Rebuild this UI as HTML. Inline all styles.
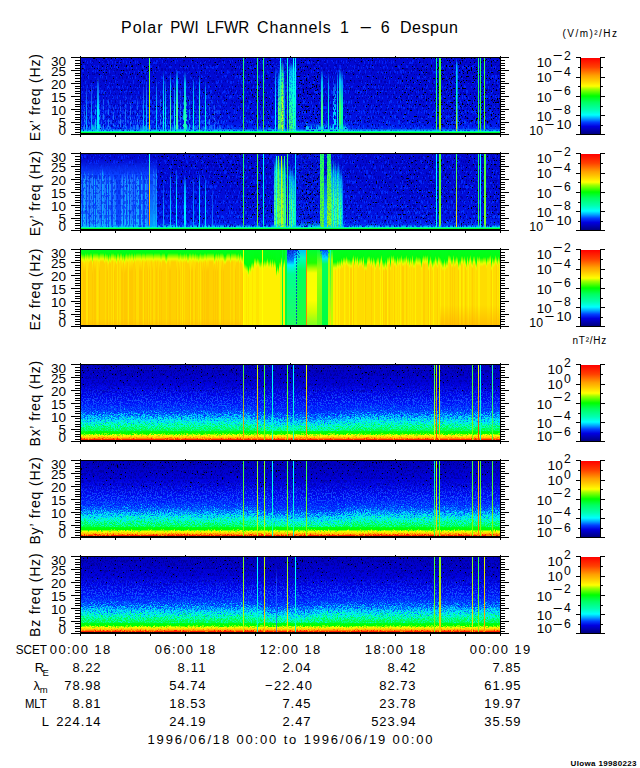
<!DOCTYPE html>
<html><head><meta charset="utf-8"><title>Polar PWI LFWR Channels 1-6 Despun</title>
<style>html,body{margin:0;padding:0;background:#fff;width:640px;height:768px;overflow:hidden}svg{display:block}</style>
</head><body>
<svg width="640" height="768" viewBox="0 0 640 768" font-family="'Liberation Sans', sans-serif" shape-rendering="crispEdges"><defs><clipPath id="clip0"><rect x="81" y="58" width="419" height="75"/></clipPath><filter id="dispA" x="0" y="0" width="1" height="1" color-interpolation-filters="sRGB"><feTurbulence type="fractalNoise" baseFrequency="1.3 0.9" numOctaves="2" seed="51" result="n"/><feColorMatrix in="n" type="matrix" values="1 0 0 0 0  0 0 0 0 0.5  0 0 0 0 0  0 0 0 0 1" result="m"/><feDisplacementMap in="SourceGraphic" in2="m" scale="28" xChannelSelector="G" yChannelSelector="R"/></filter><filter id="dispB" x="0" y="0" width="1" height="1" color-interpolation-filters="sRGB"><feTurbulence type="fractalNoise" baseFrequency="1.3 0.9" numOctaves="2" seed="53" result="n"/><feColorMatrix in="n" type="matrix" values="1 0 0 0 0  0 0 0 0 0.5  0 0 0 0 0  0 0 0 0 1" result="m"/><feDisplacementMap in="SourceGraphic" in2="m" scale="4" xChannelSelector="G" yChannelSelector="R"/></filter><filter id="d1" x="0" y="0" width="1" height="1" color-interpolation-filters="sRGB"><feTurbulence type="fractalNoise" baseFrequency="0.8 0.5" numOctaves="2" seed="11"/><feColorMatrix type="matrix" values="0 0 0 0 0  0 0 0 0 0  0 0 0 0 0  -30 0 0 0 7.200"/></filter><filter id="d3" x="0" y="0" width="1" height="1" color-interpolation-filters="sRGB"><feTurbulence type="fractalNoise" baseFrequency="0.8 0.5" numOctaves="2" seed="11"/><feColorMatrix type="matrix" values="0 0 0 0 0  0 0 0 0 0  0 0 0 0 0  -30 0 0 0 8.250"/></filter><filter id="d6" x="0" y="0" width="1" height="1" color-interpolation-filters="sRGB"><feTurbulence type="fractalNoise" baseFrequency="0.8 0.5" numOctaves="2" seed="11"/><feColorMatrix type="matrix" values="0 0 0 0 0  0 0 0 0 0  0 0 0 0 0  -30 0 0 0 9.300"/></filter><filter id="d10" x="0" y="0" width="1" height="1" color-interpolation-filters="sRGB"><feTurbulence type="fractalNoise" baseFrequency="0.8 0.5" numOctaves="2" seed="11"/><feColorMatrix type="matrix" values="0 0 0 0 0  0 0 0 0 0  0 0 0 0 0  -30 0 0 0 10.260"/></filter><filter id="d14" x="0" y="0" width="1" height="1" color-interpolation-filters="sRGB"><feTurbulence type="fractalNoise" baseFrequency="0.8 0.5" numOctaves="2" seed="11"/><feColorMatrix type="matrix" values="0 0 0 0 0  0 0 0 0 0  0 0 0 0 0  -30 0 0 0 11.100"/></filter><filter id="e2" x="0" y="0" width="1" height="1" color-interpolation-filters="sRGB"><feTurbulence type="fractalNoise" baseFrequency="0.8 0.5" numOctaves="2" seed="23"/><feColorMatrix type="matrix" values="0 0 0 0 0  0 0 0 0 0  0 0 0 0 0  -30 0 0 0 7.800"/></filter><filter id="e4" x="0" y="0" width="1" height="1" color-interpolation-filters="sRGB"><feTurbulence type="fractalNoise" baseFrequency="0.8 0.5" numOctaves="2" seed="23"/><feColorMatrix type="matrix" values="0 0 0 0 0  0 0 0 0 0  0 0 0 0 0  -30 0 0 0 8.700"/></filter><filter id="e8" x="0" y="0" width="1" height="1" color-interpolation-filters="sRGB"><feTurbulence type="fractalNoise" baseFrequency="0.8 0.5" numOctaves="2" seed="23"/><feColorMatrix type="matrix" values="0 0 0 0 0  0 0 0 0 0  0 0 0 0 0  -30 0 0 0 9.750"/></filter><filter id="fv25" x="0" y="0" width="1" height="1" color-interpolation-filters="sRGB"><feTurbulence type="fractalNoise" baseFrequency="1.0 0.2" numOctaves="2" seed="5"/><feColorMatrix type="matrix" values="30 0 0 0 -17.400  30 0 0 0 -17.400  30 0 0 0 -17.400  0 0 0 0 1"/></filter><mask id="v25" maskUnits="userSpaceOnUse" x="81" y="0" width="419" height="768"><rect x="81" y="0" width="419" height="768" fill="#fff" filter="url(#fv25)"/></mask><filter id="fv40" x="0" y="0" width="1" height="1" color-interpolation-filters="sRGB"><feTurbulence type="fractalNoise" baseFrequency="1.0 0.2" numOctaves="2" seed="7"/><feColorMatrix type="matrix" values="30 0 0 0 -15.900  30 0 0 0 -15.900  30 0 0 0 -15.900  0 0 0 0 1"/></filter><mask id="v40" maskUnits="userSpaceOnUse" x="81" y="0" width="419" height="768"><rect x="81" y="0" width="419" height="768" fill="#fff" filter="url(#fv40)"/></mask><filter id="fv60" x="0" y="0" width="1" height="1" color-interpolation-filters="sRGB"><feTurbulence type="fractalNoise" baseFrequency="1.0 0.2" numOctaves="2" seed="9"/><feColorMatrix type="matrix" values="30 0 0 0 -14.100  30 0 0 0 -14.100  30 0 0 0 -14.100  0 0 0 0 1"/></filter><mask id="v60" maskUnits="userSpaceOnUse" x="81" y="0" width="419" height="768"><rect x="81" y="0" width="419" height="768" fill="#fff" filter="url(#fv60)"/></mask><filter id="fv80" x="0" y="0" width="1" height="1" color-interpolation-filters="sRGB"><feTurbulence type="fractalNoise" baseFrequency="1.0 0.2" numOctaves="2" seed="13"/><feColorMatrix type="matrix" values="30 0 0 0 -12.000  30 0 0 0 -12.000  30 0 0 0 -12.000  0 0 0 0 1"/></filter><mask id="v80" maskUnits="userSpaceOnUse" x="81" y="0" width="419" height="768"><rect x="81" y="0" width="419" height="768" fill="#fff" filter="url(#fv80)"/></mask><filter id="fw25" x="0" y="0" width="1" height="1" color-interpolation-filters="sRGB"><feTurbulence type="fractalNoise" baseFrequency="1.0 0.25" numOctaves="2" seed="21"/><feColorMatrix type="matrix" values="30 0 0 0 -17.400  30 0 0 0 -17.400  30 0 0 0 -17.400  0 0 0 0 1"/></filter><mask id="w25" maskUnits="userSpaceOnUse" x="81" y="0" width="419" height="768"><rect x="81" y="0" width="419" height="768" fill="#fff" filter="url(#fw25)"/></mask><filter id="fw40" x="0" y="0" width="1" height="1" color-interpolation-filters="sRGB"><feTurbulence type="fractalNoise" baseFrequency="1.0 0.3" numOctaves="2" seed="29"/><feColorMatrix type="matrix" values="30 0 0 0 -15.900  30 0 0 0 -15.900  30 0 0 0 -15.900  0 0 0 0 1"/></filter><mask id="w40" maskUnits="userSpaceOnUse" x="81" y="0" width="419" height="768"><rect x="81" y="0" width="419" height="768" fill="#fff" filter="url(#fw40)"/></mask><filter id="fm35" x="0" y="0" width="1" height="1" color-interpolation-filters="sRGB"><feTurbulence type="fractalNoise" baseFrequency="0.8 0.6" numOctaves="2" seed="17"/><feColorMatrix type="matrix" values="30 0 0 0 -16.350  30 0 0 0 -16.350  30 0 0 0 -16.350  0 0 0 0 1"/></filter><mask id="m35" maskUnits="userSpaceOnUse" x="81" y="0" width="419" height="768"><rect x="81" y="0" width="419" height="768" fill="#fff" filter="url(#fm35)"/></mask><filter id="ft35" x="0" y="0" width="1" height="1" color-interpolation-filters="sRGB"><feTurbulence type="fractalNoise" baseFrequency="1.0 0.3" numOctaves="2" seed="41"/><feColorMatrix type="matrix" values="30 0 0 0 -16.350  30 0 0 0 -16.350  30 0 0 0 -16.350  0 0 0 0 1"/></filter><mask id="t35" maskUnits="userSpaceOnUse" x="81" y="0" width="419" height="768"><rect x="81" y="0" width="419" height="768" fill="#fff" filter="url(#ft35)"/></mask><filter id="fvs50" x="0" y="0" width="1" height="1" color-interpolation-filters="sRGB"><feTurbulence type="fractalNoise" baseFrequency="0.9 0.04" numOctaves="2" seed="61"/><feColorMatrix type="matrix" values="30 0 0 0 -15.000  30 0 0 0 -15.000  30 0 0 0 -15.000  0 0 0 0 1"/></filter><mask id="vs50" maskUnits="userSpaceOnUse" x="81" y="0" width="419" height="768"><rect x="81" y="0" width="419" height="768" fill="#fff" filter="url(#fvs50)"/></mask><filter id="fvs30" x="0" y="0" width="1" height="1" color-interpolation-filters="sRGB"><feTurbulence type="fractalNoise" baseFrequency="0.9 0.04" numOctaves="2" seed="67"/><feColorMatrix type="matrix" values="30 0 0 0 -16.800  30 0 0 0 -16.800  30 0 0 0 -16.800  0 0 0 0 1"/></filter><mask id="vs30" maskUnits="userSpaceOnUse" x="81" y="0" width="419" height="768"><rect x="81" y="0" width="419" height="768" fill="#fff" filter="url(#fvs30)"/></mask><filter id="ft35b" x="0" y="0" width="1" height="1" color-interpolation-filters="sRGB"><feTurbulence type="fractalNoise" baseFrequency="1.0 0.3" numOctaves="2" seed="43"/><feColorMatrix type="matrix" values="30 0 0 0 -16.350  30 0 0 0 -16.350  30 0 0 0 -16.350  0 0 0 0 1"/></filter><mask id="t35b" maskUnits="userSpaceOnUse" x="81" y="0" width="419" height="768"><rect x="81" y="0" width="419" height="768" fill="#fff" filter="url(#ft35b)"/></mask><filter id="fm50" x="0" y="0" width="1" height="1" color-interpolation-filters="sRGB"><feTurbulence type="fractalNoise" baseFrequency="0.8 0.6" numOctaves="2" seed="19"/><feColorMatrix type="matrix" values="30 0 0 0 -15.000  30 0 0 0 -15.000  30 0 0 0 -15.000  0 0 0 0 1"/></filter><mask id="m50" maskUnits="userSpaceOnUse" x="81" y="0" width="419" height="768"><rect x="81" y="0" width="419" height="768" fill="#fff" filter="url(#fm50)"/></mask><filter id="fm35b" x="0" y="0" width="1" height="1" color-interpolation-filters="sRGB"><feTurbulence type="fractalNoise" baseFrequency="0.8 0.6" numOctaves="2" seed="31"/><feColorMatrix type="matrix" values="30 0 0 0 -16.350  30 0 0 0 -16.350  30 0 0 0 -16.350  0 0 0 0 1"/></filter><mask id="m35b" maskUnits="userSpaceOnUse" x="81" y="0" width="419" height="768"><rect x="81" y="0" width="419" height="768" fill="#fff" filter="url(#fm35b)"/></mask><linearGradient id="g1" gradientUnits="userSpaceOnUse" x1="0" y1="58" x2="0" y2="133"><stop offset="0.0000" stop-color="#0008d0"/><stop offset="0.5333" stop-color="#000cd8"/><stop offset="0.8400" stop-color="#0014e4"/><stop offset="0.9467" stop-color="#0024f4"/><stop offset="1.0000" stop-color="#0030ff"/></linearGradient><linearGradient id="g2" gradientUnits="userSpaceOnUse" x1="0" y1="58" x2="0" y2="133"><stop offset="0.0000" stop-color="#0020f8"/><stop offset="0.7333" stop-color="#0030ff"/><stop offset="1.0000" stop-color="#0050ff"/></linearGradient><linearGradient id="g3" gradientUnits="userSpaceOnUse" x1="0" y1="88" x2="0" y2="133"><stop offset="0.0000" stop-color="#1050ff" stop-opacity="0"/><stop offset="0.7778" stop-color="#1060ff" stop-opacity="0.7"/><stop offset="1.0000" stop-color="#10a0ff"/></linearGradient><linearGradient id="g4" gradientUnits="userSpaceOnUse" x1="0" y1="95" x2="0" y2="133"><stop offset="0.0000" stop-color="#2080ff" stop-opacity="0.0"/><stop offset="0.2000" stop-color="#2080ff" stop-opacity="0.6"/><stop offset="0.6000" stop-color="#2080ff" stop-opacity="0.8999999999999999"/><stop offset="1.0000" stop-color="#2080ff"/></linearGradient><linearGradient id="g5" gradientUnits="userSpaceOnUse" x1="0" y1="100" x2="0" y2="133"><stop offset="0.0000" stop-color="#2080ff" stop-opacity="0.0"/><stop offset="0.2000" stop-color="#2080ff" stop-opacity="0.6"/><stop offset="0.6000" stop-color="#2080ff" stop-opacity="0.8999999999999999"/><stop offset="1.0000" stop-color="#2080ff"/></linearGradient><linearGradient id="g6" gradientUnits="userSpaceOnUse" x1="0" y1="95" x2="0" y2="133"><stop offset="0.0000" stop-color="#2080ff" stop-opacity="0.0"/><stop offset="0.2000" stop-color="#2080ff" stop-opacity="0.6"/><stop offset="0.6000" stop-color="#2080ff" stop-opacity="0.8999999999999999"/><stop offset="1.0000" stop-color="#2080ff"/></linearGradient><linearGradient id="g7" gradientUnits="userSpaceOnUse" x1="0" y1="105" x2="0" y2="133"><stop offset="0.0000" stop-color="#2080ff" stop-opacity="0.0"/><stop offset="0.2000" stop-color="#2080ff" stop-opacity="0.6"/><stop offset="0.6000" stop-color="#2080ff" stop-opacity="0.8999999999999999"/><stop offset="1.0000" stop-color="#2080ff"/></linearGradient><linearGradient id="g8" gradientUnits="userSpaceOnUse" x1="0" y1="100" x2="0" y2="133"><stop offset="0.0000" stop-color="#2080ff" stop-opacity="0.0"/><stop offset="0.2000" stop-color="#2080ff" stop-opacity="0.6"/><stop offset="0.6000" stop-color="#2080ff" stop-opacity="0.8999999999999999"/><stop offset="1.0000" stop-color="#2080ff"/></linearGradient><linearGradient id="g9" gradientUnits="userSpaceOnUse" x1="0" y1="90" x2="0" y2="133"><stop offset="0.0000" stop-color="#2080ff" stop-opacity="0.0"/><stop offset="0.2000" stop-color="#2080ff" stop-opacity="0.6"/><stop offset="0.6000" stop-color="#2080ff" stop-opacity="0.8999999999999999"/><stop offset="1.0000" stop-color="#2080ff"/></linearGradient><linearGradient id="g10" gradientUnits="userSpaceOnUse" x1="0" y1="92" x2="0" y2="133"><stop offset="0.0000" stop-color="#2080ff" stop-opacity="0.0"/><stop offset="0.2000" stop-color="#2080ff" stop-opacity="0.6"/><stop offset="0.6000" stop-color="#2080ff" stop-opacity="0.8999999999999999"/><stop offset="1.0000" stop-color="#2080ff"/></linearGradient><linearGradient id="g11" gradientUnits="userSpaceOnUse" x1="0" y1="96" x2="0" y2="133"><stop offset="0.0000" stop-color="#2080ff" stop-opacity="0.0"/><stop offset="0.2000" stop-color="#2080ff" stop-opacity="0.6"/><stop offset="0.6000" stop-color="#2080ff" stop-opacity="0.8999999999999999"/><stop offset="1.0000" stop-color="#2080ff"/></linearGradient><linearGradient id="g12" gradientUnits="userSpaceOnUse" x1="0" y1="90" x2="0" y2="133"><stop offset="0.0000" stop-color="#2080ff" stop-opacity="0.0"/><stop offset="0.2000" stop-color="#2080ff" stop-opacity="0.6"/><stop offset="0.6000" stop-color="#2080ff" stop-opacity="0.8999999999999999"/><stop offset="1.0000" stop-color="#2080ff"/></linearGradient><linearGradient id="g13" gradientUnits="userSpaceOnUse" x1="0" y1="88" x2="0" y2="133"><stop offset="0.0000" stop-color="#2080ff" stop-opacity="0.0"/><stop offset="0.2000" stop-color="#2080ff" stop-opacity="0.6"/><stop offset="0.6000" stop-color="#2080ff" stop-opacity="0.8999999999999999"/><stop offset="1.0000" stop-color="#2080ff"/></linearGradient><linearGradient id="g14" gradientUnits="userSpaceOnUse" x1="0" y1="95" x2="0" y2="133"><stop offset="0.0000" stop-color="#00a0ff" stop-opacity="0.0"/><stop offset="0.2000" stop-color="#00a0ff" stop-opacity="0.6"/><stop offset="0.6000" stop-color="#00a0ff" stop-opacity="0.8999999999999999"/><stop offset="1.0000" stop-color="#00a0ff"/></linearGradient><linearGradient id="g15" gradientUnits="userSpaceOnUse" x1="0" y1="100" x2="0" y2="133"><stop offset="0.0000" stop-color="#2080ff" stop-opacity="0.0"/><stop offset="0.2000" stop-color="#2080ff" stop-opacity="0.6"/><stop offset="0.6000" stop-color="#2080ff" stop-opacity="0.8999999999999999"/><stop offset="1.0000" stop-color="#2080ff"/></linearGradient><linearGradient id="g16" gradientUnits="userSpaceOnUse" x1="0" y1="104" x2="0" y2="133"><stop offset="0.0000" stop-color="#2080ff" stop-opacity="0.0"/><stop offset="0.2000" stop-color="#2080ff" stop-opacity="0.6"/><stop offset="0.6000" stop-color="#2080ff" stop-opacity="0.8999999999999999"/><stop offset="1.0000" stop-color="#2080ff"/></linearGradient><linearGradient id="g17" gradientUnits="userSpaceOnUse" x1="0" y1="122" x2="0" y2="133"><stop offset="0.0000" stop-color="#00c0ff" stop-opacity="0.0"/><stop offset="0.2000" stop-color="#00c0ff" stop-opacity="0.6"/><stop offset="0.6000" stop-color="#00c0ff" stop-opacity="0.8999999999999999"/><stop offset="1.0000" stop-color="#00c0ff"/></linearGradient><linearGradient id="g18" gradientUnits="userSpaceOnUse" x1="0" y1="100" x2="0" y2="133"><stop offset="0.0000" stop-color="#00c0ff" stop-opacity="0.0"/><stop offset="0.2000" stop-color="#00c0ff" stop-opacity="0.6"/><stop offset="0.6000" stop-color="#00c0ff" stop-opacity="0.8999999999999999"/><stop offset="1.0000" stop-color="#00c0ff"/></linearGradient><linearGradient id="g19" gradientUnits="userSpaceOnUse" x1="0" y1="98" x2="0" y2="133"><stop offset="0.0000" stop-color="#00c0ff" stop-opacity="0.0"/><stop offset="0.2000" stop-color="#00c0ff" stop-opacity="0.6"/><stop offset="0.6000" stop-color="#00c0ff" stop-opacity="0.8999999999999999"/><stop offset="1.0000" stop-color="#00c0ff"/></linearGradient><linearGradient id="g20" gradientUnits="userSpaceOnUse" x1="0" y1="100" x2="0" y2="133"><stop offset="0.0000" stop-color="#00ffc0" stop-opacity="0.0"/><stop offset="0.2000" stop-color="#00ffc0" stop-opacity="0.6"/><stop offset="0.6000" stop-color="#00ffc0" stop-opacity="0.8999999999999999"/><stop offset="1.0000" stop-color="#00ffc0"/></linearGradient><linearGradient id="g21" gradientUnits="userSpaceOnUse" x1="0" y1="95" x2="0" y2="133"><stop offset="0.0000" stop-color="#00ffc0" stop-opacity="0.0"/><stop offset="0.2000" stop-color="#00ffc0" stop-opacity="0.6"/><stop offset="0.6000" stop-color="#00ffc0" stop-opacity="0.8999999999999999"/><stop offset="1.0000" stop-color="#00ffc0"/></linearGradient><linearGradient id="g22" gradientUnits="userSpaceOnUse" x1="0" y1="75" x2="0" y2="133"><stop offset="0.0000" stop-color="#1080ff" stop-opacity="0.0"/><stop offset="0.2000" stop-color="#1080ff" stop-opacity="0.6"/><stop offset="0.6000" stop-color="#00e0ff" stop-opacity="0.8999999999999999"/><stop offset="1.0000" stop-color="#00e0ff"/></linearGradient><linearGradient id="g23" gradientUnits="userSpaceOnUse" x1="0" y1="80" x2="0" y2="133"><stop offset="0.0000" stop-color="#00e0ff" stop-opacity="0.0"/><stop offset="0.2000" stop-color="#00e0ff" stop-opacity="0.6"/><stop offset="0.6000" stop-color="#00e0ff" stop-opacity="0.8999999999999999"/><stop offset="1.0000" stop-color="#00e0ff"/></linearGradient><linearGradient id="g24" gradientUnits="userSpaceOnUse" x1="0" y1="119" x2="0" y2="133"><stop offset="0.0000" stop-color="#00c0ff" stop-opacity="0"/><stop offset="1.0000" stop-color="#00ffc0"/></linearGradient><linearGradient id="g25" gradientUnits="userSpaceOnUse" x1="0" y1="124" x2="0" y2="133"><stop offset="0.0000" stop-color="#00c0ff" stop-opacity="0"/><stop offset="1.0000" stop-color="#00ffc0"/></linearGradient><linearGradient id="g26" gradientUnits="userSpaceOnUse" x1="0" y1="125" x2="0" y2="133"><stop offset="0.0000" stop-color="#00c0ff" stop-opacity="0"/><stop offset="1.0000" stop-color="#00ffc0"/></linearGradient><linearGradient id="g27" gradientUnits="userSpaceOnUse" x1="0" y1="128" x2="0" y2="133"><stop offset="0.0000" stop-color="#00c0ff" stop-opacity="0"/><stop offset="1.0000" stop-color="#00ffc0"/></linearGradient><linearGradient id="g28" gradientUnits="userSpaceOnUse" x1="0" y1="129" x2="0" y2="133"><stop offset="0.0000" stop-color="#00c0ff" stop-opacity="0"/><stop offset="1.0000" stop-color="#00ffc0"/></linearGradient><linearGradient id="g29" gradientUnits="userSpaceOnUse" x1="0" y1="126" x2="0" y2="133"><stop offset="0.0000" stop-color="#00c0ff" stop-opacity="0"/><stop offset="1.0000" stop-color="#00ffc0"/></linearGradient><linearGradient id="g30" gradientUnits="userSpaceOnUse" x1="0" y1="84" x2="0" y2="133"><stop offset="0.0000" stop-color="#2070ff" stop-opacity="0.0"/><stop offset="0.2000" stop-color="#2070ff" stop-opacity="0.6"/><stop offset="0.6000" stop-color="#00b0ff" stop-opacity="0.8999999999999999"/><stop offset="1.0000" stop-color="#00b0ff"/></linearGradient><linearGradient id="g31" gradientUnits="userSpaceOnUse" x1="0" y1="81" x2="0" y2="133"><stop offset="0.0000" stop-color="#2070ff" stop-opacity="0.0"/><stop offset="0.2000" stop-color="#2070ff" stop-opacity="0.6"/><stop offset="0.6000" stop-color="#00b0ff" stop-opacity="0.8999999999999999"/><stop offset="1.0000" stop-color="#00b0ff"/></linearGradient><linearGradient id="g32" gradientUnits="userSpaceOnUse" x1="0" y1="76" x2="0" y2="133"><stop offset="0.0000" stop-color="#10a0ff" stop-opacity="0.0"/><stop offset="0.2000" stop-color="#10a0ff" stop-opacity="0.7"/><stop offset="0.6000" stop-color="#00f0ff"/><stop offset="1.0000" stop-color="#00f0ff"/></linearGradient><linearGradient id="g33" gradientUnits="userSpaceOnUse" x1="0" y1="82" x2="0" y2="133"><stop offset="0.0000" stop-color="#2070ff" stop-opacity="0.0"/><stop offset="0.2000" stop-color="#2070ff" stop-opacity="0.6"/><stop offset="0.6000" stop-color="#00c0ff" stop-opacity="0.8999999999999999"/><stop offset="1.0000" stop-color="#00c0ff"/></linearGradient><linearGradient id="g34" gradientUnits="userSpaceOnUse" x1="0" y1="77" x2="0" y2="133"><stop offset="0.0000" stop-color="#2080ff" stop-opacity="0.0"/><stop offset="0.2000" stop-color="#2080ff" stop-opacity="0.6"/><stop offset="0.6000" stop-color="#00d0ff" stop-opacity="0.8999999999999999"/><stop offset="1.0000" stop-color="#00d0ff"/></linearGradient><linearGradient id="g35" gradientUnits="userSpaceOnUse" x1="0" y1="78" x2="0" y2="133"><stop offset="0.0000" stop-color="#10a0ff" stop-opacity="0.0"/><stop offset="0.2000" stop-color="#10a0ff" stop-opacity="0.7"/><stop offset="0.6000" stop-color="#00d0ff"/><stop offset="1.0000" stop-color="#00d0ff"/></linearGradient><linearGradient id="g36" gradientUnits="userSpaceOnUse" x1="0" y1="70" x2="0" y2="133"><stop offset="0.0000" stop-color="#00c0ff" stop-opacity="0.0"/><stop offset="0.2000" stop-color="#00c0ff" stop-opacity="0.8"/><stop offset="0.6000" stop-color="#00ffe0"/><stop offset="1.0000" stop-color="#00ffe0"/></linearGradient><linearGradient id="g37" gradientUnits="userSpaceOnUse" x1="0" y1="78" x2="0" y2="133"><stop offset="0.0000" stop-color="#10a0ff" stop-opacity="0.0"/><stop offset="0.2000" stop-color="#10a0ff" stop-opacity="0.7"/><stop offset="0.6000" stop-color="#00e0ff"/><stop offset="1.0000" stop-color="#00e0ff"/></linearGradient><linearGradient id="g38" gradientUnits="userSpaceOnUse" x1="0" y1="72" x2="0" y2="133"><stop offset="0.0000" stop-color="#00e0ff" stop-opacity="0.0"/><stop offset="0.2000" stop-color="#00e0ff" stop-opacity="0.85"/><stop offset="0.6000" stop-color="#40ffa0"/><stop offset="1.0000" stop-color="#40ffa0"/></linearGradient><linearGradient id="g39" gradientUnits="userSpaceOnUse" x1="0" y1="80" x2="0" y2="133"><stop offset="0.0000" stop-color="#10a0ff" stop-opacity="0.0"/><stop offset="0.2000" stop-color="#10a0ff" stop-opacity="0.7"/><stop offset="0.6000" stop-color="#00e0ff"/><stop offset="1.0000" stop-color="#00e0ff"/></linearGradient><linearGradient id="g40" gradientUnits="userSpaceOnUse" x1="0" y1="69" x2="0" y2="133"><stop offset="0.0000" stop-color="#00e0ff" stop-opacity="0.0"/><stop offset="0.2000" stop-color="#00e0ff" stop-opacity="0.85"/><stop offset="0.6000" stop-color="#40ffa0"/><stop offset="1.0000" stop-color="#40ffa0"/></linearGradient><linearGradient id="g41" gradientUnits="userSpaceOnUse" x1="0" y1="71" x2="0" y2="133"><stop offset="0.0000" stop-color="#00e0ff" stop-opacity="0.0"/><stop offset="0.2000" stop-color="#00e0ff" stop-opacity="0.85"/><stop offset="0.6000" stop-color="#20ffb0"/><stop offset="1.0000" stop-color="#20ffb0"/></linearGradient><linearGradient id="g42" gradientUnits="userSpaceOnUse" x1="0" y1="77" x2="0" y2="133"><stop offset="0.0000" stop-color="#00c0ff" stop-opacity="0.0"/><stop offset="0.2000" stop-color="#00c0ff" stop-opacity="0.8"/><stop offset="0.6000" stop-color="#00ffe0"/><stop offset="1.0000" stop-color="#00ffe0"/></linearGradient><linearGradient id="g43" gradientUnits="userSpaceOnUse" x1="0" y1="74" x2="0" y2="133"><stop offset="0.0000" stop-color="#00e0ff" stop-opacity="0.0"/><stop offset="0.2000" stop-color="#00e0ff" stop-opacity="0.85"/><stop offset="0.6000" stop-color="#40ffa0"/><stop offset="1.0000" stop-color="#40ffa0"/></linearGradient><linearGradient id="g44" gradientUnits="userSpaceOnUse" x1="0" y1="80" x2="0" y2="133"><stop offset="0.0000" stop-color="#00c0ff" stop-opacity="0.0"/><stop offset="0.2000" stop-color="#00c0ff" stop-opacity="0.8"/><stop offset="0.6000" stop-color="#00ffe0"/><stop offset="1.0000" stop-color="#00ffe0"/></linearGradient><linearGradient id="g45" gradientUnits="userSpaceOnUse" x1="0" y1="67" x2="0" y2="133"><stop offset="0.0000" stop-color="#00c0ff" stop-opacity="0.0"/><stop offset="0.2000" stop-color="#00c0ff" stop-opacity="0.8"/><stop offset="0.6000" stop-color="#00ffff"/><stop offset="1.0000" stop-color="#00ffff"/></linearGradient><linearGradient id="g46" gradientUnits="userSpaceOnUse" x1="0" y1="70" x2="0" y2="133"><stop offset="0.0000" stop-color="#00e0ff" stop-opacity="0.0"/><stop offset="0.2000" stop-color="#00e0ff" stop-opacity="0.85"/><stop offset="0.6000" stop-color="#60ff60"/><stop offset="1.0000" stop-color="#60ff60"/></linearGradient><linearGradient id="g47" gradientUnits="userSpaceOnUse" x1="0" y1="66" x2="0" y2="133"><stop offset="0.0000" stop-color="#00e0ff" stop-opacity="0.0"/><stop offset="0.2000" stop-color="#00e0ff" stop-opacity="0.85"/><stop offset="0.6000" stop-color="#40ff80"/><stop offset="1.0000" stop-color="#40ff80"/></linearGradient><linearGradient id="g48" gradientUnits="userSpaceOnUse" x1="0" y1="60" x2="0" y2="133"><stop offset="0.0000" stop-color="#20ffa0" stop-opacity="0.0"/><stop offset="0.2000" stop-color="#20ffa0" stop-opacity="0.9"/><stop offset="0.6000" stop-color="#80ff40"/><stop offset="1.0000" stop-color="#80ff40"/></linearGradient><linearGradient id="g49" gradientUnits="userSpaceOnUse" x1="0" y1="58" x2="0" y2="133"><stop offset="0.0000" stop-color="#40ff80" stop-opacity="0.0"/><stop offset="0.2000" stop-color="#40ff80" stop-opacity="0.9"/><stop offset="0.6000" stop-color="#c0ff20"/><stop offset="1.0000" stop-color="#c0ff20"/></linearGradient><linearGradient id="g50" gradientUnits="userSpaceOnUse" x1="0" y1="62" x2="0" y2="133"><stop offset="0.0000" stop-color="#00ffc0" stop-opacity="0.0"/><stop offset="0.2000" stop-color="#00ffc0" stop-opacity="0.85"/><stop offset="0.6000" stop-color="#40ff60"/><stop offset="1.0000" stop-color="#40ff60"/></linearGradient><linearGradient id="g51" gradientUnits="userSpaceOnUse" x1="0" y1="75" x2="0" y2="133"><stop offset="0.0000" stop-color="#2070ff" stop-opacity="0.0"/><stop offset="0.2000" stop-color="#2070ff" stop-opacity="0.6"/><stop offset="0.6000" stop-color="#00c0ff" stop-opacity="0.8999999999999999"/><stop offset="1.0000" stop-color="#00c0ff"/></linearGradient><linearGradient id="g52" gradientUnits="userSpaceOnUse" x1="0" y1="66" x2="0" y2="133"><stop offset="0.0000" stop-color="#00c0ff" stop-opacity="0.0"/><stop offset="0.2000" stop-color="#00c0ff" stop-opacity="0.7"/><stop offset="0.6000" stop-color="#60ff60"/><stop offset="1.0000" stop-color="#60ff60"/></linearGradient><linearGradient id="g53" gradientUnits="userSpaceOnUse" x1="0" y1="64" x2="0" y2="133"><stop offset="0.0000" stop-color="#00d0ff" stop-opacity="0.0"/><stop offset="0.2000" stop-color="#00d0ff" stop-opacity="0.75"/><stop offset="0.6000" stop-color="#40ff80"/><stop offset="1.0000" stop-color="#40ff80"/></linearGradient><linearGradient id="g54" gradientUnits="userSpaceOnUse" x1="0" y1="66" x2="0" y2="133"><stop offset="0.0000" stop-color="#00e0ff" stop-opacity="0.0"/><stop offset="0.2000" stop-color="#00e0ff" stop-opacity="0.75"/><stop offset="0.6000" stop-color="#80ff40"/><stop offset="1.0000" stop-color="#80ff40"/></linearGradient><linearGradient id="g55" gradientUnits="userSpaceOnUse" x1="0" y1="68" x2="0" y2="133"><stop offset="0.0000" stop-color="#00c0ff" stop-opacity="0.0"/><stop offset="0.2000" stop-color="#00c0ff" stop-opacity="0.7"/><stop offset="0.6000" stop-color="#40ffa0"/><stop offset="1.0000" stop-color="#40ffa0"/></linearGradient><linearGradient id="g56" gradientUnits="userSpaceOnUse" x1="0" y1="71" x2="0" y2="133"><stop offset="0.0000" stop-color="#00d0ff" stop-opacity="0.0"/><stop offset="0.2000" stop-color="#00d0ff" stop-opacity="0.7"/><stop offset="0.6000" stop-color="#40ff80"/><stop offset="1.0000" stop-color="#40ff80"/></linearGradient><linearGradient id="g57" gradientUnits="userSpaceOnUse" x1="0" y1="69" x2="0" y2="133"><stop offset="0.0000" stop-color="#00e0ff" stop-opacity="0.0"/><stop offset="0.2000" stop-color="#00e0ff" stop-opacity="0.85"/><stop offset="0.6000" stop-color="#40ff80"/><stop offset="1.0000" stop-color="#40ff80"/></linearGradient><linearGradient id="g58" gradientUnits="userSpaceOnUse" x1="0" y1="72" x2="0" y2="133"><stop offset="0.0000" stop-color="#00c0ff" stop-opacity="0.0"/><stop offset="0.2000" stop-color="#00c0ff" stop-opacity="0.8"/><stop offset="0.6000" stop-color="#00ffc0"/><stop offset="1.0000" stop-color="#00ffc0"/></linearGradient><linearGradient id="g59" gradientUnits="userSpaceOnUse" x1="0" y1="70" x2="0" y2="133"><stop offset="0.0000" stop-color="#00c0ff" stop-opacity="0.0"/><stop offset="0.2000" stop-color="#00c0ff" stop-opacity="0.8"/><stop offset="0.6000" stop-color="#00ffd0"/><stop offset="1.0000" stop-color="#00ffd0"/></linearGradient><linearGradient id="g60" gradientUnits="userSpaceOnUse" x1="0" y1="67" x2="0" y2="133"><stop offset="0.0000" stop-color="#00e0ff" stop-opacity="0.0"/><stop offset="0.2000" stop-color="#00e0ff" stop-opacity="0.85"/><stop offset="0.6000" stop-color="#40ff60"/><stop offset="1.0000" stop-color="#40ff60"/></linearGradient><linearGradient id="g61" gradientUnits="userSpaceOnUse" x1="0" y1="70" x2="0" y2="133"><stop offset="0.0000" stop-color="#00c0ff" stop-opacity="0.0"/><stop offset="0.2000" stop-color="#00c0ff" stop-opacity="0.8"/><stop offset="0.6000" stop-color="#00ffa0"/><stop offset="1.0000" stop-color="#00ffa0"/></linearGradient><linearGradient id="g62" gradientUnits="userSpaceOnUse" x1="0" y1="123" x2="0" y2="133"><stop offset="0.0000" stop-color="#00c0ff" stop-opacity="0"/><stop offset="0.5000" stop-color="#00f0ff" stop-opacity="0.8"/><stop offset="1.0000" stop-color="#40ff60"/></linearGradient><linearGradient id="g63" gradientUnits="userSpaceOnUse" x1="0" y1="129" x2="0" y2="133"><stop offset="0.0000" stop-color="#00c0ff" stop-opacity="0"/><stop offset="1.0000" stop-color="#00ffc0" stop-opacity="0.9"/></linearGradient><linearGradient id="g64" gradientUnits="userSpaceOnUse" x1="0" y1="62" x2="0" y2="133"><stop offset="0.0000" stop-color="#00c0ff" stop-opacity="0"/><stop offset="0.1127" stop-color="#00e0ff" stop-opacity="0.7"/><stop offset="0.4648" stop-color="#00ffd0" stop-opacity="0.9"/><stop offset="1.0000" stop-color="#40ff60"/></linearGradient><linearGradient id="g65" gradientUnits="userSpaceOnUse" x1="0" y1="58" x2="0" y2="133"><stop offset="0.0000" stop-color="#00ffff"/><stop offset="0.5000" stop-color="#20ffa0"/><stop offset="1.0000" stop-color="#60ff40"/></linearGradient><linearGradient id="g66" gradientUnits="userSpaceOnUse" x1="0" y1="58" x2="0" y2="133"><stop offset="0.0000" stop-color="#00ffff"/><stop offset="1.0000" stop-color="#00ffe0"/></linearGradient><linearGradient id="g67" gradientUnits="userSpaceOnUse" x1="0" y1="58" x2="0" y2="133"><stop offset="0.0000" stop-color="#00ffff"/><stop offset="1.0000" stop-color="#00ffe0"/></linearGradient><linearGradient id="g68" gradientUnits="userSpaceOnUse" x1="0" y1="58" x2="0" y2="133"><stop offset="0.0000" stop-color="#40ff60"/><stop offset="0.5000" stop-color="#a0ff00"/><stop offset="1.0000" stop-color="#ffe000"/></linearGradient><linearGradient id="g69" gradientUnits="userSpaceOnUse" x1="0" y1="58" x2="0" y2="133"><stop offset="0.0000" stop-color="#20ff70"/><stop offset="1.0000" stop-color="#40ff40"/></linearGradient><linearGradient id="g70" gradientUnits="userSpaceOnUse" x1="0" y1="58" x2="0" y2="133"><stop offset="0.0000" stop-color="#20ff70"/><stop offset="1.0000" stop-color="#40ff40"/></linearGradient><linearGradient id="g71" gradientUnits="userSpaceOnUse" x1="0" y1="58" x2="0" y2="133"><stop offset="0.0000" stop-color="#20ff70"/><stop offset="1.0000" stop-color="#40ff40"/></linearGradient><linearGradient id="g72" gradientUnits="userSpaceOnUse" x1="0" y1="58" x2="0" y2="133"><stop offset="0.0000" stop-color="#00ffe0"/><stop offset="1.0000" stop-color="#40ff60"/></linearGradient><linearGradient id="g73" gradientUnits="userSpaceOnUse" x1="0" y1="58" x2="0" y2="133"><stop offset="0.0000" stop-color="#00ffa0"/><stop offset="1.0000" stop-color="#40ff40"/></linearGradient><linearGradient id="g74" gradientUnits="userSpaceOnUse" x1="0" y1="58" x2="0" y2="133"><stop offset="0.0000" stop-color="#20ff70"/><stop offset="1.0000" stop-color="#40ff40"/></linearGradient><linearGradient id="g75" gradientUnits="userSpaceOnUse" x1="0" y1="58" x2="0" y2="133"><stop offset="0.0000" stop-color="#20ff70"/><stop offset="1.0000" stop-color="#40ff40"/></linearGradient><linearGradient id="g76" gradientUnits="userSpaceOnUse" x1="0" y1="58" x2="0" y2="133"><stop offset="0.0000" stop-color="#40ff40"/><stop offset="1.0000" stop-color="#60ff20"/></linearGradient><linearGradient id="g77" gradientUnits="userSpaceOnUse" x1="0" y1="58" x2="0" y2="133"><stop offset="0.0000" stop-color="#40ff40"/><stop offset="1.0000" stop-color="#a0ff00"/></linearGradient><linearGradient id="g78" gradientUnits="userSpaceOnUse" x1="0" y1="59" x2="0" y2="133"><stop offset="0.0000" stop-color="#0060ff" stop-opacity="0.4"/><stop offset="0.0946" stop-color="#00c0ff"/><stop offset="0.4865" stop-color="#00ffc0"/><stop offset="0.7973" stop-color="#80ff40"/><stop offset="1.0000" stop-color="#ffe000"/></linearGradient><linearGradient id="g79" gradientUnits="userSpaceOnUse" x1="0" y1="62" x2="0" y2="133"><stop offset="0.0000" stop-color="#0080ff" stop-opacity="0.3"/><stop offset="0.1127" stop-color="#00a0ff" stop-opacity="0.8"/><stop offset="0.5352" stop-color="#00e0ff" stop-opacity="0.6"/><stop offset="1.0000" stop-color="#40ff80" stop-opacity="0.7"/></linearGradient><linearGradient id="g80" gradientUnits="userSpaceOnUse" x1="0" y1="128" x2="0" y2="132"><stop offset="0.0000" stop-color="#0080ff" stop-opacity="0.0"/><stop offset="0.5000" stop-color="#00b0ff" stop-opacity="0.7"/><stop offset="1.0000" stop-color="#00f0ff"/></linearGradient><linearGradient id="g81" gradientUnits="userSpaceOnUse" x1="0" y1="131" x2="0" y2="132"><stop offset="0.0000" stop-color="#00ffc0" stop-opacity="0.9"/><stop offset="1.0000" stop-color="#00ffc0" stop-opacity="0.9"/></linearGradient><clipPath id="clip1"><rect x="81" y="154" width="419" height="75"/></clipPath><linearGradient id="g82" gradientUnits="userSpaceOnUse" x1="0" y1="154" x2="0" y2="229"><stop offset="0.0000" stop-color="#0008d0"/><stop offset="0.5333" stop-color="#000cd8"/><stop offset="0.8400" stop-color="#0014e4"/><stop offset="0.9467" stop-color="#0024f4"/><stop offset="1.0000" stop-color="#0030ff"/></linearGradient><linearGradient id="g83" gradientUnits="userSpaceOnUse" x1="0" y1="154" x2="0" y2="229"><stop offset="0.0000" stop-color="#0020f8"/><stop offset="0.7333" stop-color="#0030ff"/><stop offset="1.0000" stop-color="#0050ff"/></linearGradient><linearGradient id="g84" gradientUnits="userSpaceOnUse" x1="0" y1="158" x2="0" y2="229"><stop offset="0.0000" stop-color="#0830f0" stop-opacity="0"/><stop offset="0.1408" stop-color="#0838f8" stop-opacity="0.7"/><stop offset="0.2254" stop-color="#0840ff"/><stop offset="1.0000" stop-color="#0848ff"/></linearGradient><linearGradient id="g85" gradientUnits="userSpaceOnUse" x1="0" y1="172" x2="0" y2="194"><stop offset="0.0000" stop-color="#2078ff" stop-opacity="0"/><stop offset="0.2727" stop-color="#2078ff" stop-opacity="0.9"/><stop offset="1.0000" stop-color="#2078ff" stop-opacity="0.9"/></linearGradient><linearGradient id="g86" gradientUnits="userSpaceOnUse" x1="0" y1="196" x2="0" y2="229"><stop offset="0.0000" stop-color="#2078ff" stop-opacity="0.7"/><stop offset="1.0000" stop-color="#10c0ff"/></linearGradient><linearGradient id="g87" gradientUnits="userSpaceOnUse" x1="0" y1="176" x2="0" y2="188"><stop offset="0.0000" stop-color="#2090ff" stop-opacity="0"/><stop offset="0.5000" stop-color="#2090ff" stop-opacity="0.9"/><stop offset="1.0000" stop-color="#2090ff" stop-opacity="0.9"/></linearGradient><linearGradient id="g88" gradientUnits="userSpaceOnUse" x1="0" y1="190" x2="0" y2="229"><stop offset="0.0000" stop-color="#2090ff" stop-opacity="0.7"/><stop offset="1.0000" stop-color="#10c0ff"/></linearGradient><linearGradient id="g89" gradientUnits="userSpaceOnUse" x1="0" y1="171" x2="0" y2="229"><stop offset="0.0000" stop-color="#10b0ff" stop-opacity="0"/><stop offset="0.1034" stop-color="#10b0ff" stop-opacity="0.9"/><stop offset="0.8276" stop-color="#10b0ff"/><stop offset="1.0000" stop-color="#10c0ff"/></linearGradient><linearGradient id="g90" gradientUnits="userSpaceOnUse" x1="0" y1="172" x2="0" y2="210"><stop offset="0.0000" stop-color="#2090ff" stop-opacity="0"/><stop offset="0.1579" stop-color="#2090ff" stop-opacity="0.9"/><stop offset="1.0000" stop-color="#2090ff" stop-opacity="0.9"/></linearGradient><linearGradient id="g91" gradientUnits="userSpaceOnUse" x1="0" y1="212" x2="0" y2="229"><stop offset="0.0000" stop-color="#2090ff" stop-opacity="0.7"/><stop offset="1.0000" stop-color="#10c0ff"/></linearGradient><linearGradient id="g92" gradientUnits="userSpaceOnUse" x1="0" y1="174" x2="0" y2="229"><stop offset="0.0000" stop-color="#2090ff" stop-opacity="0"/><stop offset="0.1091" stop-color="#2090ff" stop-opacity="0.9"/><stop offset="0.8182" stop-color="#2090ff"/><stop offset="1.0000" stop-color="#10c0ff"/></linearGradient><linearGradient id="g93" gradientUnits="userSpaceOnUse" x1="0" y1="170" x2="0" y2="213"><stop offset="0.0000" stop-color="#2078ff" stop-opacity="0"/><stop offset="0.1395" stop-color="#2078ff" stop-opacity="0.9"/><stop offset="1.0000" stop-color="#2078ff" stop-opacity="0.9"/></linearGradient><linearGradient id="g94" gradientUnits="userSpaceOnUse" x1="0" y1="215" x2="0" y2="229"><stop offset="0.0000" stop-color="#2078ff" stop-opacity="0.7"/><stop offset="1.0000" stop-color="#10c0ff"/></linearGradient><linearGradient id="g95" gradientUnits="userSpaceOnUse" x1="0" y1="176" x2="0" y2="215"><stop offset="0.0000" stop-color="#2090ff" stop-opacity="0"/><stop offset="0.1538" stop-color="#2090ff" stop-opacity="0.9"/><stop offset="1.0000" stop-color="#2090ff" stop-opacity="0.9"/></linearGradient><linearGradient id="g96" gradientUnits="userSpaceOnUse" x1="0" y1="217" x2="0" y2="229"><stop offset="0.0000" stop-color="#2090ff" stop-opacity="0.7"/><stop offset="1.0000" stop-color="#10c0ff"/></linearGradient><linearGradient id="g97" gradientUnits="userSpaceOnUse" x1="0" y1="173" x2="0" y2="213"><stop offset="0.0000" stop-color="#2078ff" stop-opacity="0"/><stop offset="0.1500" stop-color="#2078ff" stop-opacity="0.9"/><stop offset="1.0000" stop-color="#2078ff" stop-opacity="0.9"/></linearGradient><linearGradient id="g98" gradientUnits="userSpaceOnUse" x1="0" y1="215" x2="0" y2="229"><stop offset="0.0000" stop-color="#2078ff" stop-opacity="0.7"/><stop offset="1.0000" stop-color="#10c0ff"/></linearGradient><linearGradient id="g99" gradientUnits="userSpaceOnUse" x1="0" y1="169" x2="0" y2="229"><stop offset="0.0000" stop-color="#2090ff" stop-opacity="0"/><stop offset="0.1000" stop-color="#2090ff" stop-opacity="0.9"/><stop offset="0.8333" stop-color="#2090ff"/><stop offset="1.0000" stop-color="#10c0ff"/></linearGradient><linearGradient id="g100" gradientUnits="userSpaceOnUse" x1="0" y1="175" x2="0" y2="204"><stop offset="0.0000" stop-color="#10b0ff" stop-opacity="0"/><stop offset="0.2069" stop-color="#10b0ff" stop-opacity="0.9"/><stop offset="1.0000" stop-color="#10b0ff" stop-opacity="0.9"/></linearGradient><linearGradient id="g101" gradientUnits="userSpaceOnUse" x1="0" y1="206" x2="0" y2="229"><stop offset="0.0000" stop-color="#10b0ff" stop-opacity="0.7"/><stop offset="1.0000" stop-color="#10c0ff"/></linearGradient><linearGradient id="g102" gradientUnits="userSpaceOnUse" x1="0" y1="176" x2="0" y2="185"><stop offset="0.0000" stop-color="#2090ff" stop-opacity="0"/><stop offset="0.6667" stop-color="#2090ff" stop-opacity="0.9"/><stop offset="1.0000" stop-color="#2090ff" stop-opacity="0.9"/></linearGradient><linearGradient id="g103" gradientUnits="userSpaceOnUse" x1="0" y1="187" x2="0" y2="229"><stop offset="0.0000" stop-color="#2090ff" stop-opacity="0.7"/><stop offset="1.0000" stop-color="#10c0ff"/></linearGradient><linearGradient id="g104" gradientUnits="userSpaceOnUse" x1="0" y1="177" x2="0" y2="229"><stop offset="0.0000" stop-color="#2078ff" stop-opacity="0"/><stop offset="0.1154" stop-color="#2078ff" stop-opacity="0.9"/><stop offset="0.8077" stop-color="#2078ff"/><stop offset="1.0000" stop-color="#10c0ff"/></linearGradient><linearGradient id="g105" gradientUnits="userSpaceOnUse" x1="0" y1="173" x2="0" y2="229"><stop offset="0.0000" stop-color="#2090ff" stop-opacity="0"/><stop offset="0.1071" stop-color="#2090ff" stop-opacity="0.9"/><stop offset="0.8214" stop-color="#2090ff"/><stop offset="1.0000" stop-color="#10c0ff"/></linearGradient><linearGradient id="g106" gradientUnits="userSpaceOnUse" x1="0" y1="177" x2="0" y2="212"><stop offset="0.0000" stop-color="#2078ff" stop-opacity="0"/><stop offset="0.1714" stop-color="#2078ff" stop-opacity="0.9"/><stop offset="1.0000" stop-color="#2078ff" stop-opacity="0.9"/></linearGradient><linearGradient id="g107" gradientUnits="userSpaceOnUse" x1="0" y1="214" x2="0" y2="229"><stop offset="0.0000" stop-color="#2078ff" stop-opacity="0.7"/><stop offset="1.0000" stop-color="#10c0ff"/></linearGradient><linearGradient id="g108" gradientUnits="userSpaceOnUse" x1="0" y1="169" x2="0" y2="215"><stop offset="0.0000" stop-color="#2078ff" stop-opacity="0"/><stop offset="0.1304" stop-color="#2078ff" stop-opacity="0.9"/><stop offset="1.0000" stop-color="#2078ff" stop-opacity="0.9"/></linearGradient><linearGradient id="g109" gradientUnits="userSpaceOnUse" x1="0" y1="217" x2="0" y2="229"><stop offset="0.0000" stop-color="#2078ff" stop-opacity="0.7"/><stop offset="1.0000" stop-color="#10c0ff"/></linearGradient><linearGradient id="g110" gradientUnits="userSpaceOnUse" x1="0" y1="168" x2="0" y2="229"><stop offset="0.0000" stop-color="#10b0ff" stop-opacity="0"/><stop offset="0.0984" stop-color="#10b0ff" stop-opacity="0.9"/><stop offset="0.8361" stop-color="#10b0ff"/><stop offset="1.0000" stop-color="#10c0ff"/></linearGradient><linearGradient id="g111" gradientUnits="userSpaceOnUse" x1="0" y1="171" x2="0" y2="211"><stop offset="0.0000" stop-color="#2090ff" stop-opacity="0"/><stop offset="0.1500" stop-color="#2090ff" stop-opacity="0.9"/><stop offset="1.0000" stop-color="#2090ff" stop-opacity="0.9"/></linearGradient><linearGradient id="g112" gradientUnits="userSpaceOnUse" x1="0" y1="213" x2="0" y2="229"><stop offset="0.0000" stop-color="#2090ff" stop-opacity="0.7"/><stop offset="1.0000" stop-color="#10c0ff"/></linearGradient><linearGradient id="g113" gradientUnits="userSpaceOnUse" x1="0" y1="176" x2="0" y2="193"><stop offset="0.0000" stop-color="#2078ff" stop-opacity="0"/><stop offset="0.3529" stop-color="#2078ff" stop-opacity="0.9"/><stop offset="1.0000" stop-color="#2078ff" stop-opacity="0.9"/></linearGradient><linearGradient id="g114" gradientUnits="userSpaceOnUse" x1="0" y1="195" x2="0" y2="229"><stop offset="0.0000" stop-color="#2078ff" stop-opacity="0.7"/><stop offset="1.0000" stop-color="#10c0ff"/></linearGradient><linearGradient id="g115" gradientUnits="userSpaceOnUse" x1="0" y1="173" x2="0" y2="229"><stop offset="0.0000" stop-color="#2078ff" stop-opacity="0"/><stop offset="0.1071" stop-color="#2078ff" stop-opacity="0.9"/><stop offset="0.8214" stop-color="#2078ff"/><stop offset="1.0000" stop-color="#10c0ff"/></linearGradient><linearGradient id="g116" gradientUnits="userSpaceOnUse" x1="0" y1="177" x2="0" y2="195"><stop offset="0.0000" stop-color="#10b0ff" stop-opacity="0"/><stop offset="0.3333" stop-color="#10b0ff" stop-opacity="0.9"/><stop offset="1.0000" stop-color="#10b0ff" stop-opacity="0.9"/></linearGradient><linearGradient id="g117" gradientUnits="userSpaceOnUse" x1="0" y1="197" x2="0" y2="229"><stop offset="0.0000" stop-color="#10b0ff" stop-opacity="0.7"/><stop offset="1.0000" stop-color="#10c0ff"/></linearGradient><linearGradient id="g118" gradientUnits="userSpaceOnUse" x1="0" y1="173" x2="0" y2="229"><stop offset="0.0000" stop-color="#2090ff" stop-opacity="0"/><stop offset="0.1071" stop-color="#2090ff" stop-opacity="0.9"/><stop offset="0.8214" stop-color="#2090ff"/><stop offset="1.0000" stop-color="#10c0ff"/></linearGradient><linearGradient id="g119" gradientUnits="userSpaceOnUse" x1="0" y1="175" x2="0" y2="208"><stop offset="0.0000" stop-color="#2090ff" stop-opacity="0"/><stop offset="0.1818" stop-color="#2090ff" stop-opacity="0.9"/><stop offset="1.0000" stop-color="#2090ff" stop-opacity="0.9"/></linearGradient><linearGradient id="g120" gradientUnits="userSpaceOnUse" x1="0" y1="210" x2="0" y2="229"><stop offset="0.0000" stop-color="#2090ff" stop-opacity="0.7"/><stop offset="1.0000" stop-color="#10c0ff"/></linearGradient><linearGradient id="g121" gradientUnits="userSpaceOnUse" x1="0" y1="175" x2="0" y2="229"><stop offset="0.0000" stop-color="#2090ff" stop-opacity="0"/><stop offset="0.1111" stop-color="#2090ff" stop-opacity="0.9"/><stop offset="0.8148" stop-color="#2090ff"/><stop offset="1.0000" stop-color="#10c0ff"/></linearGradient><linearGradient id="g122" gradientUnits="userSpaceOnUse" x1="0" y1="178" x2="0" y2="229"><stop offset="0.0000" stop-color="#2078ff" stop-opacity="0"/><stop offset="0.1176" stop-color="#2078ff" stop-opacity="0.9"/><stop offset="0.8039" stop-color="#2078ff"/><stop offset="1.0000" stop-color="#10c0ff"/></linearGradient><linearGradient id="g123" gradientUnits="userSpaceOnUse" x1="0" y1="177" x2="0" y2="190"><stop offset="0.0000" stop-color="#2078ff" stop-opacity="0"/><stop offset="0.4615" stop-color="#2078ff" stop-opacity="0.9"/><stop offset="1.0000" stop-color="#2078ff" stop-opacity="0.9"/></linearGradient><linearGradient id="g124" gradientUnits="userSpaceOnUse" x1="0" y1="192" x2="0" y2="229"><stop offset="0.0000" stop-color="#2078ff" stop-opacity="0.7"/><stop offset="1.0000" stop-color="#10c0ff"/></linearGradient><linearGradient id="g125" gradientUnits="userSpaceOnUse" x1="0" y1="176" x2="0" y2="229"><stop offset="0.0000" stop-color="#2090ff" stop-opacity="0"/><stop offset="0.1132" stop-color="#2090ff" stop-opacity="0.9"/><stop offset="0.8113" stop-color="#2090ff"/><stop offset="1.0000" stop-color="#10c0ff"/></linearGradient><linearGradient id="g126" gradientUnits="userSpaceOnUse" x1="0" y1="173" x2="0" y2="186"><stop offset="0.0000" stop-color="#2090ff" stop-opacity="0"/><stop offset="0.4615" stop-color="#2090ff" stop-opacity="0.9"/><stop offset="1.0000" stop-color="#2090ff" stop-opacity="0.9"/></linearGradient><linearGradient id="g127" gradientUnits="userSpaceOnUse" x1="0" y1="188" x2="0" y2="229"><stop offset="0.0000" stop-color="#2090ff" stop-opacity="0.7"/><stop offset="1.0000" stop-color="#10c0ff"/></linearGradient><linearGradient id="g128" gradientUnits="userSpaceOnUse" x1="0" y1="172" x2="0" y2="206"><stop offset="0.0000" stop-color="#2078ff" stop-opacity="0"/><stop offset="0.1765" stop-color="#2078ff" stop-opacity="0.9"/><stop offset="1.0000" stop-color="#2078ff" stop-opacity="0.9"/></linearGradient><linearGradient id="g129" gradientUnits="userSpaceOnUse" x1="0" y1="208" x2="0" y2="229"><stop offset="0.0000" stop-color="#2078ff" stop-opacity="0.7"/><stop offset="1.0000" stop-color="#10c0ff"/></linearGradient><linearGradient id="g130" gradientUnits="userSpaceOnUse" x1="0" y1="175" x2="0" y2="229"><stop offset="0.0000" stop-color="#10b0ff" stop-opacity="0"/><stop offset="0.1111" stop-color="#10b0ff" stop-opacity="0.9"/><stop offset="0.8148" stop-color="#10b0ff"/><stop offset="1.0000" stop-color="#10c0ff"/></linearGradient><linearGradient id="g131" gradientUnits="userSpaceOnUse" x1="0" y1="171" x2="0" y2="229"><stop offset="0.0000" stop-color="#2078ff" stop-opacity="0"/><stop offset="0.1034" stop-color="#2078ff" stop-opacity="0.9"/><stop offset="0.8276" stop-color="#2078ff"/><stop offset="1.0000" stop-color="#10c0ff"/></linearGradient><linearGradient id="g132" gradientUnits="userSpaceOnUse" x1="0" y1="177" x2="0" y2="229"><stop offset="0.0000" stop-color="#10b0ff" stop-opacity="0"/><stop offset="0.1154" stop-color="#10b0ff" stop-opacity="0.9"/><stop offset="0.8077" stop-color="#10b0ff"/><stop offset="1.0000" stop-color="#10c0ff"/></linearGradient><linearGradient id="g133" gradientUnits="userSpaceOnUse" x1="0" y1="175" x2="0" y2="211"><stop offset="0.0000" stop-color="#2090ff" stop-opacity="0"/><stop offset="0.1667" stop-color="#2090ff" stop-opacity="0.9"/><stop offset="1.0000" stop-color="#2090ff" stop-opacity="0.9"/></linearGradient><linearGradient id="g134" gradientUnits="userSpaceOnUse" x1="0" y1="213" x2="0" y2="229"><stop offset="0.0000" stop-color="#2090ff" stop-opacity="0.7"/><stop offset="1.0000" stop-color="#10c0ff"/></linearGradient><linearGradient id="g135" gradientUnits="userSpaceOnUse" x1="0" y1="176" x2="0" y2="229"><stop offset="0.0000" stop-color="#2078ff" stop-opacity="0"/><stop offset="0.1132" stop-color="#2078ff" stop-opacity="0.9"/><stop offset="0.8113" stop-color="#2078ff"/><stop offset="1.0000" stop-color="#10c0ff"/></linearGradient><linearGradient id="g136" gradientUnits="userSpaceOnUse" x1="0" y1="169" x2="0" y2="209"><stop offset="0.0000" stop-color="#2078ff" stop-opacity="0"/><stop offset="0.1500" stop-color="#2078ff" stop-opacity="0.9"/><stop offset="1.0000" stop-color="#2078ff" stop-opacity="0.9"/></linearGradient><linearGradient id="g137" gradientUnits="userSpaceOnUse" x1="0" y1="211" x2="0" y2="229"><stop offset="0.0000" stop-color="#2078ff" stop-opacity="0.7"/><stop offset="1.0000" stop-color="#10c0ff"/></linearGradient><linearGradient id="g138" gradientUnits="userSpaceOnUse" x1="0" y1="171" x2="0" y2="204"><stop offset="0.0000" stop-color="#2078ff" stop-opacity="0"/><stop offset="0.1818" stop-color="#2078ff" stop-opacity="0.9"/><stop offset="1.0000" stop-color="#2078ff" stop-opacity="0.9"/></linearGradient><linearGradient id="g139" gradientUnits="userSpaceOnUse" x1="0" y1="206" x2="0" y2="229"><stop offset="0.0000" stop-color="#2078ff" stop-opacity="0.7"/><stop offset="1.0000" stop-color="#10c0ff"/></linearGradient><linearGradient id="g140" gradientUnits="userSpaceOnUse" x1="0" y1="177" x2="0" y2="186"><stop offset="0.0000" stop-color="#2090ff" stop-opacity="0"/><stop offset="0.6667" stop-color="#2090ff" stop-opacity="0.9"/><stop offset="1.0000" stop-color="#2090ff" stop-opacity="0.9"/></linearGradient><linearGradient id="g141" gradientUnits="userSpaceOnUse" x1="0" y1="188" x2="0" y2="229"><stop offset="0.0000" stop-color="#2090ff" stop-opacity="0.7"/><stop offset="1.0000" stop-color="#10c0ff"/></linearGradient><linearGradient id="g142" gradientUnits="userSpaceOnUse" x1="0" y1="173" x2="0" y2="190"><stop offset="0.0000" stop-color="#2090ff" stop-opacity="0"/><stop offset="0.3529" stop-color="#2090ff" stop-opacity="0.9"/><stop offset="1.0000" stop-color="#2090ff" stop-opacity="0.9"/></linearGradient><linearGradient id="g143" gradientUnits="userSpaceOnUse" x1="0" y1="192" x2="0" y2="229"><stop offset="0.0000" stop-color="#2090ff" stop-opacity="0.7"/><stop offset="1.0000" stop-color="#10c0ff"/></linearGradient><linearGradient id="g144" gradientUnits="userSpaceOnUse" x1="0" y1="176" x2="0" y2="229"><stop offset="0.0000" stop-color="#10b0ff" stop-opacity="0"/><stop offset="0.1132" stop-color="#10b0ff" stop-opacity="0.9"/><stop offset="0.8113" stop-color="#10b0ff"/><stop offset="1.0000" stop-color="#10c0ff"/></linearGradient><linearGradient id="g145" gradientUnits="userSpaceOnUse" x1="0" y1="171" x2="0" y2="229"><stop offset="0.0000" stop-color="#10b0ff" stop-opacity="0"/><stop offset="0.1034" stop-color="#10b0ff" stop-opacity="0.9"/><stop offset="0.8276" stop-color="#10b0ff"/><stop offset="1.0000" stop-color="#10c0ff"/></linearGradient><linearGradient id="g146" gradientUnits="userSpaceOnUse" x1="0" y1="177" x2="0" y2="229"><stop offset="0.0000" stop-color="#2078ff" stop-opacity="0"/><stop offset="0.1154" stop-color="#2078ff" stop-opacity="0.9"/><stop offset="0.8077" stop-color="#2078ff"/><stop offset="1.0000" stop-color="#10c0ff"/></linearGradient><linearGradient id="g147" gradientUnits="userSpaceOnUse" x1="0" y1="176" x2="0" y2="199"><stop offset="0.0000" stop-color="#10b0ff" stop-opacity="0"/><stop offset="0.2609" stop-color="#10b0ff" stop-opacity="0.9"/><stop offset="1.0000" stop-color="#10b0ff" stop-opacity="0.9"/></linearGradient><linearGradient id="g148" gradientUnits="userSpaceOnUse" x1="0" y1="201" x2="0" y2="229"><stop offset="0.0000" stop-color="#10b0ff" stop-opacity="0.7"/><stop offset="1.0000" stop-color="#10c0ff"/></linearGradient><linearGradient id="g149" gradientUnits="userSpaceOnUse" x1="0" y1="176" x2="0" y2="229"><stop offset="0.0000" stop-color="#2078ff" stop-opacity="0"/><stop offset="0.1132" stop-color="#2078ff" stop-opacity="0.9"/><stop offset="0.8113" stop-color="#2078ff"/><stop offset="1.0000" stop-color="#10c0ff"/></linearGradient><linearGradient id="g150" gradientUnits="userSpaceOnUse" x1="0" y1="175" x2="0" y2="229"><stop offset="0.0000" stop-color="#2078ff" stop-opacity="0"/><stop offset="0.1111" stop-color="#2078ff" stop-opacity="0.9"/><stop offset="0.8148" stop-color="#2078ff"/><stop offset="1.0000" stop-color="#10c0ff"/></linearGradient><linearGradient id="g151" gradientUnits="userSpaceOnUse" x1="0" y1="175" x2="0" y2="229"><stop offset="0.0000" stop-color="#10b0ff" stop-opacity="0"/><stop offset="0.1111" stop-color="#10b0ff" stop-opacity="0.9"/><stop offset="0.8148" stop-color="#10b0ff"/><stop offset="1.0000" stop-color="#10c0ff"/></linearGradient><linearGradient id="g152" gradientUnits="userSpaceOnUse" x1="0" y1="168" x2="0" y2="229"><stop offset="0.0000" stop-color="#2078ff" stop-opacity="0"/><stop offset="0.0984" stop-color="#2078ff" stop-opacity="0.9"/><stop offset="0.8361" stop-color="#2078ff"/><stop offset="1.0000" stop-color="#10c0ff"/></linearGradient><linearGradient id="g153" gradientUnits="userSpaceOnUse" x1="0" y1="172" x2="0" y2="209"><stop offset="0.0000" stop-color="#2078ff" stop-opacity="0"/><stop offset="0.1622" stop-color="#2078ff" stop-opacity="0.9"/><stop offset="1.0000" stop-color="#2078ff" stop-opacity="0.9"/></linearGradient><linearGradient id="g154" gradientUnits="userSpaceOnUse" x1="0" y1="211" x2="0" y2="229"><stop offset="0.0000" stop-color="#2078ff" stop-opacity="0.7"/><stop offset="1.0000" stop-color="#10c0ff"/></linearGradient><linearGradient id="g155" gradientUnits="userSpaceOnUse" x1="0" y1="168" x2="0" y2="229"><stop offset="0.0000" stop-color="#10b0ff" stop-opacity="0"/><stop offset="0.0984" stop-color="#10b0ff" stop-opacity="0.9"/><stop offset="0.8361" stop-color="#10b0ff"/><stop offset="1.0000" stop-color="#10c0ff"/></linearGradient><linearGradient id="g156" gradientUnits="userSpaceOnUse" x1="0" y1="165" x2="0" y2="229"><stop offset="0.0000" stop-color="#0020d0" stop-opacity="0"/><stop offset="0.1719" stop-color="#0020d8" stop-opacity="0.6"/><stop offset="1.0000" stop-color="#0020e0" stop-opacity="0.4"/></linearGradient><linearGradient id="g157" gradientUnits="userSpaceOnUse" x1="0" y1="170" x2="0" y2="229"><stop offset="0.0000" stop-color="#1060ff" stop-opacity="0"/><stop offset="0.4237" stop-color="#1080ff" stop-opacity="0.5"/><stop offset="1.0000" stop-color="#00c0ff" stop-opacity="0.8"/></linearGradient><linearGradient id="g158" gradientUnits="userSpaceOnUse" x1="0" y1="225" x2="0" y2="229"><stop offset="0.0000" stop-color="#00c0ff" stop-opacity="0"/><stop offset="1.0000" stop-color="#00ffc0"/></linearGradient><linearGradient id="g159" gradientUnits="userSpaceOnUse" x1="0" y1="226" x2="0" y2="229"><stop offset="0.0000" stop-color="#00c0ff" stop-opacity="0"/><stop offset="1.0000" stop-color="#00ffc0"/></linearGradient><linearGradient id="g160" gradientUnits="userSpaceOnUse" x1="0" y1="223" x2="0" y2="229"><stop offset="0.0000" stop-color="#00c0ff" stop-opacity="0"/><stop offset="1.0000" stop-color="#00ffc0"/></linearGradient><linearGradient id="g161" gradientUnits="userSpaceOnUse" x1="0" y1="224" x2="0" y2="229"><stop offset="0.0000" stop-color="#00c0ff" stop-opacity="0"/><stop offset="1.0000" stop-color="#00ffc0"/></linearGradient><linearGradient id="g162" gradientUnits="userSpaceOnUse" x1="0" y1="221" x2="0" y2="229"><stop offset="0.0000" stop-color="#00c0ff" stop-opacity="0"/><stop offset="1.0000" stop-color="#00ffc0"/></linearGradient><linearGradient id="g163" gradientUnits="userSpaceOnUse" x1="0" y1="225" x2="0" y2="229"><stop offset="0.0000" stop-color="#00c0ff" stop-opacity="0"/><stop offset="1.0000" stop-color="#00ffc0"/></linearGradient><linearGradient id="g164" gradientUnits="userSpaceOnUse" x1="0" y1="169" x2="0" y2="229"><stop offset="0.0000" stop-color="#00a0ff" stop-opacity="0.0"/><stop offset="0.2000" stop-color="#00a0ff" stop-opacity="0.8"/><stop offset="0.6000" stop-color="#00c0ff"/><stop offset="1.0000" stop-color="#00c0ff"/></linearGradient><linearGradient id="g165" gradientUnits="userSpaceOnUse" x1="0" y1="169" x2="0" y2="229"><stop offset="0.0000" stop-color="#00c0ff" stop-opacity="0.0"/><stop offset="0.2000" stop-color="#00c0ff" stop-opacity="0.85"/><stop offset="0.6000" stop-color="#00f0ff"/><stop offset="1.0000" stop-color="#00f0ff"/></linearGradient><linearGradient id="g166" gradientUnits="userSpaceOnUse" x1="0" y1="176" x2="0" y2="229"><stop offset="0.0000" stop-color="#00c0ff" stop-opacity="0.0"/><stop offset="0.2000" stop-color="#00c0ff" stop-opacity="0.85"/><stop offset="0.6000" stop-color="#00f0ff"/><stop offset="1.0000" stop-color="#00f0ff"/></linearGradient><linearGradient id="g167" gradientUnits="userSpaceOnUse" x1="0" y1="173" x2="0" y2="229"><stop offset="0.0000" stop-color="#1070ff" stop-opacity="0.0"/><stop offset="0.2000" stop-color="#1070ff" stop-opacity="0.6"/><stop offset="0.6000" stop-color="#00a0ff" stop-opacity="0.8999999999999999"/><stop offset="1.0000" stop-color="#00a0ff"/></linearGradient><linearGradient id="g168" gradientUnits="userSpaceOnUse" x1="0" y1="172" x2="0" y2="229"><stop offset="0.0000" stop-color="#00c0ff" stop-opacity="0.0"/><stop offset="0.2000" stop-color="#00c0ff" stop-opacity="0.85"/><stop offset="0.6000" stop-color="#00f0ff"/><stop offset="1.0000" stop-color="#00f0ff"/></linearGradient><linearGradient id="g169" gradientUnits="userSpaceOnUse" x1="0" y1="177" x2="0" y2="229"><stop offset="0.0000" stop-color="#00b0ff" stop-opacity="0.0"/><stop offset="0.2000" stop-color="#00b0ff" stop-opacity="0.8"/><stop offset="0.6000" stop-color="#00e0ff"/><stop offset="1.0000" stop-color="#00e0ff"/></linearGradient><linearGradient id="g170" gradientUnits="userSpaceOnUse" x1="0" y1="180" x2="0" y2="229"><stop offset="0.0000" stop-color="#1070ff" stop-opacity="0.0"/><stop offset="0.2000" stop-color="#1070ff" stop-opacity="0.6"/><stop offset="0.6000" stop-color="#10a0ff" stop-opacity="0.8999999999999999"/><stop offset="1.0000" stop-color="#10a0ff"/></linearGradient><linearGradient id="g171" gradientUnits="userSpaceOnUse" x1="0" y1="185" x2="0" y2="229"><stop offset="0.0000" stop-color="#1060ff" stop-opacity="0.0"/><stop offset="0.2000" stop-color="#1060ff" stop-opacity="0.5"/><stop offset="0.6000" stop-color="#1080ff" stop-opacity="0.8"/><stop offset="1.0000" stop-color="#1080ff"/></linearGradient><linearGradient id="g172" gradientUnits="userSpaceOnUse" x1="0" y1="175" x2="0" y2="229"><stop offset="0.0000" stop-color="#00a0ff" stop-opacity="0.0"/><stop offset="0.2000" stop-color="#00a0ff" stop-opacity="0.6"/><stop offset="0.6000" stop-color="#00c0ff" stop-opacity="0.8999999999999999"/><stop offset="1.0000" stop-color="#00c0ff"/></linearGradient><linearGradient id="g173" gradientUnits="userSpaceOnUse" x1="0" y1="160" x2="0" y2="229"><stop offset="0.0000" stop-color="#00e0ff" stop-opacity="0.0"/><stop offset="0.2000" stop-color="#00e0ff" stop-opacity="0.85"/><stop offset="0.6000" stop-color="#40ff80"/><stop offset="1.0000" stop-color="#40ff80"/></linearGradient><linearGradient id="g174" gradientUnits="userSpaceOnUse" x1="0" y1="165" x2="0" y2="229"><stop offset="0.0000" stop-color="#00c0ff" stop-opacity="0.0"/><stop offset="0.2000" stop-color="#00c0ff" stop-opacity="0.8"/><stop offset="0.6000" stop-color="#00ffc0"/><stop offset="1.0000" stop-color="#00ffc0"/></linearGradient><linearGradient id="g175" gradientUnits="userSpaceOnUse" x1="0" y1="158" x2="0" y2="229"><stop offset="0.0000" stop-color="#00ffc0" stop-opacity="0.0"/><stop offset="0.2000" stop-color="#00ffc0" stop-opacity="0.9"/><stop offset="0.6000" stop-color="#60ff60"/><stop offset="1.0000" stop-color="#60ff60"/></linearGradient><linearGradient id="g176" gradientUnits="userSpaceOnUse" x1="0" y1="162" x2="0" y2="229"><stop offset="0.0000" stop-color="#00c0ff" stop-opacity="0.0"/><stop offset="0.2000" stop-color="#00c0ff" stop-opacity="0.8"/><stop offset="0.6000" stop-color="#00f0ff"/><stop offset="1.0000" stop-color="#00f0ff"/></linearGradient><linearGradient id="g177" gradientUnits="userSpaceOnUse" x1="0" y1="160" x2="0" y2="229"><stop offset="0.0000" stop-color="#00e0ff" stop-opacity="0.0"/><stop offset="0.2000" stop-color="#00e0ff" stop-opacity="0.85"/><stop offset="0.6000" stop-color="#40ffa0"/><stop offset="1.0000" stop-color="#40ffa0"/></linearGradient><linearGradient id="g178" gradientUnits="userSpaceOnUse" x1="0" y1="166" x2="0" y2="229"><stop offset="0.0000" stop-color="#00c0ff" stop-opacity="0.0"/><stop offset="0.2000" stop-color="#00c0ff" stop-opacity="0.8"/><stop offset="0.6000" stop-color="#00ffc0"/><stop offset="1.0000" stop-color="#00ffc0"/></linearGradient><linearGradient id="g179" gradientUnits="userSpaceOnUse" x1="0" y1="163" x2="0" y2="229"><stop offset="0.0000" stop-color="#00ffc0" stop-opacity="0.0"/><stop offset="0.2000" stop-color="#00ffc0" stop-opacity="0.9"/><stop offset="0.6000" stop-color="#60ff40"/><stop offset="1.0000" stop-color="#60ff40"/></linearGradient><linearGradient id="g180" gradientUnits="userSpaceOnUse" x1="0" y1="160" x2="0" y2="229"><stop offset="0.0000" stop-color="#00e0ff" stop-opacity="0.0"/><stop offset="0.2000" stop-color="#00e0ff" stop-opacity="0.85"/><stop offset="0.6000" stop-color="#40ffa0"/><stop offset="1.0000" stop-color="#40ffa0"/></linearGradient><linearGradient id="g181" gradientUnits="userSpaceOnUse" x1="0" y1="165" x2="0" y2="229"><stop offset="0.0000" stop-color="#00c0ff" stop-opacity="0.0"/><stop offset="0.2000" stop-color="#00c0ff" stop-opacity="0.8"/><stop offset="0.6000" stop-color="#00f0ff"/><stop offset="1.0000" stop-color="#00f0ff"/></linearGradient><linearGradient id="g182" gradientUnits="userSpaceOnUse" x1="0" y1="170" x2="0" y2="229"><stop offset="0.0000" stop-color="#00e0ff" stop-opacity="0.0"/><stop offset="0.2000" stop-color="#00e0ff" stop-opacity="0.8"/><stop offset="0.6000" stop-color="#40ff80"/><stop offset="1.0000" stop-color="#40ff80"/></linearGradient><linearGradient id="g183" gradientUnits="userSpaceOnUse" x1="0" y1="168" x2="0" y2="229"><stop offset="0.0000" stop-color="#00c0ff" stop-opacity="0.0"/><stop offset="0.2000" stop-color="#00c0ff" stop-opacity="0.8"/><stop offset="0.6000" stop-color="#00ffc0"/><stop offset="1.0000" stop-color="#00ffc0"/></linearGradient><linearGradient id="g184" gradientUnits="userSpaceOnUse" x1="0" y1="175" x2="0" y2="229"><stop offset="0.0000" stop-color="#00a0ff" stop-opacity="0.0"/><stop offset="0.2000" stop-color="#00a0ff" stop-opacity="0.7"/><stop offset="0.6000" stop-color="#00c0ff"/><stop offset="1.0000" stop-color="#00c0ff"/></linearGradient><linearGradient id="g185" gradientUnits="userSpaceOnUse" x1="0" y1="166" x2="0" y2="229"><stop offset="0.0000" stop-color="#00e0ff" stop-opacity="0.0"/><stop offset="0.2000" stop-color="#00e0ff" stop-opacity="0.85"/><stop offset="0.6000" stop-color="#40ffa0"/><stop offset="1.0000" stop-color="#40ffa0"/></linearGradient><linearGradient id="g186" gradientUnits="userSpaceOnUse" x1="0" y1="164" x2="0" y2="229"><stop offset="0.0000" stop-color="#00c0ff" stop-opacity="0.0"/><stop offset="0.2000" stop-color="#00c0ff" stop-opacity="0.85"/><stop offset="0.6000" stop-color="#00ffc0"/><stop offset="1.0000" stop-color="#00ffc0"/></linearGradient><linearGradient id="g187" gradientUnits="userSpaceOnUse" x1="0" y1="168" x2="0" y2="229"><stop offset="0.0000" stop-color="#00ffc0" stop-opacity="0.0"/><stop offset="0.2000" stop-color="#00ffc0" stop-opacity="0.85"/><stop offset="0.6000" stop-color="#60ff60"/><stop offset="1.0000" stop-color="#60ff60"/></linearGradient><linearGradient id="g188" gradientUnits="userSpaceOnUse" x1="0" y1="165" x2="0" y2="229"><stop offset="0.0000" stop-color="#00c0ff" stop-opacity="0.0"/><stop offset="0.2000" stop-color="#00c0ff" stop-opacity="0.8"/><stop offset="0.6000" stop-color="#00f0ff"/><stop offset="1.0000" stop-color="#00f0ff"/></linearGradient><linearGradient id="g189" gradientUnits="userSpaceOnUse" x1="0" y1="170" x2="0" y2="229"><stop offset="0.0000" stop-color="#00e0ff" stop-opacity="0.0"/><stop offset="0.2000" stop-color="#00e0ff" stop-opacity="0.8"/><stop offset="0.6000" stop-color="#40ff80"/><stop offset="1.0000" stop-color="#40ff80"/></linearGradient><linearGradient id="g190" gradientUnits="userSpaceOnUse" x1="0" y1="172" x2="0" y2="229"><stop offset="0.0000" stop-color="#00c0ff" stop-opacity="0.0"/><stop offset="0.2000" stop-color="#00c0ff" stop-opacity="0.8"/><stop offset="0.6000" stop-color="#00ffc0"/><stop offset="1.0000" stop-color="#00ffc0"/></linearGradient><linearGradient id="g191" gradientUnits="userSpaceOnUse" x1="0" y1="158" x2="0" y2="229"><stop offset="0.0000" stop-color="#00e0ff" stop-opacity="0.0"/><stop offset="0.2000" stop-color="#00e0ff" stop-opacity="0.85"/><stop offset="0.6000" stop-color="#40ffa0"/><stop offset="1.0000" stop-color="#40ffa0"/></linearGradient><linearGradient id="g192" gradientUnits="userSpaceOnUse" x1="0" y1="156" x2="0" y2="229"><stop offset="0.0000" stop-color="#20ffa0" stop-opacity="0.0"/><stop offset="0.2000" stop-color="#20ffa0" stop-opacity="0.9"/><stop offset="0.6000" stop-color="#60ff60"/><stop offset="1.0000" stop-color="#60ff60"/></linearGradient><linearGradient id="g193" gradientUnits="userSpaceOnUse" x1="0" y1="157" x2="0" y2="229"><stop offset="0.0000" stop-color="#40ff80" stop-opacity="0.0"/><stop offset="0.2000" stop-color="#40ff80" stop-opacity="0.9"/><stop offset="0.6000" stop-color="#80ff40"/><stop offset="1.0000" stop-color="#80ff40"/></linearGradient><linearGradient id="g194" gradientUnits="userSpaceOnUse" x1="0" y1="156" x2="0" y2="229"><stop offset="0.0000" stop-color="#00ffc0" stop-opacity="0.0"/><stop offset="0.2000" stop-color="#00ffc0" stop-opacity="0.9"/><stop offset="0.6000" stop-color="#60ff60"/><stop offset="1.0000" stop-color="#60ff60"/></linearGradient><linearGradient id="g195" gradientUnits="userSpaceOnUse" x1="0" y1="158" x2="0" y2="229"><stop offset="0.0000" stop-color="#00e0ff" stop-opacity="0.0"/><stop offset="0.2000" stop-color="#00e0ff" stop-opacity="0.85"/><stop offset="0.6000" stop-color="#40ff80"/><stop offset="1.0000" stop-color="#40ff80"/></linearGradient><linearGradient id="g196" gradientUnits="userSpaceOnUse" x1="0" y1="156" x2="0" y2="229"><stop offset="0.0000" stop-color="#40ff60" stop-opacity="0.0"/><stop offset="0.2000" stop-color="#40ff60" stop-opacity="0.9"/><stop offset="0.6000" stop-color="#a0ff20"/><stop offset="1.0000" stop-color="#a0ff20"/></linearGradient><linearGradient id="g197" gradientUnits="userSpaceOnUse" x1="0" y1="160" x2="0" y2="229"><stop offset="0.0000" stop-color="#00ffc0" stop-opacity="0.0"/><stop offset="0.2000" stop-color="#00ffc0" stop-opacity="0.85"/><stop offset="0.6000" stop-color="#60ff60"/><stop offset="1.0000" stop-color="#60ff60"/></linearGradient><linearGradient id="g198" gradientUnits="userSpaceOnUse" x1="0" y1="162" x2="0" y2="229"><stop offset="0.0000" stop-color="#00e0ff" stop-opacity="0.0"/><stop offset="0.2000" stop-color="#00e0ff" stop-opacity="0.8"/><stop offset="0.6000" stop-color="#40ff80"/><stop offset="1.0000" stop-color="#40ff80"/></linearGradient><linearGradient id="g199" gradientUnits="userSpaceOnUse" x1="0" y1="154" x2="0" y2="229"><stop offset="0.0000" stop-color="#20ff60"/><stop offset="1.0000" stop-color="#60ff20"/></linearGradient><linearGradient id="g200" gradientUnits="userSpaceOnUse" x1="0" y1="154" x2="0" y2="229"><stop offset="0.0000" stop-color="#20ff60"/><stop offset="1.0000" stop-color="#a0ff00"/></linearGradient><linearGradient id="g201" gradientUnits="userSpaceOnUse" x1="0" y1="156" x2="0" y2="229"><stop offset="0.0000" stop-color="#00ffff"/><stop offset="1.0000" stop-color="#00ffff"/></linearGradient><linearGradient id="g202" gradientUnits="userSpaceOnUse" x1="0" y1="156" x2="0" y2="229"><stop offset="0.0000" stop-color="#60ff40"/><stop offset="1.0000" stop-color="#60ff40"/></linearGradient><linearGradient id="g203" gradientUnits="userSpaceOnUse" x1="0" y1="156" x2="0" y2="229"><stop offset="0.0000" stop-color="#c0ff00"/><stop offset="1.0000" stop-color="#c0ff00"/></linearGradient><linearGradient id="g204" gradientUnits="userSpaceOnUse" x1="0" y1="156" x2="0" y2="229"><stop offset="0.0000" stop-color="#20ff80"/><stop offset="1.0000" stop-color="#20ff80"/></linearGradient><linearGradient id="g205" gradientUnits="userSpaceOnUse" x1="0" y1="154" x2="0" y2="229"><stop offset="0.0000" stop-color="#00e0ff"/><stop offset="1.0000" stop-color="#00ffc0"/></linearGradient><linearGradient id="g206" gradientUnits="userSpaceOnUse" x1="0" y1="154" x2="0" y2="229"><stop offset="0.0000" stop-color="#00ffff"/><stop offset="0.5000" stop-color="#ffd000"/><stop offset="1.0000" stop-color="#ff9000"/></linearGradient><linearGradient id="g207" gradientUnits="userSpaceOnUse" x1="0" y1="154" x2="0" y2="229"><stop offset="0.0000" stop-color="#20ff70"/><stop offset="1.0000" stop-color="#40ff40"/></linearGradient><linearGradient id="g208" gradientUnits="userSpaceOnUse" x1="0" y1="154" x2="0" y2="229"><stop offset="0.0000" stop-color="#40ff40"/><stop offset="1.0000" stop-color="#60ff20"/></linearGradient><linearGradient id="g209" gradientUnits="userSpaceOnUse" x1="0" y1="154" x2="0" y2="229"><stop offset="0.0000" stop-color="#00ffff"/><stop offset="1.0000" stop-color="#00ffc0"/></linearGradient><linearGradient id="g210" gradientUnits="userSpaceOnUse" x1="0" y1="154" x2="0" y2="229"><stop offset="0.0000" stop-color="#20ff60"/><stop offset="1.0000" stop-color="#60ff20"/></linearGradient><linearGradient id="g211" gradientUnits="userSpaceOnUse" x1="0" y1="154" x2="0" y2="229"><stop offset="0.0000" stop-color="#00ffff"/><stop offset="1.0000" stop-color="#00ffe0"/></linearGradient><linearGradient id="g212" gradientUnits="userSpaceOnUse" x1="0" y1="154" x2="0" y2="229"><stop offset="0.0000" stop-color="#20ff60"/><stop offset="1.0000" stop-color="#ffe000"/></linearGradient><linearGradient id="g213" gradientUnits="userSpaceOnUse" x1="0" y1="154" x2="0" y2="229"><stop offset="0.0000" stop-color="#20ff70"/><stop offset="1.0000" stop-color="#40ff40"/></linearGradient><linearGradient id="g214" gradientUnits="userSpaceOnUse" x1="0" y1="154" x2="0" y2="229"><stop offset="0.0000" stop-color="#00ffff"/><stop offset="1.0000" stop-color="#00ffe0"/></linearGradient><linearGradient id="g215" gradientUnits="userSpaceOnUse" x1="0" y1="154" x2="0" y2="229"><stop offset="0.0000" stop-color="#40ff40"/><stop offset="1.0000" stop-color="#80ff20"/></linearGradient><linearGradient id="g216" gradientUnits="userSpaceOnUse" x1="0" y1="154" x2="0" y2="229"><stop offset="0.0000" stop-color="#40ff40"/><stop offset="1.0000" stop-color="#80ff20"/></linearGradient><linearGradient id="g217" gradientUnits="userSpaceOnUse" x1="0" y1="224" x2="0" y2="228"><stop offset="0.0000" stop-color="#0080ff" stop-opacity="0.0"/><stop offset="0.5000" stop-color="#00b0ff" stop-opacity="0.7"/><stop offset="1.0000" stop-color="#00f0ff"/></linearGradient><linearGradient id="g218" gradientUnits="userSpaceOnUse" x1="0" y1="227" x2="0" y2="228"><stop offset="0.0000" stop-color="#00ffc0" stop-opacity="0.9"/><stop offset="1.0000" stop-color="#00ffc0" stop-opacity="0.9"/></linearGradient><clipPath id="clip2"><rect x="81" y="250" width="419" height="75"/></clipPath><linearGradient id="g219" gradientUnits="userSpaceOnUse" x1="0" y1="250" x2="0" y2="325"><stop offset="0.0000" stop-color="#00ff20"/><stop offset="0.0400" stop-color="#00ff10"/><stop offset="0.0800" stop-color="#80ff00"/><stop offset="0.1200" stop-color="#e8ff00"/><stop offset="0.1600" stop-color="#ffd000"/><stop offset="0.2800" stop-color="#ffd000"/><stop offset="1.0000" stop-color="#ffd000"/></linearGradient><linearGradient id="g220" gradientUnits="userSpaceOnUse" x1="0" y1="250" x2="0" y2="325"><stop offset="0.0000" stop-color="#00ff20"/><stop offset="0.0533" stop-color="#00ff10"/><stop offset="0.0933" stop-color="#80ff00"/><stop offset="0.1333" stop-color="#e8ff00"/><stop offset="0.1733" stop-color="#ffd000"/><stop offset="0.2933" stop-color="#ffd000"/><stop offset="1.0000" stop-color="#ffd000"/></linearGradient><linearGradient id="g221" gradientUnits="userSpaceOnUse" x1="0" y1="250" x2="0" y2="325"><stop offset="0.0000" stop-color="#00ff20"/><stop offset="0.0533" stop-color="#00ff10"/><stop offset="0.0933" stop-color="#80ff00"/><stop offset="0.1333" stop-color="#e8ff00"/><stop offset="0.1733" stop-color="#ffe000"/><stop offset="0.2933" stop-color="#ffc800"/><stop offset="1.0000" stop-color="#ffc800"/></linearGradient><linearGradient id="g222" gradientUnits="userSpaceOnUse" x1="0" y1="250" x2="0" y2="325"><stop offset="0.0000" stop-color="#00ff20"/><stop offset="0.0667" stop-color="#00ff10"/><stop offset="0.1067" stop-color="#80ff00"/><stop offset="0.1467" stop-color="#e8ff00"/><stop offset="0.1867" stop-color="#ffe000"/><stop offset="0.3067" stop-color="#ffc800"/><stop offset="1.0000" stop-color="#ffc800"/></linearGradient><linearGradient id="g223" gradientUnits="userSpaceOnUse" x1="0" y1="250" x2="0" y2="325"><stop offset="0.0000" stop-color="#00ff20"/><stop offset="0.0400" stop-color="#00ff10"/><stop offset="0.0800" stop-color="#80ff00"/><stop offset="0.1200" stop-color="#e8ff00"/><stop offset="0.1600" stop-color="#ffe000"/><stop offset="0.2800" stop-color="#ffc800"/><stop offset="1.0000" stop-color="#ffc800"/></linearGradient><linearGradient id="g224" gradientUnits="userSpaceOnUse" x1="0" y1="250" x2="0" y2="325"><stop offset="0.0000" stop-color="#00ff20"/><stop offset="0.0533" stop-color="#00ff10"/><stop offset="0.0933" stop-color="#80ff00"/><stop offset="0.1333" stop-color="#e8ff00"/><stop offset="0.1733" stop-color="#ffe400"/><stop offset="0.2933" stop-color="#ffe400"/><stop offset="1.0000" stop-color="#ffe400"/></linearGradient><linearGradient id="g225" gradientUnits="userSpaceOnUse" x1="0" y1="250" x2="0" y2="325"><stop offset="0.0000" stop-color="#00ff20"/><stop offset="0.0400" stop-color="#00ff10"/><stop offset="0.0800" stop-color="#80ff00"/><stop offset="0.1200" stop-color="#e8ff00"/><stop offset="0.1600" stop-color="#ffe400"/><stop offset="0.2800" stop-color="#ffe400"/><stop offset="1.0000" stop-color="#ffe400"/></linearGradient><linearGradient id="g226" gradientUnits="userSpaceOnUse" x1="0" y1="250" x2="0" y2="325"><stop offset="0.0000" stop-color="#00ff20"/><stop offset="0.0800" stop-color="#00ff10"/><stop offset="0.1200" stop-color="#80ff00"/><stop offset="0.1600" stop-color="#e8ff00"/><stop offset="0.2000" stop-color="#ffe000"/><stop offset="0.3200" stop-color="#ffc800"/><stop offset="1.0000" stop-color="#ffc800"/></linearGradient><linearGradient id="g227" gradientUnits="userSpaceOnUse" x1="0" y1="250" x2="0" y2="325"><stop offset="0.0000" stop-color="#00ff20"/><stop offset="0.0400" stop-color="#00ff10"/><stop offset="0.0800" stop-color="#80ff00"/><stop offset="0.1200" stop-color="#e8ff00"/><stop offset="0.1600" stop-color="#ffdc00"/><stop offset="0.2800" stop-color="#ffdc00"/><stop offset="1.0000" stop-color="#ffdc00"/></linearGradient><linearGradient id="g228" gradientUnits="userSpaceOnUse" x1="0" y1="250" x2="0" y2="325"><stop offset="0.0000" stop-color="#00ff20"/><stop offset="0.0533" stop-color="#00ff10"/><stop offset="0.0933" stop-color="#80ff00"/><stop offset="0.1333" stop-color="#e8ff00"/><stop offset="0.1733" stop-color="#ffdc00"/><stop offset="0.2933" stop-color="#ffdc00"/><stop offset="1.0000" stop-color="#ffdc00"/></linearGradient><linearGradient id="g229" gradientUnits="userSpaceOnUse" x1="0" y1="250" x2="0" y2="325"><stop offset="0.0000" stop-color="#00ff20"/><stop offset="0.0667" stop-color="#00ff10"/><stop offset="0.1067" stop-color="#80ff00"/><stop offset="0.1467" stop-color="#e8ff00"/><stop offset="0.1867" stop-color="#ffd000"/><stop offset="0.3067" stop-color="#ffd000"/><stop offset="1.0000" stop-color="#ffd000"/></linearGradient><linearGradient id="g230" gradientUnits="userSpaceOnUse" x1="0" y1="250" x2="0" y2="325"><stop offset="0.0000" stop-color="#00ff20"/><stop offset="0.0800" stop-color="#00ff10"/><stop offset="0.1200" stop-color="#80ff00"/><stop offset="0.1600" stop-color="#e8ff00"/><stop offset="0.2000" stop-color="#ffdc00"/><stop offset="0.3200" stop-color="#ffdc00"/><stop offset="1.0000" stop-color="#ffdc00"/></linearGradient><linearGradient id="g231" gradientUnits="userSpaceOnUse" x1="0" y1="250" x2="0" y2="325"><stop offset="0.0000" stop-color="#00ff20"/><stop offset="0.0800" stop-color="#00ff10"/><stop offset="0.1200" stop-color="#80ff00"/><stop offset="0.1600" stop-color="#e8ff00"/><stop offset="0.2000" stop-color="#ffd000"/><stop offset="0.3200" stop-color="#ffd000"/><stop offset="1.0000" stop-color="#ffd000"/></linearGradient><linearGradient id="g232" gradientUnits="userSpaceOnUse" x1="0" y1="250" x2="0" y2="325"><stop offset="0.0000" stop-color="#00ff20"/><stop offset="0.0667" stop-color="#00ff10"/><stop offset="0.1067" stop-color="#80ff00"/><stop offset="0.1467" stop-color="#e8ff00"/><stop offset="0.1867" stop-color="#ffdc00"/><stop offset="0.3067" stop-color="#ffdc00"/><stop offset="1.0000" stop-color="#ffdc00"/></linearGradient><linearGradient id="g233" gradientUnits="userSpaceOnUse" x1="0" y1="250" x2="0" y2="325"><stop offset="0.0000" stop-color="#00ff20"/><stop offset="0.1333" stop-color="#00ff10"/><stop offset="0.1733" stop-color="#80ff00"/><stop offset="0.2133" stop-color="#e8ff00"/><stop offset="0.2533" stop-color="#fff000"/><stop offset="0.3733" stop-color="#fff000"/><stop offset="1.0000" stop-color="#fff000"/></linearGradient><linearGradient id="g234" gradientUnits="userSpaceOnUse" x1="0" y1="250" x2="0" y2="325"><stop offset="0.0000" stop-color="#00ff20"/><stop offset="0.1733" stop-color="#00ff10"/><stop offset="0.2133" stop-color="#80ff00"/><stop offset="0.2533" stop-color="#e8ff00"/><stop offset="0.2933" stop-color="#fff000"/><stop offset="0.4133" stop-color="#fff000"/><stop offset="1.0000" stop-color="#fff000"/></linearGradient><linearGradient id="g235" gradientUnits="userSpaceOnUse" x1="0" y1="250" x2="0" y2="325"><stop offset="0.0000" stop-color="#00ff20"/><stop offset="0.1867" stop-color="#00ff10"/><stop offset="0.2267" stop-color="#80ff00"/><stop offset="0.2667" stop-color="#e8ff00"/><stop offset="0.3067" stop-color="#fff000"/><stop offset="0.4267" stop-color="#fff000"/><stop offset="1.0000" stop-color="#fff000"/></linearGradient><linearGradient id="g236" gradientUnits="userSpaceOnUse" x1="0" y1="250" x2="0" y2="325"><stop offset="0.0000" stop-color="#00ff20"/><stop offset="0.2000" stop-color="#00ff10"/><stop offset="0.2400" stop-color="#80ff00"/><stop offset="0.2800" stop-color="#e8ff00"/><stop offset="0.3200" stop-color="#ffe400"/><stop offset="0.4400" stop-color="#ffe400"/><stop offset="1.0000" stop-color="#ffe400"/></linearGradient><linearGradient id="g237" gradientUnits="userSpaceOnUse" x1="0" y1="250" x2="0" y2="325"><stop offset="0.0000" stop-color="#00ff20"/><stop offset="0.2133" stop-color="#00ff10"/><stop offset="0.2533" stop-color="#80ff00"/><stop offset="0.2933" stop-color="#e8ff00"/><stop offset="0.3333" stop-color="#fff000"/><stop offset="0.4533" stop-color="#fff000"/><stop offset="1.0000" stop-color="#fff000"/></linearGradient><linearGradient id="g238" gradientUnits="userSpaceOnUse" x1="0" y1="250" x2="0" y2="325"><stop offset="0.0000" stop-color="#00ff20"/><stop offset="0.2533" stop-color="#00ff10"/><stop offset="0.2933" stop-color="#80ff00"/><stop offset="0.3333" stop-color="#e8ff00"/><stop offset="0.3733" stop-color="#ffe400"/><stop offset="0.4933" stop-color="#ffe400"/><stop offset="1.0000" stop-color="#ffe400"/></linearGradient><linearGradient id="g239" gradientUnits="userSpaceOnUse" x1="0" y1="250" x2="0" y2="325"><stop offset="0.0000" stop-color="#00ff20"/><stop offset="0.2000" stop-color="#00ff10"/><stop offset="0.2400" stop-color="#80ff00"/><stop offset="0.2800" stop-color="#e8ff00"/><stop offset="0.3200" stop-color="#fff000"/><stop offset="0.4400" stop-color="#fff000"/><stop offset="1.0000" stop-color="#fff000"/></linearGradient><linearGradient id="g240" gradientUnits="userSpaceOnUse" x1="0" y1="250" x2="0" y2="325"><stop offset="0.0000" stop-color="#00ff20"/><stop offset="0.1600" stop-color="#00ff10"/><stop offset="0.2000" stop-color="#80ff00"/><stop offset="0.2400" stop-color="#e8ff00"/><stop offset="0.2800" stop-color="#ffe400"/><stop offset="0.4000" stop-color="#ffe400"/><stop offset="1.0000" stop-color="#ffe400"/></linearGradient><linearGradient id="g241" gradientUnits="userSpaceOnUse" x1="0" y1="250" x2="0" y2="325"><stop offset="0.0000" stop-color="#00ff20"/><stop offset="0.1733" stop-color="#00ff10"/><stop offset="0.2133" stop-color="#80ff00"/><stop offset="0.2533" stop-color="#e8ff00"/><stop offset="0.2933" stop-color="#fff000"/><stop offset="0.4133" stop-color="#fff000"/><stop offset="1.0000" stop-color="#fff000"/></linearGradient><linearGradient id="g242" gradientUnits="userSpaceOnUse" x1="0" y1="250" x2="0" y2="325"><stop offset="0.0000" stop-color="#00ff20"/><stop offset="0.1067" stop-color="#00ff10"/><stop offset="0.1467" stop-color="#80ff00"/><stop offset="0.1867" stop-color="#e8ff00"/><stop offset="0.2267" stop-color="#fff000"/><stop offset="0.3467" stop-color="#fff000"/><stop offset="1.0000" stop-color="#fff000"/></linearGradient><linearGradient id="g243" gradientUnits="userSpaceOnUse" x1="0" y1="250" x2="0" y2="325"><stop offset="0.0000" stop-color="#00ff20"/><stop offset="0.1333" stop-color="#00ff10"/><stop offset="0.1733" stop-color="#80ff00"/><stop offset="0.2133" stop-color="#e8ff00"/><stop offset="0.2533" stop-color="#ffe400"/><stop offset="0.3733" stop-color="#ffe400"/><stop offset="1.0000" stop-color="#ffe400"/></linearGradient><linearGradient id="g244" gradientUnits="userSpaceOnUse" x1="0" y1="250" x2="0" y2="325"><stop offset="0.0000" stop-color="#00ff20"/><stop offset="0.1067" stop-color="#00ff10"/><stop offset="0.1467" stop-color="#80ff00"/><stop offset="0.1867" stop-color="#e8ff00"/><stop offset="0.2267" stop-color="#ffe400"/><stop offset="0.3467" stop-color="#ffe400"/><stop offset="1.0000" stop-color="#ffe400"/></linearGradient><linearGradient id="g245" gradientUnits="userSpaceOnUse" x1="0" y1="250" x2="0" y2="325"><stop offset="0.0000" stop-color="#00ff20"/><stop offset="0.1200" stop-color="#00ff10"/><stop offset="0.1600" stop-color="#80ff00"/><stop offset="0.2000" stop-color="#e8ff00"/><stop offset="0.2400" stop-color="#ffe400"/><stop offset="0.3600" stop-color="#ffe400"/><stop offset="1.0000" stop-color="#ffe400"/></linearGradient><linearGradient id="g246" gradientUnits="userSpaceOnUse" x1="0" y1="250" x2="0" y2="325"><stop offset="0.0000" stop-color="#00ff20"/><stop offset="0.1467" stop-color="#00ff10"/><stop offset="0.1867" stop-color="#80ff00"/><stop offset="0.2267" stop-color="#e8ff00"/><stop offset="0.2667" stop-color="#fff000"/><stop offset="0.3867" stop-color="#fff000"/><stop offset="1.0000" stop-color="#fff000"/></linearGradient><linearGradient id="g247" gradientUnits="userSpaceOnUse" x1="0" y1="250" x2="0" y2="325"><stop offset="0.0000" stop-color="#00ff20"/><stop offset="0.1600" stop-color="#00ff10"/><stop offset="0.2000" stop-color="#80ff00"/><stop offset="0.2400" stop-color="#e8ff00"/><stop offset="0.2800" stop-color="#fff000"/><stop offset="0.4000" stop-color="#fff000"/><stop offset="1.0000" stop-color="#fff000"/></linearGradient><linearGradient id="g248" gradientUnits="userSpaceOnUse" x1="0" y1="250" x2="0" y2="325"><stop offset="0.0000" stop-color="#00ff20"/><stop offset="0.1333" stop-color="#00ff10"/><stop offset="0.1733" stop-color="#80ff00"/><stop offset="0.2133" stop-color="#e8ff00"/><stop offset="0.2533" stop-color="#fff000"/><stop offset="0.3733" stop-color="#fff000"/><stop offset="1.0000" stop-color="#fff000"/></linearGradient><linearGradient id="g249" gradientUnits="userSpaceOnUse" x1="0" y1="250" x2="0" y2="325"><stop offset="0.0000" stop-color="#00ff20"/><stop offset="0.1467" stop-color="#00ff10"/><stop offset="0.1867" stop-color="#80ff00"/><stop offset="0.2267" stop-color="#e8ff00"/><stop offset="0.2667" stop-color="#fff000"/><stop offset="0.3867" stop-color="#fff000"/><stop offset="1.0000" stop-color="#fff000"/></linearGradient><linearGradient id="g250" gradientUnits="userSpaceOnUse" x1="0" y1="250" x2="0" y2="325"><stop offset="0.0000" stop-color="#00ff20"/><stop offset="0.1200" stop-color="#00ff10"/><stop offset="0.1600" stop-color="#80ff00"/><stop offset="0.2000" stop-color="#e8ff00"/><stop offset="0.2400" stop-color="#fff000"/><stop offset="0.3600" stop-color="#fff000"/><stop offset="1.0000" stop-color="#fff000"/></linearGradient><linearGradient id="g251" gradientUnits="userSpaceOnUse" x1="0" y1="250" x2="0" y2="325"><stop offset="0.0000" stop-color="#00ff20"/><stop offset="0.1600" stop-color="#00ff10"/><stop offset="0.2000" stop-color="#80ff00"/><stop offset="0.2400" stop-color="#e8ff00"/><stop offset="0.2800" stop-color="#fff000"/><stop offset="0.4000" stop-color="#fff000"/><stop offset="1.0000" stop-color="#fff000"/></linearGradient><linearGradient id="g252" gradientUnits="userSpaceOnUse" x1="0" y1="250" x2="0" y2="325"><stop offset="0.0000" stop-color="#00ff20"/><stop offset="0.2667" stop-color="#00ff10"/><stop offset="0.3067" stop-color="#80ff00"/><stop offset="0.3467" stop-color="#e8ff00"/><stop offset="0.3867" stop-color="#fff000"/><stop offset="0.5067" stop-color="#fff000"/><stop offset="1.0000" stop-color="#fff000"/></linearGradient><linearGradient id="g253" gradientUnits="userSpaceOnUse" x1="0" y1="250" x2="0" y2="325"><stop offset="0.0000" stop-color="#00ff20"/><stop offset="0.2133" stop-color="#00ff10"/><stop offset="0.2533" stop-color="#80ff00"/><stop offset="0.2933" stop-color="#e8ff00"/><stop offset="0.3333" stop-color="#fff000"/><stop offset="0.4533" stop-color="#fff000"/><stop offset="1.0000" stop-color="#fff000"/></linearGradient><linearGradient id="g254" gradientUnits="userSpaceOnUse" x1="0" y1="250" x2="0" y2="325"><stop offset="0.0000" stop-color="#00ff20"/><stop offset="0.2400" stop-color="#00ff10"/><stop offset="0.2800" stop-color="#80ff00"/><stop offset="0.3200" stop-color="#e8ff00"/><stop offset="0.3600" stop-color="#fff000"/><stop offset="0.4800" stop-color="#fff000"/><stop offset="1.0000" stop-color="#fff000"/></linearGradient><linearGradient id="g255" gradientUnits="userSpaceOnUse" x1="0" y1="250" x2="0" y2="325"><stop offset="0.0000" stop-color="#00ff20"/><stop offset="0.1600" stop-color="#00ff10"/><stop offset="0.2000" stop-color="#80ff00"/><stop offset="0.2400" stop-color="#e8ff00"/><stop offset="0.2800" stop-color="#d8ff00"/><stop offset="0.4000" stop-color="#d8ff00"/><stop offset="1.0000" stop-color="#d8ff00"/></linearGradient><linearGradient id="g256" gradientUnits="userSpaceOnUse" x1="0" y1="250" x2="0" y2="325"><stop offset="0.0000" stop-color="#00ff20"/><stop offset="0.0933" stop-color="#00ff10"/><stop offset="0.1333" stop-color="#80ff00"/><stop offset="0.1733" stop-color="#e8ff00"/><stop offset="0.2133" stop-color="#d8ff00"/><stop offset="0.3333" stop-color="#d8ff00"/><stop offset="1.0000" stop-color="#d8ff00"/></linearGradient><linearGradient id="g257" gradientUnits="userSpaceOnUse" x1="0" y1="250" x2="0" y2="325"><stop offset="0.0000" stop-color="#00ff20"/><stop offset="0.0933" stop-color="#00ff10"/><stop offset="0.1333" stop-color="#80ff00"/><stop offset="0.1733" stop-color="#e8ff00"/><stop offset="0.2133" stop-color="#fff000"/><stop offset="0.3333" stop-color="#fff000"/><stop offset="1.0000" stop-color="#fff000"/></linearGradient><linearGradient id="g258" gradientUnits="userSpaceOnUse" x1="0" y1="250" x2="0" y2="325"><stop offset="0.0000" stop-color="#00ff20"/><stop offset="0.1600" stop-color="#00ff10"/><stop offset="0.2000" stop-color="#80ff00"/><stop offset="0.2400" stop-color="#e8ff00"/><stop offset="0.2800" stop-color="#ffdc00"/><stop offset="0.4000" stop-color="#ffdc00"/><stop offset="1.0000" stop-color="#ffdc00"/></linearGradient><linearGradient id="g259" gradientUnits="userSpaceOnUse" x1="0" y1="250" x2="0" y2="325"><stop offset="0.0000" stop-color="#00ff20"/><stop offset="0.1467" stop-color="#00ff10"/><stop offset="0.1867" stop-color="#80ff00"/><stop offset="0.2267" stop-color="#e8ff00"/><stop offset="0.2667" stop-color="#ffdc00"/><stop offset="0.3867" stop-color="#ffdc00"/><stop offset="1.0000" stop-color="#ffdc00"/></linearGradient><linearGradient id="g260" gradientUnits="userSpaceOnUse" x1="0" y1="250" x2="0" y2="325"><stop offset="0.0000" stop-color="#00ff20"/><stop offset="0.1067" stop-color="#00ff10"/><stop offset="0.1467" stop-color="#80ff00"/><stop offset="0.1867" stop-color="#e8ff00"/><stop offset="0.2267" stop-color="#ffdc00"/><stop offset="0.3467" stop-color="#ffdc00"/><stop offset="1.0000" stop-color="#ffdc00"/></linearGradient><linearGradient id="g261" gradientUnits="userSpaceOnUse" x1="0" y1="250" x2="0" y2="325"><stop offset="0.0000" stop-color="#00ff20"/><stop offset="0.1333" stop-color="#00ff10"/><stop offset="0.1733" stop-color="#80ff00"/><stop offset="0.2133" stop-color="#e8ff00"/><stop offset="0.2533" stop-color="#ffdc00"/><stop offset="0.3733" stop-color="#ffdc00"/><stop offset="1.0000" stop-color="#ffdc00"/></linearGradient><linearGradient id="g262" gradientUnits="userSpaceOnUse" x1="0" y1="250" x2="0" y2="325"><stop offset="0.0000" stop-color="#00ff20"/><stop offset="0.0933" stop-color="#00ff10"/><stop offset="0.1333" stop-color="#80ff00"/><stop offset="0.1733" stop-color="#e8ff00"/><stop offset="0.2133" stop-color="#ffdc00"/><stop offset="0.3333" stop-color="#ffdc00"/><stop offset="1.0000" stop-color="#ffdc00"/></linearGradient><linearGradient id="g263" gradientUnits="userSpaceOnUse" x1="0" y1="250" x2="0" y2="325"><stop offset="0.0000" stop-color="#00ff20"/><stop offset="0.0800" stop-color="#00ff10"/><stop offset="0.1200" stop-color="#80ff00"/><stop offset="0.1600" stop-color="#e8ff00"/><stop offset="0.2000" stop-color="#ffdc00"/><stop offset="0.3200" stop-color="#ffdc00"/><stop offset="1.0000" stop-color="#ffdc00"/></linearGradient><linearGradient id="g264" gradientUnits="userSpaceOnUse" x1="0" y1="250" x2="0" y2="325"><stop offset="0.0000" stop-color="#00ff20"/><stop offset="0.1067" stop-color="#00ff10"/><stop offset="0.1467" stop-color="#80ff00"/><stop offset="0.1867" stop-color="#e8ff00"/><stop offset="0.2267" stop-color="#ffdc00"/><stop offset="0.3467" stop-color="#ffdc00"/><stop offset="1.0000" stop-color="#ffdc00"/></linearGradient><linearGradient id="g265" gradientUnits="userSpaceOnUse" x1="0" y1="250" x2="0" y2="325"><stop offset="0.0000" stop-color="#00ff20"/><stop offset="0.1200" stop-color="#00ff10"/><stop offset="0.1600" stop-color="#80ff00"/><stop offset="0.2000" stop-color="#e8ff00"/><stop offset="0.2400" stop-color="#ffdc00"/><stop offset="0.3600" stop-color="#ffdc00"/><stop offset="1.0000" stop-color="#ffdc00"/></linearGradient><linearGradient id="g266" gradientUnits="userSpaceOnUse" x1="0" y1="250" x2="0" y2="325"><stop offset="0.0000" stop-color="#00ff20"/><stop offset="0.1200" stop-color="#00ff10"/><stop offset="0.1600" stop-color="#80ff00"/><stop offset="0.2000" stop-color="#e8ff00"/><stop offset="0.2400" stop-color="#fff000"/><stop offset="0.3600" stop-color="#fff000"/><stop offset="1.0000" stop-color="#fff000"/></linearGradient><linearGradient id="g267" gradientUnits="userSpaceOnUse" x1="0" y1="250" x2="0" y2="325"><stop offset="0.0000" stop-color="#00ff20"/><stop offset="0.1333" stop-color="#00ff10"/><stop offset="0.1733" stop-color="#80ff00"/><stop offset="0.2133" stop-color="#e8ff00"/><stop offset="0.2533" stop-color="#ffd000"/><stop offset="0.3733" stop-color="#ffd000"/><stop offset="1.0000" stop-color="#ffd000"/></linearGradient><linearGradient id="g268" gradientUnits="userSpaceOnUse" x1="0" y1="250" x2="0" y2="325"><stop offset="0.0000" stop-color="#00ff20"/><stop offset="0.0933" stop-color="#00ff10"/><stop offset="0.1333" stop-color="#80ff00"/><stop offset="0.1733" stop-color="#e8ff00"/><stop offset="0.2133" stop-color="#fff000"/><stop offset="0.3333" stop-color="#fff000"/><stop offset="1.0000" stop-color="#fff000"/></linearGradient><linearGradient id="g269" gradientUnits="userSpaceOnUse" x1="0" y1="250" x2="0" y2="325"><stop offset="0.0000" stop-color="#00ff20"/><stop offset="0.0800" stop-color="#00ff10"/><stop offset="0.1200" stop-color="#80ff00"/><stop offset="0.1600" stop-color="#e8ff00"/><stop offset="0.2000" stop-color="#ffe400"/><stop offset="0.3200" stop-color="#ffe400"/><stop offset="1.0000" stop-color="#ffe400"/></linearGradient><linearGradient id="g270" gradientUnits="userSpaceOnUse" x1="0" y1="250" x2="0" y2="325"><stop offset="0.0000" stop-color="#00ff20"/><stop offset="0.1333" stop-color="#00ff10"/><stop offset="0.1733" stop-color="#80ff00"/><stop offset="0.2133" stop-color="#e8ff00"/><stop offset="0.2533" stop-color="#ffdc00"/><stop offset="0.3733" stop-color="#ffdc00"/><stop offset="1.0000" stop-color="#ffdc00"/></linearGradient><linearGradient id="g271" gradientUnits="userSpaceOnUse" x1="0" y1="250" x2="0" y2="325"><stop offset="0.0000" stop-color="#00ff20"/><stop offset="0.0933" stop-color="#00ff10"/><stop offset="0.1333" stop-color="#80ff00"/><stop offset="0.1733" stop-color="#e8ff00"/><stop offset="0.2133" stop-color="#ffdc00"/><stop offset="0.3333" stop-color="#ffdc00"/><stop offset="1.0000" stop-color="#ffdc00"/></linearGradient><linearGradient id="g272" gradientUnits="userSpaceOnUse" x1="0" y1="250" x2="0" y2="325"><stop offset="0.0000" stop-color="#00ff20"/><stop offset="0.1600" stop-color="#00ff10"/><stop offset="0.2000" stop-color="#80ff00"/><stop offset="0.2400" stop-color="#e8ff00"/><stop offset="0.2800" stop-color="#ffd000"/><stop offset="0.4000" stop-color="#ffd000"/><stop offset="1.0000" stop-color="#ffd000"/></linearGradient><linearGradient id="g273" gradientUnits="userSpaceOnUse" x1="0" y1="250" x2="0" y2="325"><stop offset="0.0000" stop-color="#00ff20"/><stop offset="0.1600" stop-color="#00ff10"/><stop offset="0.2000" stop-color="#80ff00"/><stop offset="0.2400" stop-color="#e8ff00"/><stop offset="0.2800" stop-color="#ffdc00"/><stop offset="0.4000" stop-color="#ffdc00"/><stop offset="1.0000" stop-color="#ffdc00"/></linearGradient><linearGradient id="g274" gradientUnits="userSpaceOnUse" x1="0" y1="250" x2="0" y2="325"><stop offset="0.0000" stop-color="#00ff20"/><stop offset="0.0933" stop-color="#00ff10"/><stop offset="0.1333" stop-color="#80ff00"/><stop offset="0.1733" stop-color="#e8ff00"/><stop offset="0.2133" stop-color="#ffd000"/><stop offset="0.3333" stop-color="#ffd000"/><stop offset="1.0000" stop-color="#ffd000"/></linearGradient><linearGradient id="g275" gradientUnits="userSpaceOnUse" x1="0" y1="250" x2="0" y2="325"><stop offset="0.0000" stop-color="#00ff20"/><stop offset="0.1067" stop-color="#00ff10"/><stop offset="0.1467" stop-color="#80ff00"/><stop offset="0.1867" stop-color="#e8ff00"/><stop offset="0.2267" stop-color="#fff000"/><stop offset="0.3467" stop-color="#fff000"/><stop offset="1.0000" stop-color="#fff000"/></linearGradient><linearGradient id="g276" gradientUnits="userSpaceOnUse" x1="0" y1="250" x2="0" y2="325"><stop offset="0.0000" stop-color="#00ff20"/><stop offset="0.0667" stop-color="#00ff10"/><stop offset="0.1067" stop-color="#80ff00"/><stop offset="0.1467" stop-color="#e8ff00"/><stop offset="0.1867" stop-color="#ffdc00"/><stop offset="0.3067" stop-color="#ffdc00"/><stop offset="1.0000" stop-color="#ffdc00"/></linearGradient><linearGradient id="g277" gradientUnits="userSpaceOnUse" x1="0" y1="250" x2="0" y2="325"><stop offset="0.0000" stop-color="#00ff20"/><stop offset="0.0667" stop-color="#00ff10"/><stop offset="0.1067" stop-color="#80ff00"/><stop offset="0.1467" stop-color="#e8ff00"/><stop offset="0.1867" stop-color="#ffe400"/><stop offset="0.3067" stop-color="#ffe400"/><stop offset="1.0000" stop-color="#ffe400"/></linearGradient><linearGradient id="g278" gradientUnits="userSpaceOnUse" x1="0" y1="250" x2="0" y2="325"><stop offset="0.0000" stop-color="#00ff20"/><stop offset="0.1067" stop-color="#00ff10"/><stop offset="0.1467" stop-color="#80ff00"/><stop offset="0.1867" stop-color="#e8ff00"/><stop offset="0.2267" stop-color="#ffd000"/><stop offset="0.3467" stop-color="#ffd000"/><stop offset="1.0000" stop-color="#ffd000"/></linearGradient><linearGradient id="g279" gradientUnits="userSpaceOnUse" x1="0" y1="250" x2="0" y2="325"><stop offset="0.0000" stop-color="#00ff20"/><stop offset="0.0933" stop-color="#00ff10"/><stop offset="0.1333" stop-color="#80ff00"/><stop offset="0.1733" stop-color="#e8ff00"/><stop offset="0.2133" stop-color="#ffe400"/><stop offset="0.3333" stop-color="#ffe400"/><stop offset="1.0000" stop-color="#ffe400"/></linearGradient><linearGradient id="g280" gradientUnits="userSpaceOnUse" x1="0" y1="250" x2="0" y2="325"><stop offset="0.0000" stop-color="#00ff20"/><stop offset="0.1200" stop-color="#00ff10"/><stop offset="0.1600" stop-color="#80ff00"/><stop offset="0.2000" stop-color="#e8ff00"/><stop offset="0.2400" stop-color="#ffd000"/><stop offset="0.3600" stop-color="#ffd000"/><stop offset="1.0000" stop-color="#ffd000"/></linearGradient><linearGradient id="g281" gradientUnits="userSpaceOnUse" x1="0" y1="250" x2="0" y2="325"><stop offset="0.0000" stop-color="#00ff20"/><stop offset="0.0800" stop-color="#00ff10"/><stop offset="0.1200" stop-color="#80ff00"/><stop offset="0.1600" stop-color="#e8ff00"/><stop offset="0.2000" stop-color="#fff000"/><stop offset="0.3200" stop-color="#fff000"/><stop offset="1.0000" stop-color="#fff000"/></linearGradient><linearGradient id="g282" gradientUnits="userSpaceOnUse" x1="0" y1="305" x2="0" y2="325"><stop offset="0.0000" stop-color="#ffa000" stop-opacity="0"/><stop offset="1.0000" stop-color="#ffa000" stop-opacity="0.5"/></linearGradient><linearGradient id="g283" gradientUnits="userSpaceOnUse" x1="0" y1="319" x2="0" y2="325"><stop offset="0.0000" stop-color="#ffb000" stop-opacity="0"/><stop offset="1.0000" stop-color="#ffb000" stop-opacity="0.4"/></linearGradient><linearGradient id="g284" gradientUnits="userSpaceOnUse" x1="0" y1="250" x2="0" y2="325"><stop offset="0.0000" stop-color="#1040e0"/><stop offset="0.1333" stop-color="#0080ff"/><stop offset="0.2000" stop-color="#00f0ff"/><stop offset="0.3200" stop-color="#00ff90"/><stop offset="1.0000" stop-color="#20ff60"/></linearGradient><linearGradient id="g285" gradientUnits="userSpaceOnUse" x1="0" y1="250" x2="0" y2="325"><stop offset="0.0000" stop-color="#0060ff"/><stop offset="0.1333" stop-color="#00ffff"/><stop offset="0.3200" stop-color="#00ff90"/><stop offset="1.0000" stop-color="#20ff60"/></linearGradient><linearGradient id="g286" gradientUnits="userSpaceOnUse" x1="0" y1="250" x2="0" y2="325"><stop offset="0.0000" stop-color="#00c0ff"/><stop offset="0.1067" stop-color="#00ffc0"/><stop offset="0.2667" stop-color="#00ff60"/><stop offset="1.0000" stop-color="#20ff40"/></linearGradient><linearGradient id="g287" gradientUnits="userSpaceOnUse" x1="0" y1="250" x2="0" y2="325"><stop offset="0.0000" stop-color="#ff8000"/><stop offset="1.0000" stop-color="#ff8000"/></linearGradient><linearGradient id="g288" gradientUnits="userSpaceOnUse" x1="0" y1="250" x2="0" y2="325"><stop offset="0.0000" stop-color="#00ff30"/><stop offset="0.1733" stop-color="#20ff00"/><stop offset="0.2400" stop-color="#a0ff00"/><stop offset="0.3067" stop-color="#f8ff00"/><stop offset="0.6667" stop-color="#ffff00"/><stop offset="0.8267" stop-color="#d0ff00"/><stop offset="1.0000" stop-color="#80ff20"/></linearGradient><linearGradient id="g289" gradientUnits="userSpaceOnUse" x1="0" y1="250" x2="0" y2="325"><stop offset="0.0000" stop-color="#00ff40"/><stop offset="0.2667" stop-color="#a0ff00"/><stop offset="1.0000" stop-color="#60ff20"/></linearGradient><linearGradient id="g290" gradientUnits="userSpaceOnUse" x1="0" y1="250" x2="0" y2="325"><stop offset="0.0000" stop-color="#0060ff"/><stop offset="0.1067" stop-color="#00e0ff"/><stop offset="0.1867" stop-color="#00ff60"/><stop offset="1.0000" stop-color="#00ff40"/></linearGradient><linearGradient id="g291" gradientUnits="userSpaceOnUse" x1="0" y1="250" x2="0" y2="325"><stop offset="0.0000" stop-color="#00ff40"/><stop offset="0.1333" stop-color="#a0ff00"/><stop offset="1.0000" stop-color="#c0ff00"/></linearGradient><linearGradient id="g292" gradientUnits="userSpaceOnUse" x1="0" y1="250" x2="0" y2="325"><stop offset="0.0000" stop-color="#00ffc0"/><stop offset="0.2667" stop-color="#40ff40"/><stop offset="1.0000" stop-color="#ffe000"/></linearGradient><linearGradient id="g293" gradientUnits="userSpaceOnUse" x1="0" y1="250" x2="0" y2="325"><stop offset="0.0000" stop-color="#ffff00"/><stop offset="1.0000" stop-color="#ffff00"/></linearGradient><linearGradient id="g294" gradientUnits="userSpaceOnUse" x1="0" y1="250" x2="0" y2="325"><stop offset="0.0000" stop-color="#ffff00"/><stop offset="1.0000" stop-color="#ffff00"/></linearGradient><linearGradient id="g295" gradientUnits="userSpaceOnUse" x1="0" y1="250" x2="0" y2="325"><stop offset="0.0000" stop-color="#00ff40"/><stop offset="1.0000" stop-color="#00ff40"/></linearGradient><linearGradient id="g296" gradientUnits="userSpaceOnUse" x1="0" y1="250" x2="0" y2="325"><stop offset="0.0000" stop-color="#00ff40"/><stop offset="1.0000" stop-color="#00ff40"/></linearGradient><linearGradient id="g297" gradientUnits="userSpaceOnUse" x1="0" y1="250" x2="0" y2="264"><stop offset="0.0000" stop-color="#0020d0"/><stop offset="1.0000" stop-color="#0060ff" stop-opacity="0"/></linearGradient><linearGradient id="g298" gradientUnits="userSpaceOnUse" x1="0" y1="250" x2="0" y2="259"><stop offset="0.0000" stop-color="#0040f0"/><stop offset="1.0000" stop-color="#0080ff" stop-opacity="0"/></linearGradient><clipPath id="clip3"><rect x="81" y="365" width="419" height="75"/></clipPath><linearGradient id="g299" gradientUnits="userSpaceOnUse" x1="0" y1="350" x2="0" y2="450"><stop offset="0.1550" stop-color="#0000c0"/><stop offset="0.2850" stop-color="#0000d4"/><stop offset="0.4150" stop-color="#0004e8"/><stop offset="0.5150" stop-color="#0010f8"/><stop offset="0.5950" stop-color="#0030ff"/><stop offset="0.6450" stop-color="#0070ff"/><stop offset="0.6750" stop-color="#00b0ff"/><stop offset="0.7050" stop-color="#00e8ff"/><stop offset="0.7450" stop-color="#00ffc0"/><stop offset="0.8100" stop-color="#00ff40"/></linearGradient><linearGradient id="g300" gradientUnits="userSpaceOnUse" x1="0" y1="350" x2="0" y2="450"><stop offset="0.1650" stop-color="#0000c0"/><stop offset="0.2950" stop-color="#0000d4"/><stop offset="0.4250" stop-color="#0004e8"/><stop offset="0.5250" stop-color="#0010f8"/><stop offset="0.6050" stop-color="#0030ff"/><stop offset="0.6550" stop-color="#0070ff"/><stop offset="0.6850" stop-color="#00b0ff"/><stop offset="0.7150" stop-color="#00e8ff"/><stop offset="0.7550" stop-color="#00ffc0"/><stop offset="0.8200" stop-color="#00ff40"/></linearGradient><linearGradient id="g301" gradientUnits="userSpaceOnUse" x1="0" y1="350" x2="0" y2="450"><stop offset="0.1750" stop-color="#0000c0"/><stop offset="0.3050" stop-color="#0000d4"/><stop offset="0.4350" stop-color="#0004e8"/><stop offset="0.5350" stop-color="#0010f8"/><stop offset="0.6150" stop-color="#0030ff"/><stop offset="0.6650" stop-color="#0070ff"/><stop offset="0.6950" stop-color="#00b0ff"/><stop offset="0.7250" stop-color="#00e8ff"/><stop offset="0.7650" stop-color="#00ffc0"/><stop offset="0.8300" stop-color="#00ff40"/></linearGradient><linearGradient id="g302" gradientUnits="userSpaceOnUse" x1="0" y1="350" x2="0" y2="450"><stop offset="0.1850" stop-color="#0000c0"/><stop offset="0.3150" stop-color="#0000d4"/><stop offset="0.4450" stop-color="#0004e8"/><stop offset="0.5450" stop-color="#0010f8"/><stop offset="0.6250" stop-color="#0030ff"/><stop offset="0.6750" stop-color="#0070ff"/><stop offset="0.7050" stop-color="#00b0ff"/><stop offset="0.7350" stop-color="#00e8ff"/><stop offset="0.7750" stop-color="#00ffc0"/><stop offset="0.8400" stop-color="#00ff40"/></linearGradient><linearGradient id="g303" gradientUnits="userSpaceOnUse" x1="0" y1="350" x2="0" y2="450"><stop offset="0.1750" stop-color="#0000c0"/><stop offset="0.3050" stop-color="#0000d4"/><stop offset="0.4350" stop-color="#0004e8"/><stop offset="0.5350" stop-color="#0010f8"/><stop offset="0.6150" stop-color="#0030ff"/><stop offset="0.6650" stop-color="#0070ff"/><stop offset="0.6950" stop-color="#00b0ff"/><stop offset="0.7250" stop-color="#00e8ff"/><stop offset="0.7650" stop-color="#00ffc0"/><stop offset="0.8300" stop-color="#00ff40"/></linearGradient><linearGradient id="g304" gradientUnits="userSpaceOnUse" x1="0" y1="350" x2="0" y2="450"><stop offset="0.1650" stop-color="#0000c0"/><stop offset="0.2950" stop-color="#0000d4"/><stop offset="0.4250" stop-color="#0004e8"/><stop offset="0.5250" stop-color="#0010f8"/><stop offset="0.6050" stop-color="#0030ff"/><stop offset="0.6550" stop-color="#0070ff"/><stop offset="0.6850" stop-color="#00b0ff"/><stop offset="0.7150" stop-color="#00e8ff"/><stop offset="0.7550" stop-color="#00ffc0"/><stop offset="0.8200" stop-color="#00ff40"/></linearGradient><linearGradient id="g305" gradientUnits="userSpaceOnUse" x1="0" y1="415" x2="0" y2="450"><stop offset="0.0000" stop-color="#0000c0"/><stop offset="0.0000" stop-color="#0000d4"/><stop offset="0.0000" stop-color="#0004e8"/><stop offset="0.0000" stop-color="#0010f8"/><stop offset="0.0000" stop-color="#0030ff"/><stop offset="0.0000" stop-color="#0070ff"/><stop offset="0.0714" stop-color="#00b0ff"/><stop offset="0.1571" stop-color="#00e8ff"/><stop offset="0.2714" stop-color="#00ffc0"/><stop offset="0.3857" stop-color="#00ff80"/><stop offset="0.4714" stop-color="#00ff10"/><stop offset="0.5286" stop-color="#00ff00"/><stop offset="0.5571" stop-color="#80ff00"/><stop offset="0.5857" stop-color="#f0ff00"/><stop offset="0.6143" stop-color="#ffe000"/><stop offset="0.6429" stop-color="#ffc000"/><stop offset="0.6714" stop-color="#ff8000"/><stop offset="0.7000" stop-color="#ff2000"/></linearGradient><linearGradient id="g306" gradientUnits="userSpaceOnUse" x1="0" y1="365" x2="0" y2="405"><stop offset="0.0000" stop-color="#000090" stop-opacity="0.8"/><stop offset="0.6250" stop-color="#0000a0" stop-opacity="0.6"/><stop offset="1.0000" stop-color="#0000c0" stop-opacity="0"/></linearGradient><linearGradient id="g307" gradientUnits="userSpaceOnUse" x1="0" y1="383" x2="0" y2="413"><stop offset="0.0000" stop-color="#1848ff" stop-opacity="0"/><stop offset="0.6000" stop-color="#1860ff" stop-opacity="0.8"/><stop offset="1.0000" stop-color="#10a0ff" stop-opacity="0"/></linearGradient><linearGradient id="g308" gradientUnits="userSpaceOnUse" x1="0" y1="365" x2="0" y2="440"><stop offset="0.0000" stop-color="#40ff40"/><stop offset="1.0000" stop-color="#ff9000"/></linearGradient><linearGradient id="g309" gradientUnits="userSpaceOnUse" x1="0" y1="365" x2="0" y2="440"><stop offset="0.0000" stop-color="#c0ff00"/><stop offset="1.0000" stop-color="#ff9000"/></linearGradient><linearGradient id="g310" gradientUnits="userSpaceOnUse" x1="0" y1="365" x2="0" y2="440"><stop offset="0.0000" stop-color="#40ff40"/><stop offset="1.0000" stop-color="#80ff00"/></linearGradient><linearGradient id="g311" gradientUnits="userSpaceOnUse" x1="0" y1="365" x2="0" y2="440"><stop offset="0.0000" stop-color="#00ffff"/><stop offset="1.0000" stop-color="#00ffc0"/></linearGradient><linearGradient id="g312" gradientUnits="userSpaceOnUse" x1="0" y1="365" x2="0" y2="440"><stop offset="0.0000" stop-color="#40ff40"/><stop offset="1.0000" stop-color="#80ff00"/></linearGradient><linearGradient id="g313" gradientUnits="userSpaceOnUse" x1="0" y1="365" x2="0" y2="440"><stop offset="0.0000" stop-color="#00ffff"/><stop offset="1.0000" stop-color="#00ffc0"/></linearGradient><linearGradient id="g314" gradientUnits="userSpaceOnUse" x1="0" y1="365" x2="0" y2="440"><stop offset="0.0000" stop-color="#e0ff00"/><stop offset="1.0000" stop-color="#ff9000"/></linearGradient><linearGradient id="g315" gradientUnits="userSpaceOnUse" x1="0" y1="365" x2="0" y2="440"><stop offset="0.0000" stop-color="#40ff40"/><stop offset="1.0000" stop-color="#e0ff00"/></linearGradient><linearGradient id="g316" gradientUnits="userSpaceOnUse" x1="0" y1="365" x2="0" y2="440"><stop offset="0.0000" stop-color="#c0ff00"/><stop offset="1.0000" stop-color="#ff4000"/></linearGradient><linearGradient id="g317" gradientUnits="userSpaceOnUse" x1="0" y1="365" x2="0" y2="440"><stop offset="0.0000" stop-color="#c0ff00"/><stop offset="1.0000" stop-color="#ffc000"/></linearGradient><linearGradient id="g318" gradientUnits="userSpaceOnUse" x1="0" y1="365" x2="0" y2="440"><stop offset="0.0000" stop-color="#40ff40"/><stop offset="1.0000" stop-color="#80ff00"/></linearGradient><linearGradient id="g319" gradientUnits="userSpaceOnUse" x1="0" y1="365" x2="0" y2="440"><stop offset="0.0000" stop-color="#e0ff00"/><stop offset="1.0000" stop-color="#ff4000"/></linearGradient><linearGradient id="g320" gradientUnits="userSpaceOnUse" x1="0" y1="365" x2="0" y2="440"><stop offset="0.0000" stop-color="#00ffff"/><stop offset="1.0000" stop-color="#00ffc0"/></linearGradient><linearGradient id="g321" gradientUnits="userSpaceOnUse" x1="0" y1="365" x2="0" y2="440"><stop offset="0.0000" stop-color="#20ffa0"/><stop offset="1.0000" stop-color="#40ff40"/></linearGradient><clipPath id="clip4"><rect x="81" y="461" width="419" height="75"/></clipPath><linearGradient id="g322" gradientUnits="userSpaceOnUse" x1="0" y1="446" x2="0" y2="546"><stop offset="0.1550" stop-color="#0000c0"/><stop offset="0.2850" stop-color="#0000d4"/><stop offset="0.4150" stop-color="#0004e8"/><stop offset="0.5150" stop-color="#0010f8"/><stop offset="0.5950" stop-color="#0030ff"/><stop offset="0.6450" stop-color="#0070ff"/><stop offset="0.6750" stop-color="#00b0ff"/><stop offset="0.7050" stop-color="#00e8ff"/><stop offset="0.7450" stop-color="#00ffc0"/><stop offset="0.8100" stop-color="#00ff40"/></linearGradient><linearGradient id="g323" gradientUnits="userSpaceOnUse" x1="0" y1="446" x2="0" y2="546"><stop offset="0.1650" stop-color="#0000c0"/><stop offset="0.2950" stop-color="#0000d4"/><stop offset="0.4250" stop-color="#0004e8"/><stop offset="0.5250" stop-color="#0010f8"/><stop offset="0.6050" stop-color="#0030ff"/><stop offset="0.6550" stop-color="#0070ff"/><stop offset="0.6850" stop-color="#00b0ff"/><stop offset="0.7150" stop-color="#00e8ff"/><stop offset="0.7550" stop-color="#00ffc0"/><stop offset="0.8200" stop-color="#00ff40"/></linearGradient><linearGradient id="g324" gradientUnits="userSpaceOnUse" x1="0" y1="446" x2="0" y2="546"><stop offset="0.1750" stop-color="#0000c0"/><stop offset="0.3050" stop-color="#0000d4"/><stop offset="0.4350" stop-color="#0004e8"/><stop offset="0.5350" stop-color="#0010f8"/><stop offset="0.6150" stop-color="#0030ff"/><stop offset="0.6650" stop-color="#0070ff"/><stop offset="0.6950" stop-color="#00b0ff"/><stop offset="0.7250" stop-color="#00e8ff"/><stop offset="0.7650" stop-color="#00ffc0"/><stop offset="0.8300" stop-color="#00ff40"/></linearGradient><linearGradient id="g325" gradientUnits="userSpaceOnUse" x1="0" y1="446" x2="0" y2="546"><stop offset="0.1850" stop-color="#0000c0"/><stop offset="0.3150" stop-color="#0000d4"/><stop offset="0.4450" stop-color="#0004e8"/><stop offset="0.5450" stop-color="#0010f8"/><stop offset="0.6250" stop-color="#0030ff"/><stop offset="0.6750" stop-color="#0070ff"/><stop offset="0.7050" stop-color="#00b0ff"/><stop offset="0.7350" stop-color="#00e8ff"/><stop offset="0.7750" stop-color="#00ffc0"/><stop offset="0.8400" stop-color="#00ff40"/></linearGradient><linearGradient id="g326" gradientUnits="userSpaceOnUse" x1="0" y1="446" x2="0" y2="546"><stop offset="0.1750" stop-color="#0000c0"/><stop offset="0.3050" stop-color="#0000d4"/><stop offset="0.4350" stop-color="#0004e8"/><stop offset="0.5350" stop-color="#0010f8"/><stop offset="0.6150" stop-color="#0030ff"/><stop offset="0.6650" stop-color="#0070ff"/><stop offset="0.6950" stop-color="#00b0ff"/><stop offset="0.7250" stop-color="#00e8ff"/><stop offset="0.7650" stop-color="#00ffc0"/><stop offset="0.8300" stop-color="#00ff40"/></linearGradient><linearGradient id="g327" gradientUnits="userSpaceOnUse" x1="0" y1="446" x2="0" y2="546"><stop offset="0.1650" stop-color="#0000c0"/><stop offset="0.2950" stop-color="#0000d4"/><stop offset="0.4250" stop-color="#0004e8"/><stop offset="0.5250" stop-color="#0010f8"/><stop offset="0.6050" stop-color="#0030ff"/><stop offset="0.6550" stop-color="#0070ff"/><stop offset="0.6850" stop-color="#00b0ff"/><stop offset="0.7150" stop-color="#00e8ff"/><stop offset="0.7550" stop-color="#00ffc0"/><stop offset="0.8200" stop-color="#00ff40"/></linearGradient><linearGradient id="g328" gradientUnits="userSpaceOnUse" x1="0" y1="511" x2="0" y2="546"><stop offset="0.0000" stop-color="#0000c0"/><stop offset="0.0000" stop-color="#0000d4"/><stop offset="0.0000" stop-color="#0004e8"/><stop offset="0.0000" stop-color="#0010f8"/><stop offset="0.0000" stop-color="#0030ff"/><stop offset="0.0000" stop-color="#0070ff"/><stop offset="0.0714" stop-color="#00b0ff"/><stop offset="0.1571" stop-color="#00e8ff"/><stop offset="0.2714" stop-color="#00ffc0"/><stop offset="0.3857" stop-color="#00ff80"/><stop offset="0.4714" stop-color="#00ff10"/><stop offset="0.5286" stop-color="#00ff00"/><stop offset="0.5571" stop-color="#80ff00"/><stop offset="0.5857" stop-color="#f0ff00"/><stop offset="0.6143" stop-color="#ffe000"/><stop offset="0.6429" stop-color="#ffc000"/><stop offset="0.6714" stop-color="#ff8000"/><stop offset="0.7000" stop-color="#ff2000"/></linearGradient><linearGradient id="g329" gradientUnits="userSpaceOnUse" x1="0" y1="461" x2="0" y2="501"><stop offset="0.0000" stop-color="#000090" stop-opacity="0.8"/><stop offset="0.6250" stop-color="#0000a0" stop-opacity="0.6"/><stop offset="1.0000" stop-color="#0000c0" stop-opacity="0"/></linearGradient><linearGradient id="g330" gradientUnits="userSpaceOnUse" x1="0" y1="479" x2="0" y2="509"><stop offset="0.0000" stop-color="#1848ff" stop-opacity="0"/><stop offset="0.6000" stop-color="#1860ff" stop-opacity="0.8"/><stop offset="1.0000" stop-color="#10a0ff" stop-opacity="0"/></linearGradient><linearGradient id="g331" gradientUnits="userSpaceOnUse" x1="0" y1="461" x2="0" y2="536"><stop offset="0.0000" stop-color="#40ff40"/><stop offset="1.0000" stop-color="#80ff00"/></linearGradient><linearGradient id="g332" gradientUnits="userSpaceOnUse" x1="0" y1="461" x2="0" y2="536"><stop offset="0.0000" stop-color="#80ff20"/><stop offset="1.0000" stop-color="#c0ff00"/></linearGradient><linearGradient id="g333" gradientUnits="userSpaceOnUse" x1="0" y1="461" x2="0" y2="536"><stop offset="0.0000" stop-color="#80ff20"/><stop offset="1.0000" stop-color="#c0ff00"/></linearGradient><linearGradient id="g334" gradientUnits="userSpaceOnUse" x1="0" y1="461" x2="0" y2="536"><stop offset="0.0000" stop-color="#00ffff"/><stop offset="1.0000" stop-color="#00ffc0"/></linearGradient><linearGradient id="g335" gradientUnits="userSpaceOnUse" x1="0" y1="461" x2="0" y2="536"><stop offset="0.0000" stop-color="#40ff40"/><stop offset="1.0000" stop-color="#80ff00"/></linearGradient><linearGradient id="g336" gradientUnits="userSpaceOnUse" x1="0" y1="461" x2="0" y2="536"><stop offset="0.0000" stop-color="#00ffff"/><stop offset="1.0000" stop-color="#00ffc0"/></linearGradient><linearGradient id="g337" gradientUnits="userSpaceOnUse" x1="0" y1="461" x2="0" y2="536"><stop offset="0.0000" stop-color="#40ff40"/><stop offset="1.0000" stop-color="#80ff00"/></linearGradient><linearGradient id="g338" gradientUnits="userSpaceOnUse" x1="0" y1="461" x2="0" y2="536"><stop offset="0.0000" stop-color="#00ffc0"/><stop offset="1.0000" stop-color="#40ff40"/></linearGradient><linearGradient id="g339" gradientUnits="userSpaceOnUse" x1="0" y1="461" x2="0" y2="536"><stop offset="0.0000" stop-color="#c0ff00"/><stop offset="1.0000" stop-color="#ffc000"/></linearGradient><linearGradient id="g340" gradientUnits="userSpaceOnUse" x1="0" y1="461" x2="0" y2="536"><stop offset="0.0000" stop-color="#40ff40"/><stop offset="1.0000" stop-color="#80ff00"/></linearGradient><linearGradient id="g341" gradientUnits="userSpaceOnUse" x1="0" y1="461" x2="0" y2="536"><stop offset="0.0000" stop-color="#40ff40"/><stop offset="1.0000" stop-color="#80ff00"/></linearGradient><linearGradient id="g342" gradientUnits="userSpaceOnUse" x1="0" y1="461" x2="0" y2="536"><stop offset="0.0000" stop-color="#ffd000"/><stop offset="1.0000" stop-color="#ff8000"/></linearGradient><linearGradient id="g343" gradientUnits="userSpaceOnUse" x1="0" y1="461" x2="0" y2="536"><stop offset="0.0000" stop-color="#40ff40"/><stop offset="1.0000" stop-color="#80ff00"/></linearGradient><linearGradient id="g344" gradientUnits="userSpaceOnUse" x1="0" y1="461" x2="0" y2="536"><stop offset="0.0000" stop-color="#40ff40"/><stop offset="1.0000" stop-color="#80ff00"/></linearGradient><clipPath id="clip5"><rect x="81" y="557" width="419" height="75"/></clipPath><linearGradient id="g345" gradientUnits="userSpaceOnUse" x1="0" y1="542" x2="0" y2="642"><stop offset="0.1550" stop-color="#0000c0"/><stop offset="0.2850" stop-color="#0000d4"/><stop offset="0.4150" stop-color="#0004e8"/><stop offset="0.5150" stop-color="#0010f8"/><stop offset="0.5950" stop-color="#0030ff"/><stop offset="0.6450" stop-color="#0070ff"/><stop offset="0.6750" stop-color="#00b0ff"/><stop offset="0.7050" stop-color="#00e8ff"/><stop offset="0.7450" stop-color="#00ffc0"/><stop offset="0.8100" stop-color="#00ff40"/></linearGradient><linearGradient id="g346" gradientUnits="userSpaceOnUse" x1="0" y1="542" x2="0" y2="642"><stop offset="0.1650" stop-color="#0000c0"/><stop offset="0.2950" stop-color="#0000d4"/><stop offset="0.4250" stop-color="#0004e8"/><stop offset="0.5250" stop-color="#0010f8"/><stop offset="0.6050" stop-color="#0030ff"/><stop offset="0.6550" stop-color="#0070ff"/><stop offset="0.6850" stop-color="#00b0ff"/><stop offset="0.7150" stop-color="#00e8ff"/><stop offset="0.7550" stop-color="#00ffc0"/><stop offset="0.8200" stop-color="#00ff40"/></linearGradient><linearGradient id="g347" gradientUnits="userSpaceOnUse" x1="0" y1="542" x2="0" y2="642"><stop offset="0.1750" stop-color="#0000c0"/><stop offset="0.3050" stop-color="#0000d4"/><stop offset="0.4350" stop-color="#0004e8"/><stop offset="0.5350" stop-color="#0010f8"/><stop offset="0.6150" stop-color="#0030ff"/><stop offset="0.6650" stop-color="#0070ff"/><stop offset="0.6950" stop-color="#00b0ff"/><stop offset="0.7250" stop-color="#00e8ff"/><stop offset="0.7650" stop-color="#00ffc0"/><stop offset="0.8300" stop-color="#00ff40"/></linearGradient><linearGradient id="g348" gradientUnits="userSpaceOnUse" x1="0" y1="542" x2="0" y2="642"><stop offset="0.1850" stop-color="#0000c0"/><stop offset="0.3150" stop-color="#0000d4"/><stop offset="0.4450" stop-color="#0004e8"/><stop offset="0.5450" stop-color="#0010f8"/><stop offset="0.6250" stop-color="#0030ff"/><stop offset="0.6750" stop-color="#0070ff"/><stop offset="0.7050" stop-color="#00b0ff"/><stop offset="0.7350" stop-color="#00e8ff"/><stop offset="0.7750" stop-color="#00ffc0"/><stop offset="0.8400" stop-color="#00ff40"/></linearGradient><linearGradient id="g349" gradientUnits="userSpaceOnUse" x1="0" y1="542" x2="0" y2="642"><stop offset="0.1750" stop-color="#0000c0"/><stop offset="0.3050" stop-color="#0000d4"/><stop offset="0.4350" stop-color="#0004e8"/><stop offset="0.5350" stop-color="#0010f8"/><stop offset="0.6150" stop-color="#0030ff"/><stop offset="0.6650" stop-color="#0070ff"/><stop offset="0.6950" stop-color="#00b0ff"/><stop offset="0.7250" stop-color="#00e8ff"/><stop offset="0.7650" stop-color="#00ffc0"/><stop offset="0.8300" stop-color="#00ff40"/></linearGradient><linearGradient id="g350" gradientUnits="userSpaceOnUse" x1="0" y1="542" x2="0" y2="642"><stop offset="0.1650" stop-color="#0000c0"/><stop offset="0.2950" stop-color="#0000d4"/><stop offset="0.4250" stop-color="#0004e8"/><stop offset="0.5250" stop-color="#0010f8"/><stop offset="0.6050" stop-color="#0030ff"/><stop offset="0.6550" stop-color="#0070ff"/><stop offset="0.6850" stop-color="#00b0ff"/><stop offset="0.7150" stop-color="#00e8ff"/><stop offset="0.7550" stop-color="#00ffc0"/><stop offset="0.8200" stop-color="#00ff40"/></linearGradient><linearGradient id="g351" gradientUnits="userSpaceOnUse" x1="0" y1="607" x2="0" y2="642"><stop offset="0.0000" stop-color="#0000c0"/><stop offset="0.0000" stop-color="#0000d4"/><stop offset="0.0000" stop-color="#0004e8"/><stop offset="0.0000" stop-color="#0010f8"/><stop offset="0.0000" stop-color="#0030ff"/><stop offset="0.0000" stop-color="#0070ff"/><stop offset="0.0714" stop-color="#00b0ff"/><stop offset="0.1571" stop-color="#00e8ff"/><stop offset="0.2714" stop-color="#00ffc0"/><stop offset="0.3857" stop-color="#00ff80"/><stop offset="0.4714" stop-color="#00ff10"/><stop offset="0.5286" stop-color="#00ff00"/><stop offset="0.5571" stop-color="#80ff00"/><stop offset="0.5857" stop-color="#f0ff00"/><stop offset="0.6143" stop-color="#ffe000"/><stop offset="0.6429" stop-color="#ffc000"/><stop offset="0.6714" stop-color="#ff8000"/><stop offset="0.7000" stop-color="#ff2000"/></linearGradient><linearGradient id="g352" gradientUnits="userSpaceOnUse" x1="0" y1="557" x2="0" y2="597"><stop offset="0.0000" stop-color="#000090" stop-opacity="0.8"/><stop offset="0.6250" stop-color="#0000a0" stop-opacity="0.6"/><stop offset="1.0000" stop-color="#0000c0" stop-opacity="0"/></linearGradient><linearGradient id="g353" gradientUnits="userSpaceOnUse" x1="0" y1="575" x2="0" y2="605"><stop offset="0.0000" stop-color="#1848ff" stop-opacity="0"/><stop offset="0.6000" stop-color="#1860ff" stop-opacity="0.8"/><stop offset="1.0000" stop-color="#10a0ff" stop-opacity="0"/></linearGradient><linearGradient id="g354" gradientUnits="userSpaceOnUse" x1="0" y1="557" x2="0" y2="632"><stop offset="0.0000" stop-color="#80ff20"/><stop offset="1.0000" stop-color="#ffc000"/></linearGradient><linearGradient id="g355" gradientUnits="userSpaceOnUse" x1="0" y1="567" x2="0" y2="632"><stop offset="0.0000" stop-color="#2060ff" stop-opacity="0.0"/><stop offset="0.2000" stop-color="#2060ff" stop-opacity="0.6"/><stop offset="0.6000" stop-color="#2060ff" stop-opacity="0.8999999999999999"/><stop offset="1.0000" stop-color="#2060ff" stop-opacity="0.6"/></linearGradient><linearGradient id="g356" gradientUnits="userSpaceOnUse" x1="0" y1="557" x2="0" y2="632"><stop offset="0.0000" stop-color="#80ff20"/><stop offset="1.0000" stop-color="#c0ff00"/></linearGradient><linearGradient id="g357" gradientUnits="userSpaceOnUse" x1="0" y1="557" x2="0" y2="632"><stop offset="0.0000" stop-color="#00ffff"/><stop offset="1.0000" stop-color="#00ffc0"/></linearGradient><linearGradient id="g358" gradientUnits="userSpaceOnUse" x1="0" y1="557" x2="0" y2="632"><stop offset="0.0000" stop-color="#c0ff00"/><stop offset="1.0000" stop-color="#ffc000"/></linearGradient><linearGradient id="g359" gradientUnits="userSpaceOnUse" x1="0" y1="557" x2="0" y2="632"><stop offset="0.0000" stop-color="#80ff20"/><stop offset="1.0000" stop-color="#ffe000"/></linearGradient><linearGradient id="g360" gradientUnits="userSpaceOnUse" x1="0" y1="557" x2="0" y2="632"><stop offset="0.0000" stop-color="#00ffff"/><stop offset="1.0000" stop-color="#00ffc0"/></linearGradient><linearGradient id="g361" gradientUnits="userSpaceOnUse" x1="0" y1="557" x2="0" y2="632"><stop offset="0.0000" stop-color="#40ff40"/><stop offset="1.0000" stop-color="#80ff00"/></linearGradient><linearGradient id="g362" gradientUnits="userSpaceOnUse" x1="0" y1="557" x2="0" y2="632"><stop offset="0.0000" stop-color="#80ff20"/><stop offset="1.0000" stop-color="#ffe000"/></linearGradient><linearGradient id="g363" gradientUnits="userSpaceOnUse" x1="0" y1="557" x2="0" y2="632"><stop offset="0.0000" stop-color="#40ff40"/><stop offset="1.0000" stop-color="#80ff00"/></linearGradient><linearGradient id="g364" gradientUnits="userSpaceOnUse" x1="0" y1="557" x2="0" y2="632"><stop offset="0.0000" stop-color="#e0ff00"/><stop offset="1.0000" stop-color="#ff9000"/></linearGradient><linearGradient id="g365" gradientUnits="userSpaceOnUse" x1="0" y1="58" x2="0" y2="134"><stop offset="0.0000" stop-color="#ff0000"/><stop offset="0.1200" stop-color="#ff4000"/><stop offset="0.2300" stop-color="#ffa000"/><stop offset="0.2800" stop-color="#ffc000"/><stop offset="0.3700" stop-color="#ffff00"/><stop offset="0.4100" stop-color="#a0ff00"/><stop offset="0.5000" stop-color="#00ff00"/><stop offset="0.5800" stop-color="#00ff60"/><stop offset="0.6800" stop-color="#00ffb0"/><stop offset="0.7500" stop-color="#00ffff"/><stop offset="0.8000" stop-color="#00a0ff"/><stop offset="0.8450" stop-color="#0040ff"/><stop offset="0.9000" stop-color="#0000e0"/><stop offset="1.0000" stop-color="#000080"/></linearGradient><linearGradient id="g366" gradientUnits="userSpaceOnUse" x1="0" y1="154" x2="0" y2="230"><stop offset="0.0000" stop-color="#ff0000"/><stop offset="0.1200" stop-color="#ff4000"/><stop offset="0.2300" stop-color="#ffa000"/><stop offset="0.2800" stop-color="#ffc000"/><stop offset="0.3700" stop-color="#ffff00"/><stop offset="0.4100" stop-color="#a0ff00"/><stop offset="0.5000" stop-color="#00ff00"/><stop offset="0.5800" stop-color="#00ff60"/><stop offset="0.6800" stop-color="#00ffb0"/><stop offset="0.7500" stop-color="#00ffff"/><stop offset="0.8000" stop-color="#00a0ff"/><stop offset="0.8450" stop-color="#0040ff"/><stop offset="0.9000" stop-color="#0000e0"/><stop offset="1.0000" stop-color="#000080"/></linearGradient><linearGradient id="g367" gradientUnits="userSpaceOnUse" x1="0" y1="250" x2="0" y2="326"><stop offset="0.0000" stop-color="#ff0000"/><stop offset="0.1200" stop-color="#ff4000"/><stop offset="0.2300" stop-color="#ffa000"/><stop offset="0.2800" stop-color="#ffc000"/><stop offset="0.3700" stop-color="#ffff00"/><stop offset="0.4100" stop-color="#a0ff00"/><stop offset="0.5000" stop-color="#00ff00"/><stop offset="0.5800" stop-color="#00ff60"/><stop offset="0.6800" stop-color="#00ffb0"/><stop offset="0.7500" stop-color="#00ffff"/><stop offset="0.8000" stop-color="#00a0ff"/><stop offset="0.8450" stop-color="#0040ff"/><stop offset="0.9000" stop-color="#0000e0"/><stop offset="1.0000" stop-color="#000080"/></linearGradient><linearGradient id="g368" gradientUnits="userSpaceOnUse" x1="0" y1="365" x2="0" y2="441"><stop offset="0.0000" stop-color="#ff0000"/><stop offset="0.1200" stop-color="#ff4000"/><stop offset="0.2300" stop-color="#ffa000"/><stop offset="0.2800" stop-color="#ffc000"/><stop offset="0.3700" stop-color="#ffff00"/><stop offset="0.4100" stop-color="#a0ff00"/><stop offset="0.5000" stop-color="#00ff00"/><stop offset="0.5800" stop-color="#00ff60"/><stop offset="0.6800" stop-color="#00ffb0"/><stop offset="0.7500" stop-color="#00ffff"/><stop offset="0.8000" stop-color="#00a0ff"/><stop offset="0.8450" stop-color="#0040ff"/><stop offset="0.9000" stop-color="#0000e0"/><stop offset="1.0000" stop-color="#000080"/></linearGradient><linearGradient id="g369" gradientUnits="userSpaceOnUse" x1="0" y1="461" x2="0" y2="537"><stop offset="0.0000" stop-color="#ff0000"/><stop offset="0.1200" stop-color="#ff4000"/><stop offset="0.2300" stop-color="#ffa000"/><stop offset="0.2800" stop-color="#ffc000"/><stop offset="0.3700" stop-color="#ffff00"/><stop offset="0.4100" stop-color="#a0ff00"/><stop offset="0.5000" stop-color="#00ff00"/><stop offset="0.5800" stop-color="#00ff60"/><stop offset="0.6800" stop-color="#00ffb0"/><stop offset="0.7500" stop-color="#00ffff"/><stop offset="0.8000" stop-color="#00a0ff"/><stop offset="0.8450" stop-color="#0040ff"/><stop offset="0.9000" stop-color="#0000e0"/><stop offset="1.0000" stop-color="#000080"/></linearGradient><linearGradient id="g370" gradientUnits="userSpaceOnUse" x1="0" y1="557" x2="0" y2="633"><stop offset="0.0000" stop-color="#ff0000"/><stop offset="0.1200" stop-color="#ff4000"/><stop offset="0.2300" stop-color="#ffa000"/><stop offset="0.2800" stop-color="#ffc000"/><stop offset="0.3700" stop-color="#ffff00"/><stop offset="0.4100" stop-color="#a0ff00"/><stop offset="0.5000" stop-color="#00ff00"/><stop offset="0.5800" stop-color="#00ff60"/><stop offset="0.6800" stop-color="#00ffb0"/><stop offset="0.7500" stop-color="#00ffff"/><stop offset="0.8000" stop-color="#00a0ff"/><stop offset="0.8450" stop-color="#0040ff"/><stop offset="0.9000" stop-color="#0000e0"/><stop offset="1.0000" stop-color="#000080"/></linearGradient></defs><rect width="640" height="768" fill="#fff"/><g clip-path="url(#clip0)">
<rect x="81" y="58" width="419" height="75" fill="url(#g1)"/>
<g mask="url(#v25)">
<rect x="81" y="58" width="419" height="75" fill="url(#g2)"/>
</g>
<g mask="url(#w25)">
<rect x="81" y="58" width="419" height="75" fill="#0000b0"/>
</g>
<g mask="url(#v40)">
<rect x="81" y="88" width="140" height="45" fill="url(#g3)"/>
</g>
<rect x="81" y="58" width="69" height="18" fill="#000" filter="url(#d6)"/>
<rect x="81" y="76" width="69" height="27" fill="#000" filter="url(#d1)"/>
<rect x="150" y="58" width="90" height="60" fill="#000" filter="url(#d3)"/>
<rect x="240" y="58" width="34" height="69" fill="#000" filter="url(#d6)"/>
<rect x="297" y="58" width="23" height="69" fill="#000" filter="url(#d10)"/>
<rect x="346" y="58" width="54" height="67" fill="#000" filter="url(#d3)"/>
<rect x="400" y="58" width="36" height="67" fill="#000" filter="url(#d6)"/>
<rect x="436" y="58" width="64" height="67" fill="#000" filter="url(#d10)"/>
<g mask="url(#v60)">
<rect x="108" y="95" width="1" height="38" fill="url(#g4)"/>
<rect x="120" y="100" width="1" height="33" fill="url(#g5)"/>
<rect x="130" y="95" width="1" height="38" fill="url(#g6)"/>
<rect x="113" y="105" width="1" height="28" fill="url(#g7)"/>
<rect x="84" y="100" width="1" height="33" fill="url(#g8)"/>
<rect x="103" y="90" width="1" height="43" fill="url(#g9)"/>
<rect x="125" y="92" width="1" height="41" fill="url(#g10)"/>
<rect x="137" y="96" width="1" height="37" fill="url(#g11)"/>
<rect x="160" y="90" width="1" height="43" fill="url(#g12)"/>
<rect x="180" y="88" width="1" height="45" fill="url(#g13)"/>
<rect x="189" y="95" width="1" height="38" fill="url(#g14)"/>
<rect x="209" y="100" width="1" height="33" fill="url(#g15)"/>
<rect x="214" y="104" width="1" height="29" fill="url(#g16)"/>
<rect x="306" y="122" width="1" height="11" fill="url(#g17)"/>
<rect x="95" y="100" width="1" height="33" fill="url(#g18)"/>
<rect x="99" y="98" width="1" height="35" fill="url(#g19)"/>
<rect x="183" y="100" width="1" height="33" fill="url(#g20)"/>
<rect x="186" y="95" width="1" height="38" fill="url(#g21)"/>
<rect x="333" y="75" width="2" height="58" fill="url(#g22)"/>
<rect x="335" y="80" width="1" height="53" fill="url(#g23)"/>
<rect x="92" y="119" width="9" height="14" fill="url(#g24)"/>
<rect x="140" y="124" width="10" height="9" fill="url(#g25)"/>
<rect x="172" y="125" width="18" height="8" fill="url(#g26)"/>
<rect x="215" y="128" width="20" height="5" fill="url(#g27)"/>
<rect x="150" y="129" width="65" height="4" fill="url(#g28)"/>
<rect x="268" y="126" width="8" height="7" fill="url(#g29)"/>
</g>
<rect x="86" y="84" width="1" height="49" fill="url(#g30)"/>
<rect x="91" y="81" width="1" height="52" fill="url(#g31)"/>
<rect x="97" y="76" width="2" height="57" fill="url(#g32)"/>
<rect x="143" y="82" width="1" height="51" fill="url(#g33)"/>
<rect x="146" y="77" width="1" height="56" fill="url(#g34)"/>
<rect x="156" y="78" width="1" height="55" fill="url(#g35)"/>
<rect x="163" y="70" width="1" height="63" fill="url(#g36)"/>
<rect x="165" y="78" width="1" height="55" fill="url(#g37)"/>
<rect x="170" y="72" width="1" height="61" fill="url(#g38)"/>
<rect x="174" y="80" width="1" height="53" fill="url(#g39)"/>
<rect x="176" y="69" width="2" height="64" fill="url(#g40)"/>
<rect x="184" y="71" width="2" height="62" fill="url(#g41)"/>
<rect x="193" y="77" width="1" height="56" fill="url(#g42)"/>
<rect x="199" y="74" width="1" height="59" fill="url(#g43)"/>
<rect x="205" y="80" width="1" height="53" fill="url(#g44)"/>
<rect x="275" y="67" width="1" height="66" fill="url(#g45)"/>
<rect x="278" y="70" width="1" height="63" fill="url(#g46)"/>
<rect x="279" y="66" width="1" height="67" fill="url(#g47)"/>
<rect x="281" y="60" width="1" height="73" fill="url(#g48)"/>
<rect x="282" y="58" width="1" height="75" fill="url(#g49)"/>
<rect x="283" y="62" width="1" height="71" fill="url(#g50)"/>
<rect x="284" y="75" width="1" height="58" fill="url(#g51)"/>
<rect x="289" y="66" width="1" height="67" fill="url(#g52)"/>
<rect x="290" y="64" width="1" height="69" fill="url(#g53)"/>
<rect x="291" y="66" width="1" height="67" fill="url(#g54)"/>
<rect x="292" y="68" width="1" height="65" fill="url(#g55)"/>
<rect x="294" y="71" width="1" height="62" fill="url(#g56)"/>
<rect x="321" y="69" width="2" height="64" fill="url(#g57)"/>
<rect x="328" y="72" width="1" height="61" fill="url(#g58)"/>
<rect x="337" y="70" width="1" height="63" fill="url(#g59)"/>
<rect x="339" y="67" width="2" height="66" fill="url(#g60)"/>
<rect x="341" y="70" width="2" height="63" fill="url(#g61)"/>
<g mask="url(#v60)">
<rect x="306" y="123" width="42" height="10" fill="url(#g62)"/>
</g>
<rect x="348" y="129" width="90" height="4" fill="url(#g63)"/>
<rect x="289" y="62" width="7" height="71" fill="url(#g64)"/>
<g mask="url(#m35)">
<rect x="276" y="58" width="21" height="75" fill="#0050ff" opacity="0.45"/>
</g>
<rect x="280" y="58" width="1" height="75" fill="url(#g65)"/>
<rect x="293" y="58" width="1" height="75" fill="url(#g66)"/>
<rect x="295" y="58" width="1" height="75" fill="url(#g67)"/>
<rect x="149" y="58" width="1" height="75" fill="url(#g68)"/>
<rect x="243" y="58" width="1" height="75" fill="url(#g69)"/>
<rect x="257" y="58" width="1" height="75" fill="url(#g70)"/>
<rect x="263" y="58" width="1" height="75" fill="url(#g71)"/>
<rect x="287" y="58" width="1" height="75" fill="url(#g72)"/>
<rect x="436" y="58" width="1" height="75" fill="url(#g73)"/>
<rect x="478" y="58" width="1" height="75" fill="url(#g74)"/>
<rect x="480" y="58" width="1" height="75" fill="url(#g75)"/>
<rect x="484" y="58" width="1" height="75" fill="url(#g76)"/>
<rect x="439" y="58" width="2" height="75" fill="url(#g77)"/>
<rect x="456" y="59" width="1" height="74" fill="url(#g78)"/>
<rect x="457" y="62" width="1" height="71" fill="url(#g79)"/>
<g mask="url(#v60)">
<rect x="81" y="128" width="419" height="4" fill="url(#g80)"/>
</g>
<rect x="81" y="131" width="419" height="1" fill="url(#g81)"/>
<rect x="81" y="132" width="419" height="1" fill="#00ff30"/>
</g>
<g clip-path="url(#clip1)">
<rect x="81" y="154" width="419" height="75" fill="url(#g82)"/>
<g mask="url(#v25)">
<rect x="81" y="154" width="419" height="75" fill="url(#g83)"/>
</g>
<g mask="url(#w25)">
<rect x="81" y="154" width="419" height="75" fill="#0000b0"/>
</g>
<rect x="81" y="154" width="68" height="14" fill="#000" filter="url(#d1)"/>
<rect x="157" y="154" width="83" height="30" fill="#000" filter="url(#d6)"/>
<rect x="157" y="184" width="83" height="37" fill="#000" filter="url(#d1)"/>
<rect x="240" y="154" width="32" height="65" fill="#000" filter="url(#d6)"/>
<rect x="297" y="154" width="23" height="71" fill="#000" filter="url(#d10)"/>
<rect x="344" y="154" width="56" height="71" fill="#000" filter="url(#d3)"/>
<rect x="400" y="154" width="100" height="71" fill="#000" filter="url(#d6)"/>
<rect x="81" y="158" width="76" height="71" fill="url(#g84)"/>
<rect x="81" y="172" width="1" height="22" fill="url(#g85)"/>
<rect x="81" y="196" width="1" height="33" fill="url(#g86)"/>
<rect x="83" y="176" width="1" height="12" fill="url(#g87)"/>
<rect x="83" y="190" width="1" height="39" fill="url(#g88)"/>
<rect x="84" y="171" width="1" height="58" fill="url(#g89)"/>
<rect x="85" y="172" width="1" height="38" fill="url(#g90)"/>
<rect x="85" y="212" width="1" height="17" fill="url(#g91)"/>
<rect x="87" y="174" width="1" height="55" fill="url(#g92)"/>
<rect x="88" y="170" width="1" height="43" fill="url(#g93)"/>
<rect x="88" y="215" width="1" height="14" fill="url(#g94)"/>
<rect x="90" y="176" width="1" height="39" fill="url(#g95)"/>
<rect x="90" y="217" width="1" height="12" fill="url(#g96)"/>
<rect x="91" y="173" width="1" height="40" fill="url(#g97)"/>
<rect x="91" y="215" width="1" height="14" fill="url(#g98)"/>
<rect x="92" y="169" width="1" height="60" fill="url(#g99)"/>
<rect x="94" y="175" width="1" height="29" fill="url(#g100)"/>
<rect x="94" y="206" width="1" height="23" fill="url(#g101)"/>
<rect x="96" y="176" width="1" height="9" fill="url(#g102)"/>
<rect x="96" y="187" width="1" height="42" fill="url(#g103)"/>
<rect x="97" y="177" width="1" height="52" fill="url(#g104)"/>
<rect x="98" y="173" width="1" height="56" fill="url(#g105)"/>
<rect x="99" y="177" width="1" height="35" fill="url(#g106)"/>
<rect x="99" y="214" width="1" height="15" fill="url(#g107)"/>
<rect x="100" y="169" width="1" height="46" fill="url(#g108)"/>
<rect x="100" y="217" width="1" height="12" fill="url(#g109)"/>
<rect x="102" y="168" width="1" height="61" fill="url(#g110)"/>
<rect x="103" y="171" width="1" height="40" fill="url(#g111)"/>
<rect x="103" y="213" width="1" height="16" fill="url(#g112)"/>
<rect x="104" y="176" width="1" height="17" fill="url(#g113)"/>
<rect x="104" y="195" width="1" height="34" fill="url(#g114)"/>
<rect x="105" y="173" width="1" height="56" fill="url(#g115)"/>
<rect x="107" y="177" width="1" height="18" fill="url(#g116)"/>
<rect x="107" y="197" width="1" height="32" fill="url(#g117)"/>
<rect x="109" y="173" width="1" height="56" fill="url(#g118)"/>
<rect x="110" y="175" width="1" height="33" fill="url(#g119)"/>
<rect x="110" y="210" width="1" height="19" fill="url(#g120)"/>
<rect x="113" y="175" width="1" height="54" fill="url(#g121)"/>
<rect x="114" y="178" width="1" height="51" fill="url(#g122)"/>
<rect x="115" y="177" width="1" height="13" fill="url(#g123)"/>
<rect x="115" y="192" width="1" height="37" fill="url(#g124)"/>
<rect x="121" y="176" width="1" height="53" fill="url(#g125)"/>
<rect x="122" y="173" width="1" height="13" fill="url(#g126)"/>
<rect x="122" y="188" width="1" height="41" fill="url(#g127)"/>
<rect x="124" y="172" width="1" height="34" fill="url(#g128)"/>
<rect x="124" y="208" width="1" height="21" fill="url(#g129)"/>
<rect x="125" y="175" width="1" height="54" fill="url(#g130)"/>
<rect x="127" y="171" width="1" height="58" fill="url(#g131)"/>
<rect x="128" y="177" width="1" height="52" fill="url(#g132)"/>
<rect x="130" y="175" width="1" height="36" fill="url(#g133)"/>
<rect x="130" y="213" width="1" height="16" fill="url(#g134)"/>
<rect x="131" y="176" width="1" height="53" fill="url(#g135)"/>
<rect x="132" y="169" width="1" height="40" fill="url(#g136)"/>
<rect x="132" y="211" width="1" height="18" fill="url(#g137)"/>
<rect x="134" y="171" width="1" height="33" fill="url(#g138)"/>
<rect x="134" y="206" width="1" height="23" fill="url(#g139)"/>
<rect x="136" y="177" width="1" height="9" fill="url(#g140)"/>
<rect x="136" y="188" width="1" height="41" fill="url(#g141)"/>
<rect x="137" y="173" width="1" height="17" fill="url(#g142)"/>
<rect x="137" y="192" width="1" height="37" fill="url(#g143)"/>
<rect x="138" y="176" width="1" height="53" fill="url(#g144)"/>
<rect x="141" y="171" width="1" height="58" fill="url(#g145)"/>
<rect x="142" y="177" width="1" height="52" fill="url(#g146)"/>
<rect x="145" y="176" width="1" height="23" fill="url(#g147)"/>
<rect x="145" y="201" width="1" height="28" fill="url(#g148)"/>
<rect x="146" y="176" width="1" height="53" fill="url(#g149)"/>
<rect x="147" y="175" width="1" height="54" fill="url(#g150)"/>
<rect x="149" y="175" width="1" height="54" fill="url(#g151)"/>
<rect x="153" y="168" width="1" height="61" fill="url(#g152)"/>
<rect x="154" y="172" width="1" height="37" fill="url(#g153)"/>
<rect x="154" y="211" width="1" height="18" fill="url(#g154)"/>
<rect x="156" y="168" width="1" height="61" fill="url(#g155)"/>
<g mask="url(#v40)">
<rect x="81" y="165" width="76" height="64" fill="url(#g156)"/>
</g>
<rect x="149" y="170" width="8" height="59" fill="url(#g157)"/>
<g mask="url(#v60)">
<rect x="150" y="225" width="90" height="4" fill="url(#g158)"/>
<rect x="240" y="226" width="260" height="3" fill="url(#g159)"/>
<rect x="160" y="223" width="15" height="6" fill="url(#g160)"/>
<rect x="190" y="224" width="25" height="5" fill="url(#g161)"/>
<rect x="300" y="221" width="45" height="8" fill="url(#g162)"/>
<rect x="355" y="225" width="17" height="4" fill="url(#g163)"/>
</g>
<rect x="170" y="169" width="1" height="60" fill="url(#g164)"/>
<rect x="176" y="169" width="1" height="60" fill="url(#g165)"/>
<rect x="184" y="176" width="2" height="53" fill="url(#g166)"/>
<rect x="193" y="173" width="1" height="56" fill="url(#g167)"/>
<rect x="199" y="172" width="1" height="57" fill="url(#g168)"/>
<rect x="205" y="177" width="1" height="52" fill="url(#g169)"/>
<rect x="163" y="180" width="1" height="49" fill="url(#g170)"/>
<rect x="212" y="185" width="1" height="44" fill="url(#g171)"/>
<rect x="324" y="175" width="3" height="54" fill="url(#g172)"/>
<rect x="331" y="160" width="1" height="69" fill="url(#g173)"/>
<rect x="332" y="165" width="1" height="64" fill="url(#g174)"/>
<rect x="333" y="158" width="1" height="71" fill="url(#g175)"/>
<rect x="334" y="162" width="1" height="67" fill="url(#g176)"/>
<rect x="335" y="160" width="1" height="69" fill="url(#g177)"/>
<rect x="336" y="166" width="1" height="63" fill="url(#g178)"/>
<rect x="337" y="163" width="1" height="66" fill="url(#g179)"/>
<rect x="338" y="160" width="1" height="69" fill="url(#g180)"/>
<rect x="339" y="165" width="1" height="64" fill="url(#g181)"/>
<rect x="340" y="170" width="1" height="59" fill="url(#g182)"/>
<rect x="341" y="168" width="1" height="61" fill="url(#g183)"/>
<rect x="342" y="175" width="1" height="54" fill="url(#g184)"/>
<rect x="289" y="166" width="1" height="63" fill="url(#g185)"/>
<rect x="290" y="164" width="1" height="65" fill="url(#g186)"/>
<rect x="291" y="168" width="1" height="61" fill="url(#g187)"/>
<rect x="292" y="165" width="1" height="64" fill="url(#g188)"/>
<rect x="293" y="170" width="1" height="59" fill="url(#g189)"/>
<rect x="294" y="172" width="1" height="57" fill="url(#g190)"/>
<rect x="274" y="158" width="1" height="71" fill="url(#g191)"/>
<rect x="275" y="156" width="1" height="73" fill="url(#g192)"/>
<rect x="277" y="157" width="1" height="72" fill="url(#g193)"/>
<rect x="279" y="156" width="1" height="73" fill="url(#g194)"/>
<rect x="280" y="158" width="1" height="71" fill="url(#g195)"/>
<rect x="282" y="156" width="1" height="73" fill="url(#g196)"/>
<rect x="283" y="160" width="1" height="69" fill="url(#g197)"/>
<rect x="285" y="162" width="1" height="67" fill="url(#g198)"/>
<rect x="320" y="154" width="4" height="75" fill="url(#g199)"/>
<rect x="327" y="154" width="4" height="75" fill="url(#g200)"/>
<g mask="url(#m35)">
<rect x="272" y="154" width="72" height="75" fill="#0050ff" opacity="0.3"/>
</g>
<rect x="276" y="156" width="1" height="73" fill="url(#g201)"/>
<rect x="278" y="156" width="1" height="73" fill="url(#g202)"/>
<rect x="281" y="156" width="1" height="73" fill="url(#g203)"/>
<rect x="284" y="156" width="1" height="73" fill="url(#g204)"/>
<rect x="295" y="154" width="1" height="75" fill="url(#g205)"/>
<rect x="149" y="154" width="1" height="75" fill="url(#g206)"/>
<rect x="243" y="154" width="1" height="75" fill="url(#g207)"/>
<rect x="257" y="154" width="1" height="75" fill="url(#g208)"/>
<rect x="263" y="154" width="1" height="75" fill="url(#g209)"/>
<rect x="287" y="154" width="1" height="75" fill="url(#g210)"/>
<rect x="436" y="154" width="1" height="75" fill="url(#g211)"/>
<rect x="456" y="154" width="1" height="75" fill="url(#g212)"/>
<rect x="478" y="154" width="1" height="75" fill="url(#g213)"/>
<rect x="480" y="154" width="1" height="75" fill="url(#g214)"/>
<rect x="439" y="154" width="2" height="75" fill="url(#g215)"/>
<rect x="484" y="154" width="2" height="75" fill="url(#g216)"/>
<g mask="url(#v60)">
<rect x="81" y="224" width="419" height="4" fill="url(#g217)"/>
</g>
<rect x="81" y="227" width="419" height="1" fill="url(#g218)"/>
<rect x="81" y="228" width="419" height="1" fill="#00ff30"/>
</g>
<g clip-path="url(#clip2)">
<rect x="81" y="250" width="1" height="75" fill="url(#g219)"/>
<rect x="82" y="250" width="1" height="75" fill="url(#g220)"/>
<rect x="83" y="250" width="1" height="75" fill="url(#g221)"/>
<rect x="84" y="250" width="1" height="75" fill="url(#g222)"/>
<rect x="85" y="250" width="1" height="75" fill="url(#g223)"/>
<rect x="86" y="250" width="1" height="75" fill="url(#g224)"/>
<rect x="87" y="250" width="1" height="75" fill="url(#g225)"/>
<rect x="88" y="250" width="1" height="75" fill="url(#g221)"/>
<rect x="89" y="250" width="1" height="75" fill="url(#g220)"/>
<rect x="90" y="250" width="2" height="75" fill="url(#g219)"/>
<rect x="92" y="250" width="1" height="75" fill="url(#g226)"/>
<rect x="93" y="250" width="1" height="75" fill="url(#g219)"/>
<rect x="94" y="250" width="2" height="75" fill="url(#g223)"/>
<rect x="96" y="250" width="1" height="75" fill="url(#g227)"/>
<rect x="97" y="250" width="1" height="75" fill="url(#g225)"/>
<rect x="98" y="250" width="1" height="75" fill="url(#g228)"/>
<rect x="99" y="250" width="1" height="75" fill="url(#g221)"/>
<rect x="100" y="250" width="4" height="75" fill="url(#g219)"/>
<rect x="104" y="250" width="1" height="75" fill="url(#g229)"/>
<rect x="105" y="250" width="1" height="75" fill="url(#g227)"/>
<rect x="106" y="250" width="1" height="75" fill="url(#g220)"/>
<rect x="107" y="250" width="1" height="75" fill="url(#g221)"/>
<rect x="108" y="250" width="1" height="75" fill="url(#g230)"/>
<rect x="109" y="250" width="1" height="75" fill="url(#g220)"/>
<rect x="110" y="250" width="1" height="75" fill="url(#g229)"/>
<rect x="111" y="250" width="1" height="75" fill="url(#g227)"/>
<rect x="112" y="250" width="1" height="75" fill="url(#g219)"/>
<rect x="113" y="250" width="1" height="75" fill="url(#g225)"/>
<rect x="114" y="250" width="1" height="75" fill="url(#g221)"/>
<rect x="115" y="250" width="1" height="75" fill="url(#g220)"/>
<rect x="116" y="250" width="1" height="75" fill="url(#g231)"/>
<rect x="117" y="250" width="1" height="75" fill="url(#g225)"/>
<rect x="118" y="250" width="1" height="75" fill="url(#g219)"/>
<rect x="119" y="250" width="1" height="75" fill="url(#g232)"/>
<rect x="120" y="250" width="1" height="75" fill="url(#g227)"/>
<rect x="121" y="250" width="1" height="75" fill="url(#g223)"/>
<rect x="122" y="250" width="1" height="75" fill="url(#g222)"/>
<rect x="123" y="250" width="1" height="75" fill="url(#g220)"/>
<rect x="124" y="250" width="1" height="75" fill="url(#g226)"/>
<rect x="125" y="250" width="1" height="75" fill="url(#g221)"/>
<rect x="126" y="250" width="1" height="75" fill="url(#g223)"/>
<rect x="127" y="250" width="1" height="75" fill="url(#g220)"/>
<rect x="128" y="250" width="1" height="75" fill="url(#g224)"/>
<rect x="129" y="250" width="1" height="75" fill="url(#g223)"/>
<rect x="130" y="250" width="1" height="75" fill="url(#g221)"/>
<rect x="131" y="250" width="2" height="75" fill="url(#g223)"/>
<rect x="133" y="250" width="1" height="75" fill="url(#g229)"/>
<rect x="134" y="250" width="1" height="75" fill="url(#g219)"/>
<rect x="135" y="250" width="1" height="75" fill="url(#g221)"/>
<rect x="136" y="250" width="3" height="75" fill="url(#g227)"/>
<rect x="139" y="250" width="2" height="75" fill="url(#g223)"/>
<rect x="141" y="250" width="1" height="75" fill="url(#g221)"/>
<rect x="142" y="250" width="1" height="75" fill="url(#g219)"/>
<rect x="143" y="250" width="1" height="75" fill="url(#g225)"/>
<rect x="144" y="250" width="1" height="75" fill="url(#g223)"/>
<rect x="145" y="250" width="1" height="75" fill="url(#g220)"/>
<rect x="146" y="250" width="1" height="75" fill="url(#g219)"/>
<rect x="147" y="250" width="1" height="75" fill="url(#g223)"/>
<rect x="148" y="250" width="1" height="75" fill="url(#g227)"/>
<rect x="149" y="250" width="1" height="75" fill="url(#g223)"/>
<rect x="150" y="250" width="1" height="75" fill="url(#g227)"/>
<rect x="151" y="250" width="1" height="75" fill="url(#g219)"/>
<rect x="152" y="250" width="1" height="75" fill="url(#g223)"/>
<rect x="153" y="250" width="1" height="75" fill="url(#g228)"/>
<rect x="154" y="250" width="1" height="75" fill="url(#g227)"/>
<rect x="155" y="250" width="1" height="75" fill="url(#g219)"/>
<rect x="156" y="250" width="1" height="75" fill="url(#g223)"/>
<rect x="157" y="250" width="1" height="75" fill="url(#g219)"/>
<rect x="158" y="250" width="1" height="75" fill="url(#g227)"/>
<rect x="159" y="250" width="1" height="75" fill="url(#g223)"/>
<rect x="160" y="250" width="1" height="75" fill="url(#g220)"/>
<rect x="161" y="250" width="1" height="75" fill="url(#g221)"/>
<rect x="162" y="250" width="3" height="75" fill="url(#g219)"/>
<rect x="165" y="250" width="1" height="75" fill="url(#g229)"/>
<rect x="166" y="250" width="1" height="75" fill="url(#g230)"/>
<rect x="167" y="250" width="1" height="75" fill="url(#g220)"/>
<rect x="168" y="250" width="1" height="75" fill="url(#g219)"/>
<rect x="169" y="250" width="2" height="75" fill="url(#g223)"/>
<rect x="171" y="250" width="5" height="75" fill="url(#g219)"/>
<rect x="176" y="250" width="1" height="75" fill="url(#g223)"/>
<rect x="177" y="250" width="1" height="75" fill="url(#g227)"/>
<rect x="178" y="250" width="1" height="75" fill="url(#g220)"/>
<rect x="179" y="250" width="1" height="75" fill="url(#g221)"/>
<rect x="180" y="250" width="1" height="75" fill="url(#g227)"/>
<rect x="181" y="250" width="1" height="75" fill="url(#g220)"/>
<rect x="182" y="250" width="1" height="75" fill="url(#g224)"/>
<rect x="183" y="250" width="1" height="75" fill="url(#g220)"/>
<rect x="184" y="250" width="1" height="75" fill="url(#g227)"/>
<rect x="185" y="250" width="1" height="75" fill="url(#g220)"/>
<rect x="186" y="250" width="1" height="75" fill="url(#g219)"/>
<rect x="187" y="250" width="2" height="75" fill="url(#g229)"/>
<rect x="189" y="250" width="1" height="75" fill="url(#g223)"/>
<rect x="190" y="250" width="1" height="75" fill="url(#g225)"/>
<rect x="191" y="250" width="1" height="75" fill="url(#g221)"/>
<rect x="192" y="250" width="1" height="75" fill="url(#g223)"/>
<rect x="193" y="250" width="1" height="75" fill="url(#g227)"/>
<rect x="194" y="250" width="1" height="75" fill="url(#g228)"/>
<rect x="195" y="250" width="1" height="75" fill="url(#g223)"/>
<rect x="196" y="250" width="2" height="75" fill="url(#g220)"/>
<rect x="198" y="250" width="1" height="75" fill="url(#g232)"/>
<rect x="199" y="250" width="1" height="75" fill="url(#g220)"/>
<rect x="200" y="250" width="1" height="75" fill="url(#g225)"/>
<rect x="201" y="250" width="1" height="75" fill="url(#g220)"/>
<rect x="202" y="250" width="1" height="75" fill="url(#g221)"/>
<rect x="203" y="250" width="1" height="75" fill="url(#g220)"/>
<rect x="204" y="250" width="1" height="75" fill="url(#g223)"/>
<rect x="205" y="250" width="1" height="75" fill="url(#g219)"/>
<rect x="206" y="250" width="1" height="75" fill="url(#g221)"/>
<rect x="207" y="250" width="2" height="75" fill="url(#g223)"/>
<rect x="209" y="250" width="4" height="75" fill="url(#g219)"/>
<rect x="213" y="250" width="1" height="75" fill="url(#g223)"/>
<rect x="214" y="250" width="1" height="75" fill="url(#g231)"/>
<rect x="215" y="250" width="1" height="75" fill="url(#g221)"/>
<rect x="216" y="250" width="1" height="75" fill="url(#g219)"/>
<rect x="217" y="250" width="1" height="75" fill="url(#g221)"/>
<rect x="218" y="250" width="1" height="75" fill="url(#g219)"/>
<rect x="219" y="250" width="1" height="75" fill="url(#g224)"/>
<rect x="220" y="250" width="1" height="75" fill="url(#g225)"/>
<rect x="221" y="250" width="1" height="75" fill="url(#g223)"/>
<rect x="222" y="250" width="1" height="75" fill="url(#g219)"/>
<rect x="223" y="250" width="1" height="75" fill="url(#g221)"/>
<rect x="224" y="250" width="2" height="75" fill="url(#g231)"/>
<rect x="226" y="250" width="1" height="75" fill="url(#g220)"/>
<rect x="227" y="250" width="3" height="75" fill="url(#g219)"/>
<rect x="230" y="250" width="1" height="75" fill="url(#g232)"/>
<rect x="231" y="250" width="2" height="75" fill="url(#g219)"/>
<rect x="233" y="250" width="2" height="75" fill="url(#g227)"/>
<rect x="235" y="250" width="1" height="75" fill="url(#g223)"/>
<rect x="236" y="250" width="2" height="75" fill="url(#g220)"/>
<rect x="238" y="250" width="1" height="75" fill="url(#g219)"/>
<rect x="239" y="250" width="1" height="75" fill="url(#g232)"/>
<rect x="240" y="250" width="1" height="75" fill="url(#g219)"/>
<rect x="241" y="250" width="1" height="75" fill="url(#g229)"/>
<rect x="242" y="250" width="1" height="75" fill="url(#g226)"/>
<rect x="243" y="250" width="1" height="75" fill="url(#g233)"/>
<rect x="244" y="250" width="1" height="75" fill="url(#g234)"/>
<rect x="245" y="250" width="1" height="75" fill="url(#g235)"/>
<rect x="246" y="250" width="1" height="75" fill="url(#g236)"/>
<rect x="247" y="250" width="1" height="75" fill="url(#g237)"/>
<rect x="248" y="250" width="1" height="75" fill="url(#g238)"/>
<rect x="249" y="250" width="1" height="75" fill="url(#g239)"/>
<rect x="250" y="250" width="1" height="75" fill="url(#g237)"/>
<rect x="251" y="250" width="1" height="75" fill="url(#g234)"/>
<rect x="252" y="250" width="1" height="75" fill="url(#g240)"/>
<rect x="253" y="250" width="1" height="75" fill="url(#g241)"/>
<rect x="254" y="250" width="2" height="75" fill="url(#g242)"/>
<rect x="256" y="250" width="1" height="75" fill="url(#g243)"/>
<rect x="257" y="250" width="1" height="75" fill="url(#g244)"/>
<rect x="258" y="250" width="1" height="75" fill="url(#g245)"/>
<rect x="259" y="250" width="1" height="75" fill="url(#g246)"/>
<rect x="260" y="250" width="1" height="75" fill="url(#g247)"/>
<rect x="261" y="250" width="2" height="75" fill="url(#g246)"/>
<rect x="263" y="250" width="1" height="75" fill="url(#g247)"/>
<rect x="264" y="250" width="1" height="75" fill="url(#g248)"/>
<rect x="265" y="250" width="1" height="75" fill="url(#g246)"/>
<rect x="266" y="250" width="1" height="75" fill="url(#g233)"/>
<rect x="267" y="250" width="1" height="75" fill="url(#g242)"/>
<rect x="268" y="250" width="1" height="75" fill="url(#g249)"/>
<rect x="269" y="250" width="1" height="75" fill="url(#g246)"/>
<rect x="270" y="250" width="1" height="75" fill="url(#g250)"/>
<rect x="271" y="250" width="1" height="75" fill="url(#g247)"/>
<rect x="272" y="250" width="1" height="75" fill="url(#g250)"/>
<rect x="273" y="250" width="1" height="75" fill="url(#g251)"/>
<rect x="274" y="250" width="1" height="75" fill="url(#g248)"/>
<rect x="275" y="250" width="1" height="75" fill="url(#g247)"/>
<rect x="276" y="250" width="1" height="75" fill="url(#g252)"/>
<rect x="277" y="250" width="1" height="75" fill="url(#g253)"/>
<rect x="278" y="250" width="1" height="75" fill="url(#g254)"/>
<rect x="279" y="250" width="1" height="75" fill="url(#g247)"/>
<rect x="280" y="250" width="1" height="75" fill="url(#g255)"/>
<rect x="281" y="250" width="1" height="75" fill="url(#g256)"/>
<rect x="282" y="250" width="2" height="75" fill="url(#g247)"/>
<rect x="284" y="250" width="1" height="75" fill="url(#g250)"/>
<rect x="285" y="250" width="1" height="75" fill="url(#g257)"/>
<rect x="286" y="250" width="1" height="75" fill="url(#g250)"/>
<rect x="333" y="250" width="2" height="75" fill="url(#g247)"/>
<rect x="335" y="250" width="1" height="75" fill="url(#g258)"/>
<rect x="336" y="250" width="1" height="75" fill="url(#g247)"/>
<rect x="337" y="250" width="1" height="75" fill="url(#g248)"/>
<rect x="338" y="250" width="1" height="75" fill="url(#g259)"/>
<rect x="339" y="250" width="1" height="75" fill="url(#g248)"/>
<rect x="340" y="250" width="1" height="75" fill="url(#g259)"/>
<rect x="341" y="250" width="1" height="75" fill="url(#g260)"/>
<rect x="342" y="250" width="1" height="75" fill="url(#g261)"/>
<rect x="343" y="250" width="1" height="75" fill="url(#g262)"/>
<rect x="344" y="250" width="1" height="75" fill="url(#g257)"/>
<rect x="345" y="250" width="1" height="75" fill="url(#g244)"/>
<rect x="346" y="250" width="1" height="75" fill="url(#g263)"/>
<rect x="347" y="250" width="1" height="75" fill="url(#g264)"/>
<rect x="348" y="250" width="1" height="75" fill="url(#g265)"/>
<rect x="349" y="250" width="1" height="75" fill="url(#g266)"/>
<rect x="350" y="250" width="2" height="75" fill="url(#g267)"/>
<rect x="352" y="250" width="1" height="75" fill="url(#g268)"/>
<rect x="353" y="250" width="1" height="75" fill="url(#g229)"/>
<rect x="354" y="250" width="1" height="75" fill="url(#g243)"/>
<rect x="355" y="250" width="1" height="75" fill="url(#g269)"/>
<rect x="356" y="250" width="1" height="75" fill="url(#g244)"/>
<rect x="357" y="250" width="1" height="75" fill="url(#g263)"/>
<rect x="358" y="250" width="1" height="75" fill="url(#g270)"/>
<rect x="359" y="250" width="2" height="75" fill="url(#g264)"/>
<rect x="361" y="250" width="1" height="75" fill="url(#g271)"/>
<rect x="362" y="250" width="1" height="75" fill="url(#g270)"/>
<rect x="363" y="250" width="1" height="75" fill="url(#g263)"/>
<rect x="364" y="250" width="1" height="75" fill="url(#g240)"/>
<rect x="365" y="250" width="1" height="75" fill="url(#g272)"/>
<rect x="366" y="250" width="1" height="75" fill="url(#g273)"/>
<rect x="367" y="250" width="1" height="75" fill="url(#g271)"/>
<rect x="368" y="250" width="2" height="75" fill="url(#g263)"/>
<rect x="370" y="250" width="1" height="75" fill="url(#g265)"/>
<rect x="371" y="250" width="1" height="75" fill="url(#g274)"/>
<rect x="372" y="250" width="1" height="75" fill="url(#g270)"/>
<rect x="373" y="250" width="1" height="75" fill="url(#g271)"/>
<rect x="374" y="250" width="1" height="75" fill="url(#g266)"/>
<rect x="375" y="250" width="1" height="75" fill="url(#g273)"/>
<rect x="376" y="250" width="1" height="75" fill="url(#g265)"/>
<rect x="377" y="250" width="2" height="75" fill="url(#g271)"/>
<rect x="379" y="250" width="1" height="75" fill="url(#g273)"/>
<rect x="380" y="250" width="1" height="75" fill="url(#g275)"/>
<rect x="381" y="250" width="1" height="75" fill="url(#g276)"/>
<rect x="382" y="250" width="1" height="75" fill="url(#g233)"/>
<rect x="383" y="250" width="1" height="75" fill="url(#g272)"/>
<rect x="384" y="250" width="1" height="75" fill="url(#g273)"/>
<rect x="385" y="250" width="1" height="75" fill="url(#g267)"/>
<rect x="386" y="250" width="1" height="75" fill="url(#g272)"/>
<rect x="387" y="250" width="1" height="75" fill="url(#g268)"/>
<rect x="388" y="250" width="1" height="75" fill="url(#g271)"/>
<rect x="389" y="250" width="1" height="75" fill="url(#g231)"/>
<rect x="390" y="250" width="1" height="75" fill="url(#g273)"/>
<rect x="391" y="250" width="1" height="75" fill="url(#g276)"/>
<rect x="392" y="250" width="1" height="75" fill="url(#g263)"/>
<rect x="393" y="250" width="1" height="75" fill="url(#g277)"/>
<rect x="394" y="250" width="1" height="75" fill="url(#g278)"/>
<rect x="395" y="250" width="1" height="75" fill="url(#g244)"/>
<rect x="396" y="250" width="1" height="75" fill="url(#g243)"/>
<rect x="397" y="250" width="1" height="75" fill="url(#g263)"/>
<rect x="398" y="250" width="1" height="75" fill="url(#g244)"/>
<rect x="399" y="250" width="1" height="75" fill="url(#g271)"/>
<rect x="400" y="250" width="1" height="75" fill="url(#g268)"/>
<rect x="401" y="250" width="1" height="75" fill="url(#g276)"/>
<rect x="402" y="250" width="2" height="75" fill="url(#g278)"/>
<rect x="404" y="250" width="2" height="75" fill="url(#g279)"/>
<rect x="406" y="250" width="1" height="75" fill="url(#g229)"/>
<rect x="407" y="250" width="1" height="75" fill="url(#g264)"/>
<rect x="408" y="250" width="1" height="75" fill="url(#g279)"/>
<rect x="409" y="250" width="1" height="75" fill="url(#g270)"/>
<rect x="410" y="250" width="1" height="75" fill="url(#g279)"/>
<rect x="411" y="250" width="1" height="75" fill="url(#g265)"/>
<rect x="412" y="250" width="1" height="75" fill="url(#g277)"/>
<rect x="413" y="250" width="2" height="75" fill="url(#g270)"/>
<rect x="415" y="250" width="1" height="75" fill="url(#g275)"/>
<rect x="416" y="250" width="1" height="75" fill="url(#g263)"/>
<rect x="417" y="250" width="3" height="75" fill="url(#g271)"/>
<rect x="420" y="250" width="1" height="75" fill="url(#g264)"/>
<rect x="421" y="250" width="1" height="75" fill="url(#g240)"/>
<rect x="422" y="250" width="1" height="75" fill="url(#g279)"/>
<rect x="423" y="250" width="1" height="75" fill="url(#g229)"/>
<rect x="424" y="250" width="1" height="75" fill="url(#g231)"/>
<rect x="425" y="250" width="1" height="75" fill="url(#g276)"/>
<rect x="426" y="250" width="1" height="75" fill="url(#g263)"/>
<rect x="427" y="250" width="1" height="75" fill="url(#g276)"/>
<rect x="428" y="250" width="1" height="75" fill="url(#g272)"/>
<rect x="429" y="250" width="1" height="75" fill="url(#g266)"/>
<rect x="430" y="250" width="1" height="75" fill="url(#g231)"/>
<rect x="431" y="250" width="1" height="75" fill="url(#g265)"/>
<rect x="432" y="250" width="1" height="75" fill="url(#g273)"/>
<rect x="433" y="250" width="1" height="75" fill="url(#g233)"/>
<rect x="434" y="250" width="1" height="75" fill="url(#g265)"/>
<rect x="435" y="250" width="1" height="75" fill="url(#g263)"/>
<rect x="436" y="250" width="1" height="75" fill="url(#g264)"/>
<rect x="437" y="250" width="1" height="75" fill="url(#g267)"/>
<rect x="438" y="250" width="1" height="75" fill="url(#g269)"/>
<rect x="439" y="250" width="1" height="75" fill="url(#g271)"/>
<rect x="440" y="250" width="1" height="75" fill="url(#g275)"/>
<rect x="441" y="250" width="1" height="75" fill="url(#g270)"/>
<rect x="442" y="250" width="2" height="75" fill="url(#g273)"/>
<rect x="444" y="250" width="1" height="75" fill="url(#g266)"/>
<rect x="445" y="250" width="1" height="75" fill="url(#g273)"/>
<rect x="446" y="250" width="2" height="75" fill="url(#g270)"/>
<rect x="448" y="250" width="1" height="75" fill="url(#g277)"/>
<rect x="449" y="250" width="1" height="75" fill="url(#g276)"/>
<rect x="450" y="250" width="1" height="75" fill="url(#g231)"/>
<rect x="451" y="250" width="1" height="75" fill="url(#g265)"/>
<rect x="452" y="250" width="1" height="75" fill="url(#g280)"/>
<rect x="453" y="250" width="1" height="75" fill="url(#g276)"/>
<rect x="454" y="250" width="1" height="75" fill="url(#g280)"/>
<rect x="455" y="250" width="1" height="75" fill="url(#g264)"/>
<rect x="456" y="250" width="1" height="75" fill="url(#g263)"/>
<rect x="457" y="250" width="1" height="75" fill="url(#g271)"/>
<rect x="458" y="250" width="1" height="75" fill="url(#g272)"/>
<rect x="459" y="250" width="2" height="75" fill="url(#g233)"/>
<rect x="461" y="250" width="1" height="75" fill="url(#g231)"/>
<rect x="462" y="250" width="1" height="75" fill="url(#g263)"/>
<rect x="463" y="250" width="1" height="75" fill="url(#g275)"/>
<rect x="464" y="250" width="1" height="75" fill="url(#g269)"/>
<rect x="465" y="250" width="1" height="75" fill="url(#g280)"/>
<rect x="466" y="250" width="1" height="75" fill="url(#g273)"/>
<rect x="467" y="250" width="1" height="75" fill="url(#g269)"/>
<rect x="468" y="250" width="1" height="75" fill="url(#g233)"/>
<rect x="469" y="250" width="1" height="75" fill="url(#g271)"/>
<rect x="470" y="250" width="1" height="75" fill="url(#g277)"/>
<rect x="471" y="250" width="1" height="75" fill="url(#g265)"/>
<rect x="472" y="250" width="1" height="75" fill="url(#g267)"/>
<rect x="473" y="250" width="2" height="75" fill="url(#g263)"/>
<rect x="475" y="250" width="1" height="75" fill="url(#g243)"/>
<rect x="476" y="250" width="1" height="75" fill="url(#g273)"/>
<rect x="477" y="250" width="1" height="75" fill="url(#g263)"/>
<rect x="478" y="250" width="1" height="75" fill="url(#g268)"/>
<rect x="479" y="250" width="1" height="75" fill="url(#g281)"/>
<rect x="480" y="250" width="3" height="75" fill="url(#g264)"/>
<rect x="483" y="250" width="3" height="75" fill="url(#g271)"/>
<rect x="486" y="250" width="1" height="75" fill="url(#g270)"/>
<rect x="487" y="250" width="2" height="75" fill="url(#g279)"/>
<rect x="489" y="250" width="1" height="75" fill="url(#g269)"/>
<rect x="490" y="250" width="1" height="75" fill="url(#g276)"/>
<rect x="491" y="250" width="1" height="75" fill="url(#g272)"/>
<rect x="492" y="250" width="1" height="75" fill="url(#g268)"/>
<rect x="493" y="250" width="1" height="75" fill="url(#g265)"/>
<rect x="494" y="250" width="1" height="75" fill="url(#g264)"/>
<rect x="495" y="250" width="1" height="75" fill="url(#g276)"/>
<rect x="496" y="250" width="1" height="75" fill="url(#g274)"/>
<rect x="497" y="250" width="1" height="75" fill="url(#g245)"/>
<rect x="498" y="250" width="1" height="75" fill="url(#g263)"/>
<rect x="499" y="250" width="1" height="75" fill="url(#g275)"/>
<rect x="440" y="305" width="60" height="20" fill="url(#g282)"/>
<rect x="81" y="319" width="160" height="6" fill="url(#g283)"/>
<rect x="287" y="250" width="7" height="75" fill="url(#g284)"/>
<rect x="294" y="250" width="3" height="75" fill="url(#g285)"/>
<line x1="296.5" y1="250" x2="296.5" y2="325" stroke="#0020d0" stroke-dasharray="2,1" opacity="0.8"/>
<rect x="297" y="250" width="9" height="75" fill="url(#g286)"/>
<rect x="306" y="250" width="1" height="75" fill="url(#g287)"/>
<rect x="307" y="250" width="10" height="75" fill="url(#g288)"/>
<rect x="317" y="250" width="5" height="75" fill="url(#g289)"/>
<rect x="322" y="250" width="6" height="75" fill="url(#g290)"/>
<rect x="328" y="250" width="5" height="75" fill="url(#g291)"/>
<rect x="330" y="250" width="1" height="75" fill="url(#g292)"/>
<rect x="243" y="250" width="1" height="75" fill="url(#g293)"/>
<rect x="262" y="250" width="1" height="75" fill="url(#g294)"/>
<rect x="282" y="250" width="1" height="75" fill="url(#g295)"/>
<rect x="285" y="250" width="2" height="75" fill="url(#g296)"/>
<g mask="url(#m50)">
<rect x="287" y="250" width="13" height="14" fill="url(#g297)"/>
</g>
<g mask="url(#m50)">
<rect x="320" y="250" width="9" height="9" fill="url(#g298)"/>
</g>
</g>
<g clip-path="url(#clip3)">
<clipPath id="cu3"><rect x="81" y="365" width="419" height="66"/></clipPath>
<clipPath id="cl3"><rect x="81" y="431" width="419" height="9"/></clipPath>
<g clip-path="url(#cu3)">
<rect x="70" y="350" width="440" height="100" fill="url(#g299)" filter="url(#dispA)"/>
<rect x="250" y="350" width="8" height="100" fill="url(#g300)" filter="url(#dispA)"/>
<rect x="258" y="350" width="8" height="100" fill="url(#g301)" filter="url(#dispA)"/>
<rect x="266" y="350" width="69" height="100" fill="url(#g302)" filter="url(#dispA)"/>
<rect x="335" y="350" width="10" height="100" fill="url(#g303)" filter="url(#dispA)"/>
<rect x="345" y="350" width="7" height="100" fill="url(#g304)" filter="url(#dispA)"/>
</g>
<g clip-path="url(#cl3)">
<rect x="70" y="415" width="440" height="35" fill="url(#g305)" filter="url(#dispB)"/>
</g>
<g mask="url(#w40)">
<rect x="81" y="365" width="419" height="40" fill="url(#g306)"/>
</g>
<g mask="url(#m35)">
<rect x="81" y="383" width="419" height="30" fill="url(#g307)"/>
</g>
<rect x="81" y="365" width="419" height="14" fill="#000" filter="url(#e4)"/>
<rect x="81" y="379" width="419" height="12" fill="#000" filter="url(#e2)"/>
<rect x="243" y="365" width="1" height="75" fill="url(#g308)"/>
<rect x="257" y="365" width="1" height="75" fill="url(#g309)"/>
<rect x="264" y="365" width="1" height="75" fill="url(#g310)"/>
<rect x="272" y="365" width="1" height="75" fill="url(#g311)"/>
<rect x="287" y="365" width="1" height="75" fill="url(#g312)"/>
<rect x="293" y="365" width="1" height="75" fill="url(#g313)"/>
<rect x="306" y="365" width="1" height="75" fill="url(#g314)"/>
<rect x="434" y="365" width="1" height="75" fill="url(#g315)"/>
<rect x="436" y="365" width="1" height="75" fill="url(#g316)"/>
<rect x="439" y="365" width="1" height="75" fill="url(#g317)"/>
<rect x="472" y="365" width="1" height="75" fill="url(#g318)"/>
<rect x="478" y="365" width="1" height="75" fill="url(#g319)"/>
<rect x="480" y="365" width="1" height="75" fill="url(#g320)"/>
<rect x="492" y="365" width="1" height="75" fill="url(#g321)"/>
</g>
<g clip-path="url(#clip4)">
<clipPath id="cu4"><rect x="81" y="461" width="419" height="66"/></clipPath>
<clipPath id="cl4"><rect x="81" y="527" width="419" height="9"/></clipPath>
<g clip-path="url(#cu4)">
<rect x="70" y="446" width="440" height="100" fill="url(#g322)" filter="url(#dispA)"/>
<rect x="255" y="446" width="8" height="100" fill="url(#g323)" filter="url(#dispA)"/>
<rect x="263" y="446" width="8" height="100" fill="url(#g324)" filter="url(#dispA)"/>
<rect x="271" y="446" width="64" height="100" fill="url(#g325)" filter="url(#dispA)"/>
<rect x="335" y="446" width="10" height="100" fill="url(#g326)" filter="url(#dispA)"/>
<rect x="345" y="446" width="7" height="100" fill="url(#g327)" filter="url(#dispA)"/>
</g>
<g clip-path="url(#cl4)">
<rect x="70" y="511" width="440" height="35" fill="url(#g328)" filter="url(#dispB)"/>
</g>
<g mask="url(#w40)">
<rect x="81" y="461" width="419" height="40" fill="url(#g329)"/>
</g>
<g mask="url(#m35)">
<rect x="81" y="479" width="419" height="30" fill="url(#g330)"/>
</g>
<rect x="81" y="461" width="419" height="14" fill="#000" filter="url(#e4)"/>
<rect x="81" y="475" width="419" height="12" fill="#000" filter="url(#e2)"/>
<rect x="243" y="461" width="1" height="75" fill="url(#g331)"/>
<rect x="257" y="461" width="1" height="75" fill="url(#g332)"/>
<rect x="264" y="461" width="1" height="75" fill="url(#g333)"/>
<rect x="272" y="461" width="1" height="75" fill="url(#g334)"/>
<rect x="287" y="461" width="1" height="75" fill="url(#g335)"/>
<rect x="293" y="461" width="1" height="75" fill="url(#g336)"/>
<rect x="306" y="461" width="1" height="75" fill="url(#g337)"/>
<rect x="434" y="461" width="1" height="75" fill="url(#g338)"/>
<rect x="436" y="461" width="1" height="75" fill="url(#g339)"/>
<rect x="439" y="461" width="1" height="75" fill="url(#g340)"/>
<rect x="472" y="461" width="1" height="75" fill="url(#g341)"/>
<rect x="478" y="461" width="1" height="75" fill="url(#g342)"/>
<rect x="480" y="461" width="1" height="75" fill="url(#g343)"/>
<rect x="492" y="461" width="1" height="75" fill="url(#g344)"/>
</g>
<g clip-path="url(#clip5)">
<clipPath id="cu5"><rect x="81" y="557" width="419" height="66"/></clipPath>
<clipPath id="cl5"><rect x="81" y="623" width="419" height="9"/></clipPath>
<g clip-path="url(#cu5)">
<rect x="70" y="542" width="440" height="100" fill="url(#g345)" filter="url(#dispA)"/>
<rect x="256" y="542" width="6" height="100" fill="url(#g346)" filter="url(#dispA)"/>
<rect x="262" y="542" width="6" height="100" fill="url(#g347)" filter="url(#dispA)"/>
<rect x="268" y="542" width="37" height="100" fill="url(#g348)" filter="url(#dispA)"/>
<rect x="305" y="542" width="7" height="100" fill="url(#g349)" filter="url(#dispA)"/>
<rect x="312" y="542" width="8" height="100" fill="url(#g350)" filter="url(#dispA)"/>
</g>
<g clip-path="url(#cl5)">
<rect x="70" y="607" width="440" height="35" fill="url(#g351)" filter="url(#dispB)"/>
</g>
<g mask="url(#w40)">
<rect x="81" y="557" width="419" height="40" fill="url(#g352)"/>
</g>
<g mask="url(#m35)">
<rect x="81" y="575" width="419" height="30" fill="url(#g353)"/>
</g>
<rect x="81" y="557" width="419" height="14" fill="#000" filter="url(#e4)"/>
<rect x="81" y="571" width="419" height="12" fill="#000" filter="url(#e2)"/>
<rect x="439" y="557" width="2" height="75" fill="url(#g354)"/>
<rect x="276" y="567" width="1" height="65" fill="url(#g355)"/>
<rect x="243" y="557" width="1" height="75" fill="url(#g356)"/>
<rect x="257" y="557" width="1" height="75" fill="url(#g357)"/>
<rect x="264" y="557" width="1" height="75" fill="url(#g358)"/>
<rect x="287" y="557" width="1" height="75" fill="url(#g359)"/>
<rect x="295" y="557" width="1" height="75" fill="url(#g360)"/>
<rect x="434" y="557" width="1" height="75" fill="url(#g361)"/>
<rect x="472" y="557" width="1" height="75" fill="url(#g362)"/>
<rect x="478" y="557" width="1" height="75" fill="url(#g363)"/>
<rect x="484" y="557" width="1" height="75" fill="url(#g364)"/>
</g>
<rect x="80" y="57" width="421" height="1" fill="#000"/>
<rect x="80" y="133" width="421" height="2" fill="#000"/>
<rect x="80" y="56" width="1" height="81" fill="#000"/>
<rect x="500" y="56" width="1" height="81" fill="#000"/>
<rect x="115" y="135" width="1" height="2" fill="#000"/>
<rect x="150" y="135" width="1" height="2" fill="#000"/>
<rect x="185" y="135" width="1" height="2" fill="#000"/>
<rect x="220" y="135" width="1" height="2" fill="#000"/>
<rect x="255" y="135" width="1" height="2" fill="#000"/>
<rect x="290" y="135" width="1" height="2" fill="#000"/>
<rect x="325" y="135" width="1" height="2" fill="#000"/>
<rect x="360" y="135" width="1" height="2" fill="#000"/>
<rect x="395" y="135" width="1" height="2" fill="#000"/>
<rect x="430" y="135" width="1" height="2" fill="#000"/>
<rect x="465" y="135" width="1" height="2" fill="#000"/>
<rect x="185" y="56" width="1" height="1" fill="#000"/>
<rect x="290" y="56" width="1" height="1" fill="#000"/>
<rect x="395" y="56" width="1" height="1" fill="#000"/>
<rect x="71" y="134" width="9" height="1" fill="#000"/>
<rect x="501" y="134" width="8" height="1" fill="#000"/>
<rect x="75" y="132" width="5" height="1" fill="#000"/>
<rect x="501" y="132" width="4" height="1" fill="#000"/>
<rect x="75" y="129" width="5" height="1" fill="#000"/>
<rect x="501" y="129" width="4" height="1" fill="#000"/>
<rect x="75" y="127" width="5" height="1" fill="#000"/>
<rect x="501" y="127" width="4" height="1" fill="#000"/>
<rect x="75" y="124" width="5" height="1" fill="#000"/>
<rect x="501" y="124" width="4" height="1" fill="#000"/>
<rect x="71" y="122" width="9" height="1" fill="#000"/>
<rect x="501" y="122" width="8" height="1" fill="#000"/>
<rect x="75" y="119" width="5" height="1" fill="#000"/>
<rect x="501" y="119" width="4" height="1" fill="#000"/>
<rect x="75" y="117" width="5" height="1" fill="#000"/>
<rect x="501" y="117" width="4" height="1" fill="#000"/>
<rect x="75" y="114" width="5" height="1" fill="#000"/>
<rect x="501" y="114" width="4" height="1" fill="#000"/>
<rect x="75" y="111" width="5" height="1" fill="#000"/>
<rect x="501" y="111" width="4" height="1" fill="#000"/>
<rect x="71" y="109" width="9" height="1" fill="#000"/>
<rect x="501" y="109" width="8" height="1" fill="#000"/>
<rect x="75" y="106" width="5" height="1" fill="#000"/>
<rect x="501" y="106" width="4" height="1" fill="#000"/>
<rect x="75" y="104" width="5" height="1" fill="#000"/>
<rect x="501" y="104" width="4" height="1" fill="#000"/>
<rect x="75" y="101" width="5" height="1" fill="#000"/>
<rect x="501" y="101" width="4" height="1" fill="#000"/>
<rect x="75" y="99" width="5" height="1" fill="#000"/>
<rect x="501" y="99" width="4" height="1" fill="#000"/>
<rect x="71" y="96" width="9" height="1" fill="#000"/>
<rect x="501" y="96" width="8" height="1" fill="#000"/>
<rect x="75" y="93" width="5" height="1" fill="#000"/>
<rect x="501" y="93" width="4" height="1" fill="#000"/>
<rect x="75" y="91" width="5" height="1" fill="#000"/>
<rect x="501" y="91" width="4" height="1" fill="#000"/>
<rect x="75" y="88" width="5" height="1" fill="#000"/>
<rect x="501" y="88" width="4" height="1" fill="#000"/>
<rect x="75" y="86" width="5" height="1" fill="#000"/>
<rect x="501" y="86" width="4" height="1" fill="#000"/>
<rect x="71" y="83" width="9" height="1" fill="#000"/>
<rect x="501" y="83" width="8" height="1" fill="#000"/>
<rect x="75" y="81" width="5" height="1" fill="#000"/>
<rect x="501" y="81" width="4" height="1" fill="#000"/>
<rect x="75" y="78" width="5" height="1" fill="#000"/>
<rect x="501" y="78" width="4" height="1" fill="#000"/>
<rect x="75" y="75" width="5" height="1" fill="#000"/>
<rect x="501" y="75" width="4" height="1" fill="#000"/>
<rect x="75" y="73" width="5" height="1" fill="#000"/>
<rect x="501" y="73" width="4" height="1" fill="#000"/>
<rect x="71" y="70" width="9" height="1" fill="#000"/>
<rect x="501" y="70" width="8" height="1" fill="#000"/>
<rect x="75" y="68" width="5" height="1" fill="#000"/>
<rect x="501" y="68" width="4" height="1" fill="#000"/>
<rect x="75" y="65" width="5" height="1" fill="#000"/>
<rect x="501" y="65" width="4" height="1" fill="#000"/>
<rect x="75" y="63" width="5" height="1" fill="#000"/>
<rect x="501" y="63" width="4" height="1" fill="#000"/>
<rect x="75" y="60" width="5" height="1" fill="#000"/>
<rect x="501" y="60" width="4" height="1" fill="#000"/>
<rect x="71" y="57" width="9" height="1" fill="#000"/>
<rect x="501" y="57" width="8" height="1" fill="#000"/>
<rect x="581" y="58" width="19" height="76" fill="url(#g365)"/>
<rect x="580" y="57" width="1" height="78" fill="#000"/>
<rect x="600" y="57" width="1" height="78" fill="#000"/>
<rect x="576" y="134" width="29" height="1" fill="#000"/>
<rect x="576" y="134" width="4" height="1" fill="#000"/>
<rect x="601" y="134" width="4" height="1" fill="#000"/>
<rect x="578" y="125" width="2" height="1" fill="#000"/>
<rect x="601" y="125" width="2" height="1" fill="#000"/>
<rect x="576" y="115" width="4" height="1" fill="#000"/>
<rect x="601" y="115" width="4" height="1" fill="#000"/>
<rect x="578" y="106" width="2" height="1" fill="#000"/>
<rect x="601" y="106" width="2" height="1" fill="#000"/>
<rect x="576" y="96" width="4" height="1" fill="#000"/>
<rect x="601" y="96" width="4" height="1" fill="#000"/>
<rect x="578" y="86" width="2" height="1" fill="#000"/>
<rect x="601" y="86" width="2" height="1" fill="#000"/>
<rect x="576" y="77" width="4" height="1" fill="#000"/>
<rect x="601" y="77" width="4" height="1" fill="#000"/>
<rect x="578" y="67" width="2" height="1" fill="#000"/>
<rect x="601" y="67" width="2" height="1" fill="#000"/>
<rect x="576" y="57" width="4" height="1" fill="#000"/>
<rect x="601" y="57" width="4" height="1" fill="#000"/>
<rect x="80" y="153" width="421" height="1" fill="#000"/>
<rect x="80" y="229" width="421" height="2" fill="#000"/>
<rect x="80" y="152" width="1" height="81" fill="#000"/>
<rect x="500" y="152" width="1" height="81" fill="#000"/>
<rect x="115" y="231" width="1" height="2" fill="#000"/>
<rect x="150" y="231" width="1" height="2" fill="#000"/>
<rect x="185" y="231" width="1" height="2" fill="#000"/>
<rect x="220" y="231" width="1" height="2" fill="#000"/>
<rect x="255" y="231" width="1" height="2" fill="#000"/>
<rect x="290" y="231" width="1" height="2" fill="#000"/>
<rect x="325" y="231" width="1" height="2" fill="#000"/>
<rect x="360" y="231" width="1" height="2" fill="#000"/>
<rect x="395" y="231" width="1" height="2" fill="#000"/>
<rect x="430" y="231" width="1" height="2" fill="#000"/>
<rect x="465" y="231" width="1" height="2" fill="#000"/>
<rect x="185" y="152" width="1" height="1" fill="#000"/>
<rect x="290" y="152" width="1" height="1" fill="#000"/>
<rect x="395" y="152" width="1" height="1" fill="#000"/>
<rect x="71" y="230" width="9" height="1" fill="#000"/>
<rect x="501" y="230" width="8" height="1" fill="#000"/>
<rect x="75" y="228" width="5" height="1" fill="#000"/>
<rect x="501" y="228" width="4" height="1" fill="#000"/>
<rect x="75" y="225" width="5" height="1" fill="#000"/>
<rect x="501" y="225" width="4" height="1" fill="#000"/>
<rect x="75" y="223" width="5" height="1" fill="#000"/>
<rect x="501" y="223" width="4" height="1" fill="#000"/>
<rect x="75" y="220" width="5" height="1" fill="#000"/>
<rect x="501" y="220" width="4" height="1" fill="#000"/>
<rect x="71" y="218" width="9" height="1" fill="#000"/>
<rect x="501" y="218" width="8" height="1" fill="#000"/>
<rect x="75" y="215" width="5" height="1" fill="#000"/>
<rect x="501" y="215" width="4" height="1" fill="#000"/>
<rect x="75" y="213" width="5" height="1" fill="#000"/>
<rect x="501" y="213" width="4" height="1" fill="#000"/>
<rect x="75" y="210" width="5" height="1" fill="#000"/>
<rect x="501" y="210" width="4" height="1" fill="#000"/>
<rect x="75" y="207" width="5" height="1" fill="#000"/>
<rect x="501" y="207" width="4" height="1" fill="#000"/>
<rect x="71" y="205" width="9" height="1" fill="#000"/>
<rect x="501" y="205" width="8" height="1" fill="#000"/>
<rect x="75" y="202" width="5" height="1" fill="#000"/>
<rect x="501" y="202" width="4" height="1" fill="#000"/>
<rect x="75" y="200" width="5" height="1" fill="#000"/>
<rect x="501" y="200" width="4" height="1" fill="#000"/>
<rect x="75" y="197" width="5" height="1" fill="#000"/>
<rect x="501" y="197" width="4" height="1" fill="#000"/>
<rect x="75" y="195" width="5" height="1" fill="#000"/>
<rect x="501" y="195" width="4" height="1" fill="#000"/>
<rect x="71" y="192" width="9" height="1" fill="#000"/>
<rect x="501" y="192" width="8" height="1" fill="#000"/>
<rect x="75" y="189" width="5" height="1" fill="#000"/>
<rect x="501" y="189" width="4" height="1" fill="#000"/>
<rect x="75" y="187" width="5" height="1" fill="#000"/>
<rect x="501" y="187" width="4" height="1" fill="#000"/>
<rect x="75" y="184" width="5" height="1" fill="#000"/>
<rect x="501" y="184" width="4" height="1" fill="#000"/>
<rect x="75" y="182" width="5" height="1" fill="#000"/>
<rect x="501" y="182" width="4" height="1" fill="#000"/>
<rect x="71" y="179" width="9" height="1" fill="#000"/>
<rect x="501" y="179" width="8" height="1" fill="#000"/>
<rect x="75" y="177" width="5" height="1" fill="#000"/>
<rect x="501" y="177" width="4" height="1" fill="#000"/>
<rect x="75" y="174" width="5" height="1" fill="#000"/>
<rect x="501" y="174" width="4" height="1" fill="#000"/>
<rect x="75" y="171" width="5" height="1" fill="#000"/>
<rect x="501" y="171" width="4" height="1" fill="#000"/>
<rect x="75" y="169" width="5" height="1" fill="#000"/>
<rect x="501" y="169" width="4" height="1" fill="#000"/>
<rect x="71" y="166" width="9" height="1" fill="#000"/>
<rect x="501" y="166" width="8" height="1" fill="#000"/>
<rect x="75" y="164" width="5" height="1" fill="#000"/>
<rect x="501" y="164" width="4" height="1" fill="#000"/>
<rect x="75" y="161" width="5" height="1" fill="#000"/>
<rect x="501" y="161" width="4" height="1" fill="#000"/>
<rect x="75" y="159" width="5" height="1" fill="#000"/>
<rect x="501" y="159" width="4" height="1" fill="#000"/>
<rect x="75" y="156" width="5" height="1" fill="#000"/>
<rect x="501" y="156" width="4" height="1" fill="#000"/>
<rect x="71" y="153" width="9" height="1" fill="#000"/>
<rect x="501" y="153" width="8" height="1" fill="#000"/>
<rect x="581" y="154" width="19" height="76" fill="url(#g366)"/>
<rect x="580" y="153" width="1" height="78" fill="#000"/>
<rect x="600" y="153" width="1" height="78" fill="#000"/>
<rect x="576" y="230" width="29" height="1" fill="#000"/>
<rect x="576" y="230" width="4" height="1" fill="#000"/>
<rect x="601" y="230" width="4" height="1" fill="#000"/>
<rect x="578" y="221" width="2" height="1" fill="#000"/>
<rect x="601" y="221" width="2" height="1" fill="#000"/>
<rect x="576" y="211" width="4" height="1" fill="#000"/>
<rect x="601" y="211" width="4" height="1" fill="#000"/>
<rect x="578" y="202" width="2" height="1" fill="#000"/>
<rect x="601" y="202" width="2" height="1" fill="#000"/>
<rect x="576" y="192" width="4" height="1" fill="#000"/>
<rect x="601" y="192" width="4" height="1" fill="#000"/>
<rect x="578" y="182" width="2" height="1" fill="#000"/>
<rect x="601" y="182" width="2" height="1" fill="#000"/>
<rect x="576" y="173" width="4" height="1" fill="#000"/>
<rect x="601" y="173" width="4" height="1" fill="#000"/>
<rect x="578" y="163" width="2" height="1" fill="#000"/>
<rect x="601" y="163" width="2" height="1" fill="#000"/>
<rect x="576" y="153" width="4" height="1" fill="#000"/>
<rect x="601" y="153" width="4" height="1" fill="#000"/>
<rect x="80" y="249" width="421" height="1" fill="#000"/>
<rect x="80" y="325" width="421" height="2" fill="#000"/>
<rect x="80" y="248" width="1" height="81" fill="#000"/>
<rect x="500" y="248" width="1" height="81" fill="#000"/>
<rect x="115" y="327" width="1" height="2" fill="#000"/>
<rect x="150" y="327" width="1" height="2" fill="#000"/>
<rect x="185" y="327" width="1" height="2" fill="#000"/>
<rect x="220" y="327" width="1" height="2" fill="#000"/>
<rect x="255" y="327" width="1" height="2" fill="#000"/>
<rect x="290" y="327" width="1" height="2" fill="#000"/>
<rect x="325" y="327" width="1" height="2" fill="#000"/>
<rect x="360" y="327" width="1" height="2" fill="#000"/>
<rect x="395" y="327" width="1" height="2" fill="#000"/>
<rect x="430" y="327" width="1" height="2" fill="#000"/>
<rect x="465" y="327" width="1" height="2" fill="#000"/>
<rect x="185" y="248" width="1" height="1" fill="#000"/>
<rect x="290" y="248" width="1" height="1" fill="#000"/>
<rect x="395" y="248" width="1" height="1" fill="#000"/>
<rect x="71" y="326" width="9" height="1" fill="#000"/>
<rect x="501" y="326" width="8" height="1" fill="#000"/>
<rect x="75" y="324" width="5" height="1" fill="#000"/>
<rect x="501" y="324" width="4" height="1" fill="#000"/>
<rect x="75" y="321" width="5" height="1" fill="#000"/>
<rect x="501" y="321" width="4" height="1" fill="#000"/>
<rect x="75" y="319" width="5" height="1" fill="#000"/>
<rect x="501" y="319" width="4" height="1" fill="#000"/>
<rect x="75" y="316" width="5" height="1" fill="#000"/>
<rect x="501" y="316" width="4" height="1" fill="#000"/>
<rect x="71" y="314" width="9" height="1" fill="#000"/>
<rect x="501" y="314" width="8" height="1" fill="#000"/>
<rect x="75" y="311" width="5" height="1" fill="#000"/>
<rect x="501" y="311" width="4" height="1" fill="#000"/>
<rect x="75" y="309" width="5" height="1" fill="#000"/>
<rect x="501" y="309" width="4" height="1" fill="#000"/>
<rect x="75" y="306" width="5" height="1" fill="#000"/>
<rect x="501" y="306" width="4" height="1" fill="#000"/>
<rect x="75" y="303" width="5" height="1" fill="#000"/>
<rect x="501" y="303" width="4" height="1" fill="#000"/>
<rect x="71" y="301" width="9" height="1" fill="#000"/>
<rect x="501" y="301" width="8" height="1" fill="#000"/>
<rect x="75" y="298" width="5" height="1" fill="#000"/>
<rect x="501" y="298" width="4" height="1" fill="#000"/>
<rect x="75" y="296" width="5" height="1" fill="#000"/>
<rect x="501" y="296" width="4" height="1" fill="#000"/>
<rect x="75" y="293" width="5" height="1" fill="#000"/>
<rect x="501" y="293" width="4" height="1" fill="#000"/>
<rect x="75" y="291" width="5" height="1" fill="#000"/>
<rect x="501" y="291" width="4" height="1" fill="#000"/>
<rect x="71" y="288" width="9" height="1" fill="#000"/>
<rect x="501" y="288" width="8" height="1" fill="#000"/>
<rect x="75" y="285" width="5" height="1" fill="#000"/>
<rect x="501" y="285" width="4" height="1" fill="#000"/>
<rect x="75" y="283" width="5" height="1" fill="#000"/>
<rect x="501" y="283" width="4" height="1" fill="#000"/>
<rect x="75" y="280" width="5" height="1" fill="#000"/>
<rect x="501" y="280" width="4" height="1" fill="#000"/>
<rect x="75" y="278" width="5" height="1" fill="#000"/>
<rect x="501" y="278" width="4" height="1" fill="#000"/>
<rect x="71" y="275" width="9" height="1" fill="#000"/>
<rect x="501" y="275" width="8" height="1" fill="#000"/>
<rect x="75" y="273" width="5" height="1" fill="#000"/>
<rect x="501" y="273" width="4" height="1" fill="#000"/>
<rect x="75" y="270" width="5" height="1" fill="#000"/>
<rect x="501" y="270" width="4" height="1" fill="#000"/>
<rect x="75" y="267" width="5" height="1" fill="#000"/>
<rect x="501" y="267" width="4" height="1" fill="#000"/>
<rect x="75" y="265" width="5" height="1" fill="#000"/>
<rect x="501" y="265" width="4" height="1" fill="#000"/>
<rect x="71" y="262" width="9" height="1" fill="#000"/>
<rect x="501" y="262" width="8" height="1" fill="#000"/>
<rect x="75" y="260" width="5" height="1" fill="#000"/>
<rect x="501" y="260" width="4" height="1" fill="#000"/>
<rect x="75" y="257" width="5" height="1" fill="#000"/>
<rect x="501" y="257" width="4" height="1" fill="#000"/>
<rect x="75" y="255" width="5" height="1" fill="#000"/>
<rect x="501" y="255" width="4" height="1" fill="#000"/>
<rect x="75" y="252" width="5" height="1" fill="#000"/>
<rect x="501" y="252" width="4" height="1" fill="#000"/>
<rect x="71" y="249" width="9" height="1" fill="#000"/>
<rect x="501" y="249" width="8" height="1" fill="#000"/>
<rect x="581" y="250" width="19" height="76" fill="url(#g367)"/>
<rect x="580" y="249" width="1" height="78" fill="#000"/>
<rect x="600" y="249" width="1" height="78" fill="#000"/>
<rect x="576" y="326" width="29" height="1" fill="#000"/>
<rect x="576" y="326" width="4" height="1" fill="#000"/>
<rect x="601" y="326" width="4" height="1" fill="#000"/>
<rect x="578" y="317" width="2" height="1" fill="#000"/>
<rect x="601" y="317" width="2" height="1" fill="#000"/>
<rect x="576" y="307" width="4" height="1" fill="#000"/>
<rect x="601" y="307" width="4" height="1" fill="#000"/>
<rect x="578" y="298" width="2" height="1" fill="#000"/>
<rect x="601" y="298" width="2" height="1" fill="#000"/>
<rect x="576" y="288" width="4" height="1" fill="#000"/>
<rect x="601" y="288" width="4" height="1" fill="#000"/>
<rect x="578" y="278" width="2" height="1" fill="#000"/>
<rect x="601" y="278" width="2" height="1" fill="#000"/>
<rect x="576" y="269" width="4" height="1" fill="#000"/>
<rect x="601" y="269" width="4" height="1" fill="#000"/>
<rect x="578" y="259" width="2" height="1" fill="#000"/>
<rect x="601" y="259" width="2" height="1" fill="#000"/>
<rect x="576" y="249" width="4" height="1" fill="#000"/>
<rect x="601" y="249" width="4" height="1" fill="#000"/>
<rect x="80" y="364" width="421" height="1" fill="#000"/>
<rect x="80" y="440" width="421" height="2" fill="#000"/>
<rect x="80" y="363" width="1" height="81" fill="#000"/>
<rect x="500" y="363" width="1" height="81" fill="#000"/>
<rect x="115" y="442" width="1" height="2" fill="#000"/>
<rect x="150" y="442" width="1" height="2" fill="#000"/>
<rect x="185" y="442" width="1" height="2" fill="#000"/>
<rect x="220" y="442" width="1" height="2" fill="#000"/>
<rect x="255" y="442" width="1" height="2" fill="#000"/>
<rect x="290" y="442" width="1" height="2" fill="#000"/>
<rect x="325" y="442" width="1" height="2" fill="#000"/>
<rect x="360" y="442" width="1" height="2" fill="#000"/>
<rect x="395" y="442" width="1" height="2" fill="#000"/>
<rect x="430" y="442" width="1" height="2" fill="#000"/>
<rect x="465" y="442" width="1" height="2" fill="#000"/>
<rect x="185" y="363" width="1" height="1" fill="#000"/>
<rect x="290" y="363" width="1" height="1" fill="#000"/>
<rect x="395" y="363" width="1" height="1" fill="#000"/>
<rect x="71" y="441" width="9" height="1" fill="#000"/>
<rect x="501" y="441" width="8" height="1" fill="#000"/>
<rect x="75" y="439" width="5" height="1" fill="#000"/>
<rect x="501" y="439" width="4" height="1" fill="#000"/>
<rect x="75" y="436" width="5" height="1" fill="#000"/>
<rect x="501" y="436" width="4" height="1" fill="#000"/>
<rect x="75" y="434" width="5" height="1" fill="#000"/>
<rect x="501" y="434" width="4" height="1" fill="#000"/>
<rect x="75" y="431" width="5" height="1" fill="#000"/>
<rect x="501" y="431" width="4" height="1" fill="#000"/>
<rect x="71" y="429" width="9" height="1" fill="#000"/>
<rect x="501" y="429" width="8" height="1" fill="#000"/>
<rect x="75" y="426" width="5" height="1" fill="#000"/>
<rect x="501" y="426" width="4" height="1" fill="#000"/>
<rect x="75" y="424" width="5" height="1" fill="#000"/>
<rect x="501" y="424" width="4" height="1" fill="#000"/>
<rect x="75" y="421" width="5" height="1" fill="#000"/>
<rect x="501" y="421" width="4" height="1" fill="#000"/>
<rect x="75" y="418" width="5" height="1" fill="#000"/>
<rect x="501" y="418" width="4" height="1" fill="#000"/>
<rect x="71" y="416" width="9" height="1" fill="#000"/>
<rect x="501" y="416" width="8" height="1" fill="#000"/>
<rect x="75" y="413" width="5" height="1" fill="#000"/>
<rect x="501" y="413" width="4" height="1" fill="#000"/>
<rect x="75" y="411" width="5" height="1" fill="#000"/>
<rect x="501" y="411" width="4" height="1" fill="#000"/>
<rect x="75" y="408" width="5" height="1" fill="#000"/>
<rect x="501" y="408" width="4" height="1" fill="#000"/>
<rect x="75" y="406" width="5" height="1" fill="#000"/>
<rect x="501" y="406" width="4" height="1" fill="#000"/>
<rect x="71" y="403" width="9" height="1" fill="#000"/>
<rect x="501" y="403" width="8" height="1" fill="#000"/>
<rect x="75" y="400" width="5" height="1" fill="#000"/>
<rect x="501" y="400" width="4" height="1" fill="#000"/>
<rect x="75" y="398" width="5" height="1" fill="#000"/>
<rect x="501" y="398" width="4" height="1" fill="#000"/>
<rect x="75" y="395" width="5" height="1" fill="#000"/>
<rect x="501" y="395" width="4" height="1" fill="#000"/>
<rect x="75" y="393" width="5" height="1" fill="#000"/>
<rect x="501" y="393" width="4" height="1" fill="#000"/>
<rect x="71" y="390" width="9" height="1" fill="#000"/>
<rect x="501" y="390" width="8" height="1" fill="#000"/>
<rect x="75" y="388" width="5" height="1" fill="#000"/>
<rect x="501" y="388" width="4" height="1" fill="#000"/>
<rect x="75" y="385" width="5" height="1" fill="#000"/>
<rect x="501" y="385" width="4" height="1" fill="#000"/>
<rect x="75" y="382" width="5" height="1" fill="#000"/>
<rect x="501" y="382" width="4" height="1" fill="#000"/>
<rect x="75" y="380" width="5" height="1" fill="#000"/>
<rect x="501" y="380" width="4" height="1" fill="#000"/>
<rect x="71" y="377" width="9" height="1" fill="#000"/>
<rect x="501" y="377" width="8" height="1" fill="#000"/>
<rect x="75" y="375" width="5" height="1" fill="#000"/>
<rect x="501" y="375" width="4" height="1" fill="#000"/>
<rect x="75" y="372" width="5" height="1" fill="#000"/>
<rect x="501" y="372" width="4" height="1" fill="#000"/>
<rect x="75" y="370" width="5" height="1" fill="#000"/>
<rect x="501" y="370" width="4" height="1" fill="#000"/>
<rect x="75" y="367" width="5" height="1" fill="#000"/>
<rect x="501" y="367" width="4" height="1" fill="#000"/>
<rect x="71" y="364" width="9" height="1" fill="#000"/>
<rect x="501" y="364" width="8" height="1" fill="#000"/>
<rect x="581" y="365" width="19" height="76" fill="url(#g368)"/>
<rect x="580" y="364" width="1" height="78" fill="#000"/>
<rect x="600" y="364" width="1" height="78" fill="#000"/>
<rect x="576" y="441" width="29" height="1" fill="#000"/>
<rect x="576" y="441" width="4" height="1" fill="#000"/>
<rect x="601" y="441" width="4" height="1" fill="#000"/>
<rect x="578" y="432" width="2" height="1" fill="#000"/>
<rect x="601" y="432" width="2" height="1" fill="#000"/>
<rect x="576" y="422" width="4" height="1" fill="#000"/>
<rect x="601" y="422" width="4" height="1" fill="#000"/>
<rect x="578" y="413" width="2" height="1" fill="#000"/>
<rect x="601" y="413" width="2" height="1" fill="#000"/>
<rect x="576" y="403" width="4" height="1" fill="#000"/>
<rect x="601" y="403" width="4" height="1" fill="#000"/>
<rect x="578" y="393" width="2" height="1" fill="#000"/>
<rect x="601" y="393" width="2" height="1" fill="#000"/>
<rect x="576" y="384" width="4" height="1" fill="#000"/>
<rect x="601" y="384" width="4" height="1" fill="#000"/>
<rect x="578" y="374" width="2" height="1" fill="#000"/>
<rect x="601" y="374" width="2" height="1" fill="#000"/>
<rect x="576" y="364" width="4" height="1" fill="#000"/>
<rect x="601" y="364" width="4" height="1" fill="#000"/>
<rect x="80" y="460" width="421" height="1" fill="#000"/>
<rect x="80" y="536" width="421" height="2" fill="#000"/>
<rect x="80" y="459" width="1" height="81" fill="#000"/>
<rect x="500" y="459" width="1" height="81" fill="#000"/>
<rect x="115" y="538" width="1" height="2" fill="#000"/>
<rect x="150" y="538" width="1" height="2" fill="#000"/>
<rect x="185" y="538" width="1" height="2" fill="#000"/>
<rect x="220" y="538" width="1" height="2" fill="#000"/>
<rect x="255" y="538" width="1" height="2" fill="#000"/>
<rect x="290" y="538" width="1" height="2" fill="#000"/>
<rect x="325" y="538" width="1" height="2" fill="#000"/>
<rect x="360" y="538" width="1" height="2" fill="#000"/>
<rect x="395" y="538" width="1" height="2" fill="#000"/>
<rect x="430" y="538" width="1" height="2" fill="#000"/>
<rect x="465" y="538" width="1" height="2" fill="#000"/>
<rect x="185" y="459" width="1" height="1" fill="#000"/>
<rect x="290" y="459" width="1" height="1" fill="#000"/>
<rect x="395" y="459" width="1" height="1" fill="#000"/>
<rect x="71" y="537" width="9" height="1" fill="#000"/>
<rect x="501" y="537" width="8" height="1" fill="#000"/>
<rect x="75" y="535" width="5" height="1" fill="#000"/>
<rect x="501" y="535" width="4" height="1" fill="#000"/>
<rect x="75" y="532" width="5" height="1" fill="#000"/>
<rect x="501" y="532" width="4" height="1" fill="#000"/>
<rect x="75" y="530" width="5" height="1" fill="#000"/>
<rect x="501" y="530" width="4" height="1" fill="#000"/>
<rect x="75" y="527" width="5" height="1" fill="#000"/>
<rect x="501" y="527" width="4" height="1" fill="#000"/>
<rect x="71" y="525" width="9" height="1" fill="#000"/>
<rect x="501" y="525" width="8" height="1" fill="#000"/>
<rect x="75" y="522" width="5" height="1" fill="#000"/>
<rect x="501" y="522" width="4" height="1" fill="#000"/>
<rect x="75" y="520" width="5" height="1" fill="#000"/>
<rect x="501" y="520" width="4" height="1" fill="#000"/>
<rect x="75" y="517" width="5" height="1" fill="#000"/>
<rect x="501" y="517" width="4" height="1" fill="#000"/>
<rect x="75" y="514" width="5" height="1" fill="#000"/>
<rect x="501" y="514" width="4" height="1" fill="#000"/>
<rect x="71" y="512" width="9" height="1" fill="#000"/>
<rect x="501" y="512" width="8" height="1" fill="#000"/>
<rect x="75" y="509" width="5" height="1" fill="#000"/>
<rect x="501" y="509" width="4" height="1" fill="#000"/>
<rect x="75" y="507" width="5" height="1" fill="#000"/>
<rect x="501" y="507" width="4" height="1" fill="#000"/>
<rect x="75" y="504" width="5" height="1" fill="#000"/>
<rect x="501" y="504" width="4" height="1" fill="#000"/>
<rect x="75" y="502" width="5" height="1" fill="#000"/>
<rect x="501" y="502" width="4" height="1" fill="#000"/>
<rect x="71" y="499" width="9" height="1" fill="#000"/>
<rect x="501" y="499" width="8" height="1" fill="#000"/>
<rect x="75" y="496" width="5" height="1" fill="#000"/>
<rect x="501" y="496" width="4" height="1" fill="#000"/>
<rect x="75" y="494" width="5" height="1" fill="#000"/>
<rect x="501" y="494" width="4" height="1" fill="#000"/>
<rect x="75" y="491" width="5" height="1" fill="#000"/>
<rect x="501" y="491" width="4" height="1" fill="#000"/>
<rect x="75" y="489" width="5" height="1" fill="#000"/>
<rect x="501" y="489" width="4" height="1" fill="#000"/>
<rect x="71" y="486" width="9" height="1" fill="#000"/>
<rect x="501" y="486" width="8" height="1" fill="#000"/>
<rect x="75" y="484" width="5" height="1" fill="#000"/>
<rect x="501" y="484" width="4" height="1" fill="#000"/>
<rect x="75" y="481" width="5" height="1" fill="#000"/>
<rect x="501" y="481" width="4" height="1" fill="#000"/>
<rect x="75" y="478" width="5" height="1" fill="#000"/>
<rect x="501" y="478" width="4" height="1" fill="#000"/>
<rect x="75" y="476" width="5" height="1" fill="#000"/>
<rect x="501" y="476" width="4" height="1" fill="#000"/>
<rect x="71" y="473" width="9" height="1" fill="#000"/>
<rect x="501" y="473" width="8" height="1" fill="#000"/>
<rect x="75" y="471" width="5" height="1" fill="#000"/>
<rect x="501" y="471" width="4" height="1" fill="#000"/>
<rect x="75" y="468" width="5" height="1" fill="#000"/>
<rect x="501" y="468" width="4" height="1" fill="#000"/>
<rect x="75" y="466" width="5" height="1" fill="#000"/>
<rect x="501" y="466" width="4" height="1" fill="#000"/>
<rect x="75" y="463" width="5" height="1" fill="#000"/>
<rect x="501" y="463" width="4" height="1" fill="#000"/>
<rect x="71" y="460" width="9" height="1" fill="#000"/>
<rect x="501" y="460" width="8" height="1" fill="#000"/>
<rect x="581" y="461" width="19" height="76" fill="url(#g369)"/>
<rect x="580" y="460" width="1" height="78" fill="#000"/>
<rect x="600" y="460" width="1" height="78" fill="#000"/>
<rect x="576" y="537" width="29" height="1" fill="#000"/>
<rect x="576" y="537" width="4" height="1" fill="#000"/>
<rect x="601" y="537" width="4" height="1" fill="#000"/>
<rect x="578" y="528" width="2" height="1" fill="#000"/>
<rect x="601" y="528" width="2" height="1" fill="#000"/>
<rect x="576" y="518" width="4" height="1" fill="#000"/>
<rect x="601" y="518" width="4" height="1" fill="#000"/>
<rect x="578" y="509" width="2" height="1" fill="#000"/>
<rect x="601" y="509" width="2" height="1" fill="#000"/>
<rect x="576" y="499" width="4" height="1" fill="#000"/>
<rect x="601" y="499" width="4" height="1" fill="#000"/>
<rect x="578" y="489" width="2" height="1" fill="#000"/>
<rect x="601" y="489" width="2" height="1" fill="#000"/>
<rect x="576" y="480" width="4" height="1" fill="#000"/>
<rect x="601" y="480" width="4" height="1" fill="#000"/>
<rect x="578" y="470" width="2" height="1" fill="#000"/>
<rect x="601" y="470" width="2" height="1" fill="#000"/>
<rect x="576" y="460" width="4" height="1" fill="#000"/>
<rect x="601" y="460" width="4" height="1" fill="#000"/>
<rect x="80" y="556" width="421" height="1" fill="#000"/>
<rect x="80" y="632" width="421" height="2" fill="#000"/>
<rect x="80" y="555" width="1" height="81" fill="#000"/>
<rect x="500" y="555" width="1" height="81" fill="#000"/>
<rect x="115" y="634" width="1" height="2" fill="#000"/>
<rect x="150" y="634" width="1" height="2" fill="#000"/>
<rect x="185" y="634" width="1" height="2" fill="#000"/>
<rect x="220" y="634" width="1" height="2" fill="#000"/>
<rect x="255" y="634" width="1" height="2" fill="#000"/>
<rect x="290" y="634" width="1" height="2" fill="#000"/>
<rect x="325" y="634" width="1" height="2" fill="#000"/>
<rect x="360" y="634" width="1" height="2" fill="#000"/>
<rect x="395" y="634" width="1" height="2" fill="#000"/>
<rect x="430" y="634" width="1" height="2" fill="#000"/>
<rect x="465" y="634" width="1" height="2" fill="#000"/>
<rect x="185" y="555" width="1" height="1" fill="#000"/>
<rect x="290" y="555" width="1" height="1" fill="#000"/>
<rect x="395" y="555" width="1" height="1" fill="#000"/>
<rect x="71" y="633" width="9" height="1" fill="#000"/>
<rect x="501" y="633" width="8" height="1" fill="#000"/>
<rect x="75" y="631" width="5" height="1" fill="#000"/>
<rect x="501" y="631" width="4" height="1" fill="#000"/>
<rect x="75" y="628" width="5" height="1" fill="#000"/>
<rect x="501" y="628" width="4" height="1" fill="#000"/>
<rect x="75" y="626" width="5" height="1" fill="#000"/>
<rect x="501" y="626" width="4" height="1" fill="#000"/>
<rect x="75" y="623" width="5" height="1" fill="#000"/>
<rect x="501" y="623" width="4" height="1" fill="#000"/>
<rect x="71" y="621" width="9" height="1" fill="#000"/>
<rect x="501" y="621" width="8" height="1" fill="#000"/>
<rect x="75" y="618" width="5" height="1" fill="#000"/>
<rect x="501" y="618" width="4" height="1" fill="#000"/>
<rect x="75" y="616" width="5" height="1" fill="#000"/>
<rect x="501" y="616" width="4" height="1" fill="#000"/>
<rect x="75" y="613" width="5" height="1" fill="#000"/>
<rect x="501" y="613" width="4" height="1" fill="#000"/>
<rect x="75" y="610" width="5" height="1" fill="#000"/>
<rect x="501" y="610" width="4" height="1" fill="#000"/>
<rect x="71" y="608" width="9" height="1" fill="#000"/>
<rect x="501" y="608" width="8" height="1" fill="#000"/>
<rect x="75" y="605" width="5" height="1" fill="#000"/>
<rect x="501" y="605" width="4" height="1" fill="#000"/>
<rect x="75" y="603" width="5" height="1" fill="#000"/>
<rect x="501" y="603" width="4" height="1" fill="#000"/>
<rect x="75" y="600" width="5" height="1" fill="#000"/>
<rect x="501" y="600" width="4" height="1" fill="#000"/>
<rect x="75" y="598" width="5" height="1" fill="#000"/>
<rect x="501" y="598" width="4" height="1" fill="#000"/>
<rect x="71" y="595" width="9" height="1" fill="#000"/>
<rect x="501" y="595" width="8" height="1" fill="#000"/>
<rect x="75" y="592" width="5" height="1" fill="#000"/>
<rect x="501" y="592" width="4" height="1" fill="#000"/>
<rect x="75" y="590" width="5" height="1" fill="#000"/>
<rect x="501" y="590" width="4" height="1" fill="#000"/>
<rect x="75" y="587" width="5" height="1" fill="#000"/>
<rect x="501" y="587" width="4" height="1" fill="#000"/>
<rect x="75" y="585" width="5" height="1" fill="#000"/>
<rect x="501" y="585" width="4" height="1" fill="#000"/>
<rect x="71" y="582" width="9" height="1" fill="#000"/>
<rect x="501" y="582" width="8" height="1" fill="#000"/>
<rect x="75" y="580" width="5" height="1" fill="#000"/>
<rect x="501" y="580" width="4" height="1" fill="#000"/>
<rect x="75" y="577" width="5" height="1" fill="#000"/>
<rect x="501" y="577" width="4" height="1" fill="#000"/>
<rect x="75" y="574" width="5" height="1" fill="#000"/>
<rect x="501" y="574" width="4" height="1" fill="#000"/>
<rect x="75" y="572" width="5" height="1" fill="#000"/>
<rect x="501" y="572" width="4" height="1" fill="#000"/>
<rect x="71" y="569" width="9" height="1" fill="#000"/>
<rect x="501" y="569" width="8" height="1" fill="#000"/>
<rect x="75" y="567" width="5" height="1" fill="#000"/>
<rect x="501" y="567" width="4" height="1" fill="#000"/>
<rect x="75" y="564" width="5" height="1" fill="#000"/>
<rect x="501" y="564" width="4" height="1" fill="#000"/>
<rect x="75" y="562" width="5" height="1" fill="#000"/>
<rect x="501" y="562" width="4" height="1" fill="#000"/>
<rect x="75" y="559" width="5" height="1" fill="#000"/>
<rect x="501" y="559" width="4" height="1" fill="#000"/>
<rect x="71" y="556" width="9" height="1" fill="#000"/>
<rect x="501" y="556" width="8" height="1" fill="#000"/>
<rect x="581" y="557" width="19" height="76" fill="url(#g370)"/>
<rect x="580" y="556" width="1" height="78" fill="#000"/>
<rect x="600" y="556" width="1" height="78" fill="#000"/>
<rect x="576" y="633" width="29" height="1" fill="#000"/>
<rect x="576" y="633" width="4" height="1" fill="#000"/>
<rect x="601" y="633" width="4" height="1" fill="#000"/>
<rect x="578" y="624" width="2" height="1" fill="#000"/>
<rect x="601" y="624" width="2" height="1" fill="#000"/>
<rect x="576" y="614" width="4" height="1" fill="#000"/>
<rect x="601" y="614" width="4" height="1" fill="#000"/>
<rect x="578" y="605" width="2" height="1" fill="#000"/>
<rect x="601" y="605" width="2" height="1" fill="#000"/>
<rect x="576" y="595" width="4" height="1" fill="#000"/>
<rect x="601" y="595" width="4" height="1" fill="#000"/>
<rect x="578" y="585" width="2" height="1" fill="#000"/>
<rect x="601" y="585" width="2" height="1" fill="#000"/>
<rect x="576" y="576" width="4" height="1" fill="#000"/>
<rect x="601" y="576" width="4" height="1" fill="#000"/>
<rect x="578" y="566" width="2" height="1" fill="#000"/>
<rect x="601" y="566" width="2" height="1" fill="#000"/>
<rect x="576" y="556" width="4" height="1" fill="#000"/>
<rect x="601" y="556" width="4" height="1" fill="#000"/>
<text x="120.89999999999999" y="32.7" font-size="16" textLength="41.6" lengthAdjust="spacing">Polar</text>
<text x="170.29999999999998" y="32.7" font-size="16" textLength="28.4" lengthAdjust="spacingAndGlyphs">PWI</text>
<text x="206.29999999999998" y="32.7" font-size="16" textLength="43.0" lengthAdjust="spacingAndGlyphs">LFWR</text>
<text x="257.0" y="32.7" font-size="16" textLength="73.8" lengthAdjust="spacing">Channels</text>
<text x="339.9" y="32.7" font-size="16">1</text>
<text x="359.4" y="32.7" font-size="16" textLength="12.2" lengthAdjust="spacingAndGlyphs">&#8722;</text>
<text x="380.8" y="32.7" font-size="16" textLength="9.7" lengthAdjust="spacing">6</text>
<text x="399.90000000000003" y="32.7" font-size="16" textLength="57.9" lengthAdjust="spacing">Despun</text>
<text x="562.5" y="37" font-size="10" textLength="54.5" lengthAdjust="spacing">(V/m)&#178;/Hz</text>
<text x="572.5" y="344" font-size="10" textLength="33.7" lengthAdjust="spacing">nT&#178;/Hz</text>
<text transform="translate(39.5,141.2) rotate(-90)" x="0" y="0" font-size="14" textLength="87.2" lengthAdjust="spacing">Ex&#8217; freq (Hz)</text>
<text transform="translate(39.5,236.3) rotate(-90)" x="0" y="0" font-size="14" textLength="85.5" lengthAdjust="spacing">Ey&#8217; freq (Hz)</text>
<text transform="translate(39.5,330.4) rotate(-90)" x="0" y="0" font-size="14" textLength="81.8" lengthAdjust="spacing">Ez freq (Hz)</text>
<text transform="translate(39.5,446.4) rotate(-90)" x="0" y="0" font-size="14" textLength="85.6" lengthAdjust="spacing">Bx&#8217; freq (Hz)</text>
<text transform="translate(39.5,544.6) rotate(-90)" x="0" y="0" font-size="14" textLength="87.6" lengthAdjust="spacing">By&#8217; freq (Hz)</text>
<text transform="translate(39.5,637.0) rotate(-90)" x="0" y="0" font-size="14" textLength="83.6" lengthAdjust="spacing">Bz freq (Hz)</text>
<text x="66" y="65.7" font-size="13.5" text-anchor="end">30</text>
<text x="66" y="75.8" font-size="13.5" text-anchor="end">25</text>
<text x="66" y="88.8" font-size="13.5" text-anchor="end">20</text>
<text x="66" y="101.9" font-size="13.5" text-anchor="end">15</text>
<text x="66" y="114.9" font-size="13.5" text-anchor="end">10</text>
<text x="66" y="127.0" font-size="13.5" text-anchor="end">5</text>
<text x="66" y="134.7" font-size="13.5" text-anchor="end">0</text>
<text x="66" y="161.7" font-size="13.5" text-anchor="end">30</text>
<text x="66" y="171.8" font-size="13.5" text-anchor="end">25</text>
<text x="66" y="184.8" font-size="13.5" text-anchor="end">20</text>
<text x="66" y="197.9" font-size="13.5" text-anchor="end">15</text>
<text x="66" y="210.9" font-size="13.5" text-anchor="end">10</text>
<text x="66" y="223.0" font-size="13.5" text-anchor="end">5</text>
<text x="66" y="230.7" font-size="13.5" text-anchor="end">0</text>
<text x="66" y="257.7" font-size="13.5" text-anchor="end">30</text>
<text x="66" y="267.8" font-size="13.5" text-anchor="end">25</text>
<text x="66" y="280.8" font-size="13.5" text-anchor="end">20</text>
<text x="66" y="293.9" font-size="13.5" text-anchor="end">15</text>
<text x="66" y="306.9" font-size="13.5" text-anchor="end">10</text>
<text x="66" y="319.0" font-size="13.5" text-anchor="end">5</text>
<text x="66" y="326.7" font-size="13.5" text-anchor="end">0</text>
<text x="66" y="372.7" font-size="13.5" text-anchor="end">30</text>
<text x="66" y="382.8" font-size="13.5" text-anchor="end">25</text>
<text x="66" y="395.8" font-size="13.5" text-anchor="end">20</text>
<text x="66" y="408.9" font-size="13.5" text-anchor="end">15</text>
<text x="66" y="421.9" font-size="13.5" text-anchor="end">10</text>
<text x="66" y="434.0" font-size="13.5" text-anchor="end">5</text>
<text x="66" y="441.7" font-size="13.5" text-anchor="end">0</text>
<text x="66" y="468.7" font-size="13.5" text-anchor="end">30</text>
<text x="66" y="478.8" font-size="13.5" text-anchor="end">25</text>
<text x="66" y="491.8" font-size="13.5" text-anchor="end">20</text>
<text x="66" y="504.9" font-size="13.5" text-anchor="end">15</text>
<text x="66" y="517.9" font-size="13.5" text-anchor="end">10</text>
<text x="66" y="530.0" font-size="13.5" text-anchor="end">5</text>
<text x="66" y="537.7" font-size="13.5" text-anchor="end">0</text>
<text x="66" y="564.7" font-size="13.5" text-anchor="end">30</text>
<text x="66" y="574.8" font-size="13.5" text-anchor="end">25</text>
<text x="66" y="587.8" font-size="13.5" text-anchor="end">20</text>
<text x="66" y="600.9" font-size="13.5" text-anchor="end">15</text>
<text x="66" y="613.9" font-size="13.5" text-anchor="end">10</text>
<text x="66" y="626.0" font-size="13.5" text-anchor="end">5</text>
<text x="66" y="633.7" font-size="13.5" text-anchor="end">0</text>
<text x="536.8" y="66.7" font-size="13.5" textLength="14.800000000000068" lengthAdjust="spacingAndGlyphs">10</text>
<text x="552.9" y="60.1" font-size="13.5" textLength="9.7" lengthAdjust="spacingAndGlyphs">&#8722;</text>
<text x="564" y="59.9" font-size="13.5" textLength="6.7999999999999545" lengthAdjust="spacingAndGlyphs">2</text>
<text x="536.8" y="82.1" font-size="13.5" textLength="14.800000000000068" lengthAdjust="spacingAndGlyphs">10</text>
<text x="552.9" y="76.1" font-size="13.5" textLength="9.7" lengthAdjust="spacingAndGlyphs">&#8722;</text>
<text x="564" y="76.0" font-size="13.5" textLength="6.7999999999999545" lengthAdjust="spacingAndGlyphs">4</text>
<text x="536.8" y="102.0" font-size="13.5" textLength="14.800000000000068" lengthAdjust="spacingAndGlyphs">10</text>
<text x="552.9" y="95.1" font-size="13.5" textLength="9.7" lengthAdjust="spacingAndGlyphs">&#8722;</text>
<text x="564" y="95.0" font-size="13.5" textLength="6.7999999999999545" lengthAdjust="spacingAndGlyphs">6</text>
<text x="536.8" y="120.5" font-size="13.5" textLength="14.800000000000068" lengthAdjust="spacingAndGlyphs">10</text>
<text x="552.9" y="113.8" font-size="13.5" textLength="9.7" lengthAdjust="spacingAndGlyphs">&#8722;</text>
<text x="564" y="113.7" font-size="13.5" textLength="6.7999999999999545" lengthAdjust="spacingAndGlyphs">8</text>
<text x="529.3" y="134.7" font-size="13.5" textLength="13.700000000000045" lengthAdjust="spacingAndGlyphs">10</text>
<text x="544.8" y="128.8" font-size="13.5" textLength="9.8" lengthAdjust="spacingAndGlyphs">&#8722;</text>
<text x="556.6" y="128.5" font-size="13.5" textLength="14.799999999999955" lengthAdjust="spacingAndGlyphs">10</text>
<text x="536.8" y="162.7" font-size="13.5" textLength="14.800000000000068" lengthAdjust="spacingAndGlyphs">10</text>
<text x="552.9" y="156.1" font-size="13.5" textLength="9.7" lengthAdjust="spacingAndGlyphs">&#8722;</text>
<text x="564" y="155.9" font-size="13.5" textLength="6.7999999999999545" lengthAdjust="spacingAndGlyphs">2</text>
<text x="536.8" y="178.1" font-size="13.5" textLength="14.800000000000068" lengthAdjust="spacingAndGlyphs">10</text>
<text x="552.9" y="172.1" font-size="13.5" textLength="9.7" lengthAdjust="spacingAndGlyphs">&#8722;</text>
<text x="564" y="172.0" font-size="13.5" textLength="6.7999999999999545" lengthAdjust="spacingAndGlyphs">4</text>
<text x="536.8" y="198.0" font-size="13.5" textLength="14.800000000000068" lengthAdjust="spacingAndGlyphs">10</text>
<text x="552.9" y="191.1" font-size="13.5" textLength="9.7" lengthAdjust="spacingAndGlyphs">&#8722;</text>
<text x="564" y="191.0" font-size="13.5" textLength="6.7999999999999545" lengthAdjust="spacingAndGlyphs">6</text>
<text x="536.8" y="216.5" font-size="13.5" textLength="14.800000000000068" lengthAdjust="spacingAndGlyphs">10</text>
<text x="552.9" y="209.8" font-size="13.5" textLength="9.7" lengthAdjust="spacingAndGlyphs">&#8722;</text>
<text x="564" y="209.7" font-size="13.5" textLength="6.7999999999999545" lengthAdjust="spacingAndGlyphs">8</text>
<text x="529.3" y="230.7" font-size="13.5" textLength="13.700000000000045" lengthAdjust="spacingAndGlyphs">10</text>
<text x="544.8" y="224.8" font-size="13.5" textLength="9.8" lengthAdjust="spacingAndGlyphs">&#8722;</text>
<text x="556.6" y="224.5" font-size="13.5" textLength="14.799999999999955" lengthAdjust="spacingAndGlyphs">10</text>
<text x="536.8" y="258.7" font-size="13.5" textLength="14.800000000000068" lengthAdjust="spacingAndGlyphs">10</text>
<text x="552.9" y="252.1" font-size="13.5" textLength="9.7" lengthAdjust="spacingAndGlyphs">&#8722;</text>
<text x="564" y="251.9" font-size="13.5" textLength="6.7999999999999545" lengthAdjust="spacingAndGlyphs">2</text>
<text x="536.8" y="274.1" font-size="13.5" textLength="14.800000000000068" lengthAdjust="spacingAndGlyphs">10</text>
<text x="552.9" y="268.1" font-size="13.5" textLength="9.7" lengthAdjust="spacingAndGlyphs">&#8722;</text>
<text x="564" y="268.0" font-size="13.5" textLength="6.7999999999999545" lengthAdjust="spacingAndGlyphs">4</text>
<text x="536.8" y="294.0" font-size="13.5" textLength="14.800000000000068" lengthAdjust="spacingAndGlyphs">10</text>
<text x="552.9" y="287.1" font-size="13.5" textLength="9.7" lengthAdjust="spacingAndGlyphs">&#8722;</text>
<text x="564" y="287.0" font-size="13.5" textLength="6.7999999999999545" lengthAdjust="spacingAndGlyphs">6</text>
<text x="536.8" y="312.5" font-size="13.5" textLength="14.800000000000068" lengthAdjust="spacingAndGlyphs">10</text>
<text x="552.9" y="305.8" font-size="13.5" textLength="9.7" lengthAdjust="spacingAndGlyphs">&#8722;</text>
<text x="564" y="305.7" font-size="13.5" textLength="6.7999999999999545" lengthAdjust="spacingAndGlyphs">8</text>
<text x="529.3" y="326.7" font-size="13.5" textLength="13.700000000000045" lengthAdjust="spacingAndGlyphs">10</text>
<text x="544.8" y="320.8" font-size="13.5" textLength="9.8" lengthAdjust="spacingAndGlyphs">&#8722;</text>
<text x="556.6" y="320.5" font-size="13.5" textLength="14.799999999999955" lengthAdjust="spacingAndGlyphs">10</text>
<text x="547.5" y="374.0" font-size="13.5" textLength="15.200000000000045" lengthAdjust="spacing">10</text>
<text x="564" y="366.8" font-size="13.5" textLength="6.7999999999999545" lengthAdjust="spacingAndGlyphs">2</text>
<text x="547.5" y="389.3" font-size="13.5" textLength="15.200000000000045" lengthAdjust="spacing">10</text>
<text x="564" y="383.0" font-size="13.5" textLength="6.7999999999999545" lengthAdjust="spacingAndGlyphs">0</text>
<text x="536.7" y="409.0" font-size="13.5" textLength="15.299999999999955" lengthAdjust="spacing">10</text>
<text x="552.9" y="402.0" font-size="13.5" textLength="9.7" lengthAdjust="spacingAndGlyphs">&#8722;</text>
<text x="564" y="401.0" font-size="13.5" textLength="6.7999999999999545" lengthAdjust="spacingAndGlyphs">2</text>
<text x="536.7" y="428.0" font-size="13.5" textLength="15.299999999999955" lengthAdjust="spacing">10</text>
<text x="552.9" y="420.8" font-size="13.5" textLength="9.7" lengthAdjust="spacingAndGlyphs">&#8722;</text>
<text x="564" y="419.8" font-size="13.5" textLength="6.7999999999999545" lengthAdjust="spacingAndGlyphs">4</text>
<text x="536.7" y="441.4" font-size="13.5" textLength="15.299999999999955" lengthAdjust="spacing">10</text>
<text x="552.9" y="436.6" font-size="13.5" textLength="9.7" lengthAdjust="spacingAndGlyphs">&#8722;</text>
<text x="564" y="436.0" font-size="13.5" textLength="6.7999999999999545" lengthAdjust="spacingAndGlyphs">6</text>
<text x="547.5" y="470.0" font-size="13.5" textLength="15.200000000000045" lengthAdjust="spacing">10</text>
<text x="564" y="462.8" font-size="13.5" textLength="6.7999999999999545" lengthAdjust="spacingAndGlyphs">2</text>
<text x="547.5" y="485.3" font-size="13.5" textLength="15.200000000000045" lengthAdjust="spacing">10</text>
<text x="564" y="479.0" font-size="13.5" textLength="6.7999999999999545" lengthAdjust="spacingAndGlyphs">0</text>
<text x="536.7" y="505.0" font-size="13.5" textLength="15.299999999999955" lengthAdjust="spacing">10</text>
<text x="552.9" y="498.0" font-size="13.5" textLength="9.7" lengthAdjust="spacingAndGlyphs">&#8722;</text>
<text x="564" y="497.0" font-size="13.5" textLength="6.7999999999999545" lengthAdjust="spacingAndGlyphs">2</text>
<text x="536.7" y="524.0" font-size="13.5" textLength="15.299999999999955" lengthAdjust="spacing">10</text>
<text x="552.9" y="516.8" font-size="13.5" textLength="9.7" lengthAdjust="spacingAndGlyphs">&#8722;</text>
<text x="564" y="515.8" font-size="13.5" textLength="6.7999999999999545" lengthAdjust="spacingAndGlyphs">4</text>
<text x="536.7" y="537.4" font-size="13.5" textLength="15.299999999999955" lengthAdjust="spacing">10</text>
<text x="552.9" y="532.6" font-size="13.5" textLength="9.7" lengthAdjust="spacingAndGlyphs">&#8722;</text>
<text x="564" y="532.0" font-size="13.5" textLength="6.7999999999999545" lengthAdjust="spacingAndGlyphs">6</text>
<text x="547.5" y="566.0" font-size="13.5" textLength="15.200000000000045" lengthAdjust="spacing">10</text>
<text x="564" y="558.8" font-size="13.5" textLength="6.7999999999999545" lengthAdjust="spacingAndGlyphs">2</text>
<text x="547.5" y="581.3" font-size="13.5" textLength="15.200000000000045" lengthAdjust="spacing">10</text>
<text x="564" y="575.0" font-size="13.5" textLength="6.7999999999999545" lengthAdjust="spacingAndGlyphs">0</text>
<text x="536.7" y="601.0" font-size="13.5" textLength="15.299999999999955" lengthAdjust="spacing">10</text>
<text x="552.9" y="594.0" font-size="13.5" textLength="9.7" lengthAdjust="spacingAndGlyphs">&#8722;</text>
<text x="564" y="593.0" font-size="13.5" textLength="6.7999999999999545" lengthAdjust="spacingAndGlyphs">2</text>
<text x="536.7" y="620.0" font-size="13.5" textLength="15.299999999999955" lengthAdjust="spacing">10</text>
<text x="552.9" y="612.8" font-size="13.5" textLength="9.7" lengthAdjust="spacingAndGlyphs">&#8722;</text>
<text x="564" y="611.8" font-size="13.5" textLength="6.7999999999999545" lengthAdjust="spacingAndGlyphs">4</text>
<text x="536.7" y="633.4" font-size="13.5" textLength="15.299999999999955" lengthAdjust="spacing">10</text>
<text x="552.9" y="628.6" font-size="13.5" textLength="9.7" lengthAdjust="spacingAndGlyphs">&#8722;</text>
<text x="564" y="628.0" font-size="13.5" textLength="6.7999999999999545" lengthAdjust="spacingAndGlyphs">6</text>
<text x="15.7" y="653.9" font-size="13" textLength="31.2" lengthAdjust="spacingAndGlyphs">SCET</text>
<text x="49.8" y="653.9" font-size="13" textLength="60.4" lengthAdjust="spacing">00:00 18</text>
<text x="154.8" y="653.9" font-size="13" textLength="60.4" lengthAdjust="spacing">06:00 18</text>
<text x="259.8" y="653.9" font-size="13" textLength="60.4" lengthAdjust="spacing">12:00 18</text>
<text x="364.8" y="653.9" font-size="13" textLength="60.4" lengthAdjust="spacing">18:00 18</text>
<text x="469.8" y="653.9" font-size="13" textLength="60.4" lengthAdjust="spacing">00:00 19</text>
<text x="72.4" y="672" font-size="13" textLength="28.2" lengthAdjust="spacing">8.22</text>
<text x="177.4" y="672" font-size="13" textLength="28.2" lengthAdjust="spacing">8.11</text>
<text x="282.4" y="672" font-size="13" textLength="28.2" lengthAdjust="spacing">2.04</text>
<text x="387.4" y="672" font-size="13" textLength="28.2" lengthAdjust="spacing">8.42</text>
<text x="492.4" y="672" font-size="13" textLength="28.2" lengthAdjust="spacing">7.85</text>
<text x="64.3" y="689.6" font-size="13" textLength="36.3" lengthAdjust="spacing">78.98</text>
<text x="169.3" y="689.6" font-size="13" textLength="36.3" lengthAdjust="spacing">54.74</text>
<text x="265" y="689.6" font-size="13" textLength="47" lengthAdjust="spacing">&#8722;22.40</text>
<text x="379.3" y="689.6" font-size="13" textLength="36.3" lengthAdjust="spacing">82.73</text>
<text x="484.3" y="689.6" font-size="13" textLength="36.3" lengthAdjust="spacing">61.95</text>
<text x="72.4" y="707.5" font-size="13" textLength="28.2" lengthAdjust="spacing">8.81</text>
<text x="169.3" y="707.5" font-size="13" textLength="36.3" lengthAdjust="spacing">18.53</text>
<text x="282.4" y="707.5" font-size="13" textLength="28.2" lengthAdjust="spacing">7.45</text>
<text x="379.3" y="707.5" font-size="13" textLength="36.3" lengthAdjust="spacing">23.78</text>
<text x="484.3" y="707.5" font-size="13" textLength="36.3" lengthAdjust="spacing">19.97</text>
<text x="56.2" y="725.8" font-size="13" textLength="44.4" lengthAdjust="spacing">224.14</text>
<text x="169.3" y="725.8" font-size="13" textLength="36.3" lengthAdjust="spacing">24.19</text>
<text x="282.4" y="725.8" font-size="13" textLength="28.2" lengthAdjust="spacing">2.47</text>
<text x="371.2" y="725.8" font-size="13" textLength="44.4" lengthAdjust="spacing">523.94</text>
<text x="484.3" y="725.8" font-size="13" textLength="36.3" lengthAdjust="spacing">35.59</text>
<text x="34.8" y="672" font-size="13">R</text>
<text x="42.5" y="676" font-size="9.5">E</text>
<text x="33.4" y="689.6" font-size="13">&#955;</text>
<text x="39.7" y="693.2" font-size="9.5">m</text>
<text x="24.9" y="707.5" font-size="13" textLength="21.8" lengthAdjust="spacingAndGlyphs">MLT</text>
<text x="41.8" y="725.8" font-size="13">L</text>
<text x="147.5" y="743.5" font-size="13" textLength="285" lengthAdjust="spacing">1996/06/18 00:00 to 1996/06/19 00:00</text>
<text x="570.5" y="765.8" font-size="8" textLength="66" lengthAdjust="spacing" font-weight="bold">UIowa 19980223</text></svg>
</body></html>
